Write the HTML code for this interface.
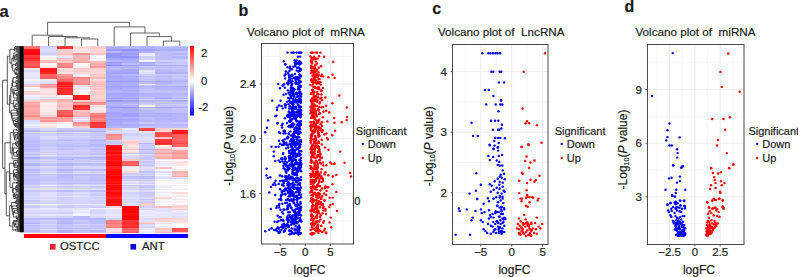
<!DOCTYPE html>
<html><head><meta charset="utf-8"><style>
html,body{margin:0;padding:0;background:#fff;width:798px;height:277px;overflow:hidden}
svg{display:block}
text{font-family:"Liberation Sans",sans-serif;fill:#1a1a1a;stroke:#1a1a1a;stroke-width:0.18px}
</style></head><body>
<svg width="798" height="277" viewBox="0 0 798 277">
<rect width="798" height="277" fill="#fff"/>
<g shape-rendering="crispEdges"><rect x="24.0" y="46.0" width="16.45" height="1.1" fill="#ff7979"/><rect x="24.0" y="47.0" width="16.45" height="2.0" fill="#ff6f6f"/><rect x="24.0" y="49.0" width="16.45" height="2.0" fill="#ff0c0c"/><rect x="24.0" y="51.0" width="16.45" height="1.6" fill="#ff0f0f"/><rect x="24.0" y="52.5" width="16.45" height="2.0" fill="#ff0000"/><rect x="24.0" y="54.5" width="16.45" height="1.1" fill="#ff3f3f"/><rect x="24.0" y="55.5" width="16.45" height="2.0" fill="#ff3535"/><rect x="24.0" y="57.5" width="16.45" height="1.1" fill="#ff2727"/><rect x="24.0" y="58.5" width="16.45" height="1.1" fill="#ff3232"/><rect x="24.0" y="59.5" width="16.45" height="1.1" fill="#ff3030"/><rect x="24.0" y="60.5" width="16.45" height="1.1" fill="#ff5656"/><rect x="24.0" y="61.5" width="16.45" height="1.6" fill="#ff5353"/><rect x="24.0" y="63.0" width="16.45" height="2.0" fill="#ff5858"/><rect x="24.0" y="65.0" width="16.45" height="1.1" fill="#ff5e5e"/><rect x="24.0" y="66.0" width="16.45" height="1.1" fill="#ff4949"/><rect x="24.0" y="67.0" width="16.45" height="1.1" fill="#ff4b4b"/><rect x="24.0" y="68.0" width="16.45" height="1.1" fill="#f0e8ff"/><rect x="24.0" y="69.0" width="16.45" height="1.1" fill="#f0e8ff"/><rect x="24.0" y="70.0" width="16.45" height="2.0" fill="#dbdbff"/><rect x="24.0" y="72.0" width="16.45" height="2.0" fill="#e5e5ff"/><rect x="24.0" y="74.0" width="16.45" height="2.0" fill="#eaeaff"/><rect x="24.0" y="76.0" width="16.45" height="1.1" fill="#e7e7ff"/><rect x="24.0" y="77.0" width="16.45" height="1.6" fill="#e2e2ff"/><rect x="24.0" y="78.5" width="16.45" height="2.0" fill="#f2f2ff"/><rect x="24.0" y="80.5" width="16.45" height="1.1" fill="#e5e5ff"/><rect x="24.0" y="81.5" width="16.45" height="1.6" fill="#e7e7ff"/><rect x="24.0" y="83.0" width="16.45" height="1.1" fill="#e1e1ff"/><rect x="24.0" y="84.0" width="16.45" height="1.1" fill="#d2d2ff"/><rect x="24.0" y="85.0" width="16.45" height="1.1" fill="#ffc6c6"/><rect x="24.0" y="86.0" width="16.45" height="1.1" fill="#ffbaba"/><rect x="24.0" y="87.0" width="16.45" height="1.1" fill="#f7f7ff"/><rect x="24.0" y="88.0" width="16.45" height="2.0" fill="#efefff"/><rect x="24.0" y="90.0" width="16.45" height="1.1" fill="#f9f9ff"/><rect x="24.0" y="91.0" width="16.45" height="1.6" fill="#ffcfcf"/><rect x="24.0" y="92.5" width="16.45" height="2.0" fill="#ffd5d5"/><rect x="24.0" y="94.5" width="16.45" height="2.0" fill="#f1f1ff"/><rect x="24.0" y="96.5" width="16.45" height="1.1" fill="#dfdfff"/><rect x="24.0" y="97.5" width="16.45" height="1.1" fill="#f7f7ff"/><rect x="24.0" y="98.5" width="16.45" height="1.1" fill="#dfdfff"/><rect x="24.0" y="99.5" width="16.45" height="2.0" fill="#ffd2d2"/><rect x="24.0" y="101.5" width="16.45" height="1.1" fill="#ff9e9e"/><rect x="24.0" y="102.5" width="16.45" height="1.1" fill="#ffb1b1"/><rect x="24.0" y="103.5" width="16.45" height="1.1" fill="#ffa9a9"/><rect x="24.0" y="104.5" width="16.45" height="1.1" fill="#ffa0a0"/><rect x="24.0" y="105.5" width="16.45" height="1.1" fill="#ffa1a1"/><rect x="24.0" y="106.5" width="16.45" height="1.1" fill="#ffa3a3"/><rect x="24.0" y="107.5" width="16.45" height="2.0" fill="#ffaaaa"/><rect x="24.0" y="109.5" width="16.45" height="2.0" fill="#ffa9a9"/><rect x="24.0" y="111.5" width="16.45" height="1.1" fill="#ffa1a1"/><rect x="24.0" y="112.5" width="16.45" height="1.6" fill="#ff9b9b"/><rect x="24.0" y="114.0" width="16.45" height="1.1" fill="#ffa8a8"/><rect x="24.0" y="115.0" width="16.45" height="2.0" fill="#ff8f8f"/><rect x="24.0" y="117.0" width="16.45" height="1.6" fill="#ffa8a8"/><rect x="24.0" y="118.5" width="16.45" height="1.6" fill="#ffaeae"/><rect x="24.0" y="120.0" width="16.45" height="2.0" fill="#d8d8ff"/><rect x="24.0" y="122.0" width="16.45" height="2.0" fill="#e0e0ff"/><rect x="24.0" y="124.0" width="16.45" height="1.6" fill="#eeeeff"/><rect x="24.0" y="125.5" width="16.45" height="2.0" fill="#e5e5ff"/><rect x="24.0" y="127.5" width="16.45" height="2.0" fill="#cacaff"/><rect x="24.0" y="129.5" width="16.45" height="1.6" fill="#bcbcff"/><rect x="24.0" y="131.0" width="16.45" height="1.1" fill="#b3b3ff"/><rect x="24.0" y="132.0" width="16.45" height="1.1" fill="#d7d7ff"/><rect x="24.0" y="133.0" width="16.45" height="1.1" fill="#c3c3ff"/><rect x="24.0" y="134.0" width="16.45" height="2.0" fill="#c5c5ff"/><rect x="24.0" y="136.0" width="16.45" height="1.1" fill="#c8c8ff"/><rect x="24.0" y="137.0" width="16.45" height="2.0" fill="#c7c7ff"/><rect x="24.0" y="139.0" width="16.45" height="1.1" fill="#c2c2ff"/><rect x="24.0" y="140.0" width="16.45" height="1.1" fill="#bcbcff"/><rect x="24.0" y="141.0" width="16.45" height="1.6" fill="#bcbcff"/><rect x="24.0" y="142.5" width="16.45" height="1.1" fill="#c4c4ff"/><rect x="24.0" y="143.5" width="16.45" height="1.1" fill="#b8b8ff"/><rect x="24.0" y="144.5" width="16.45" height="1.1" fill="#babaff"/><rect x="24.0" y="145.5" width="16.45" height="1.6" fill="#b8b8ff"/><rect x="24.0" y="147.0" width="16.45" height="1.6" fill="#c0c0ff"/><rect x="24.0" y="148.5" width="16.45" height="1.6" fill="#b9b9ff"/><rect x="24.0" y="150.0" width="16.45" height="1.6" fill="#c0c0ff"/><rect x="24.0" y="151.5" width="16.45" height="1.1" fill="#cfcfff"/><rect x="24.0" y="152.5" width="16.45" height="1.1" fill="#c9c9ff"/><rect x="24.0" y="153.5" width="16.45" height="1.1" fill="#c0c0ff"/><rect x="24.0" y="154.5" width="16.45" height="1.1" fill="#cdcdff"/><rect x="24.0" y="155.5" width="16.45" height="1.1" fill="#c5c5ff"/><rect x="24.0" y="156.5" width="16.45" height="2.0" fill="#aeaeff"/><rect x="24.0" y="158.5" width="16.45" height="1.6" fill="#bdbdff"/><rect x="24.0" y="160.0" width="16.45" height="1.1" fill="#cbcbff"/><rect x="24.0" y="161.0" width="16.45" height="1.1" fill="#c4c4ff"/><rect x="24.0" y="162.0" width="16.45" height="1.1" fill="#ceceff"/><rect x="24.0" y="163.0" width="16.45" height="2.0" fill="#b5b5ff"/><rect x="24.0" y="165.0" width="16.45" height="1.1" fill="#b3b3ff"/><rect x="24.0" y="166.0" width="16.45" height="1.1" fill="#ceceff"/><rect x="24.0" y="167.0" width="16.45" height="1.6" fill="#d0d0ff"/><rect x="24.0" y="168.5" width="16.45" height="2.0" fill="#babaff"/><rect x="24.0" y="170.5" width="16.45" height="2.0" fill="#c3c3ff"/><rect x="24.0" y="172.5" width="16.45" height="1.1" fill="#cfcfff"/><rect x="24.0" y="173.5" width="16.45" height="1.1" fill="#bfbfff"/><rect x="24.0" y="174.5" width="16.45" height="1.1" fill="#bfbfff"/><rect x="24.0" y="175.5" width="16.45" height="1.1" fill="#c4c4ff"/><rect x="24.0" y="176.5" width="16.45" height="2.0" fill="#c5c5ff"/><rect x="24.0" y="178.5" width="16.45" height="2.0" fill="#b9b9ff"/><rect x="24.0" y="180.5" width="16.45" height="2.0" fill="#c1c1ff"/><rect x="24.0" y="182.5" width="16.45" height="1.1" fill="#bcbcff"/><rect x="24.0" y="183.5" width="16.45" height="1.6" fill="#c4c4ff"/><rect x="24.0" y="185.0" width="16.45" height="1.1" fill="#d9d9ff"/><rect x="24.0" y="186.0" width="16.45" height="1.6" fill="#cfcfff"/><rect x="24.0" y="187.5" width="16.45" height="1.6" fill="#dfdfff"/><rect x="24.0" y="189.0" width="16.45" height="1.1" fill="#e2e2ff"/><rect x="24.0" y="190.0" width="16.45" height="2.0" fill="#c6c6ff"/><rect x="24.0" y="192.0" width="16.45" height="1.1" fill="#d3d3ff"/><rect x="24.0" y="193.0" width="16.45" height="1.1" fill="#d7d7ff"/><rect x="24.0" y="194.0" width="16.45" height="2.0" fill="#d1d1ff"/><rect x="24.0" y="196.0" width="16.45" height="1.1" fill="#dcdcff"/><rect x="24.0" y="197.0" width="16.45" height="1.6" fill="#d1d1ff"/><rect x="24.0" y="198.5" width="16.45" height="1.1" fill="#d9d9ff"/><rect x="24.0" y="199.5" width="16.45" height="1.1" fill="#cbcbff"/><rect x="24.0" y="200.5" width="16.45" height="2.0" fill="#cdcdff"/><rect x="24.0" y="202.5" width="16.45" height="1.1" fill="#cdcdff"/><rect x="24.0" y="203.5" width="16.45" height="1.6" fill="#eaeaff"/><rect x="24.0" y="205.0" width="16.45" height="1.1" fill="#d2d2ff"/><rect x="24.0" y="206.0" width="16.45" height="2.0" fill="#cacaff"/><rect x="24.0" y="208.0" width="16.45" height="1.1" fill="#e0e0ff"/><rect x="24.0" y="209.0" width="16.45" height="1.1" fill="#e6e6ff"/><rect x="24.0" y="210.0" width="16.45" height="1.6" fill="#d8d8ff"/><rect x="24.0" y="211.5" width="16.45" height="1.1" fill="#d8d8ff"/><rect x="24.0" y="212.5" width="16.45" height="1.6" fill="#d0d0ff"/><rect x="24.0" y="214.0" width="16.45" height="2.0" fill="#e3e3ff"/><rect x="24.0" y="216.0" width="16.45" height="2.0" fill="#d5d5ff"/><rect x="24.0" y="218.0" width="16.45" height="2.0" fill="#bbbbff"/><rect x="24.0" y="220.0" width="16.45" height="1.6" fill="#c6c6ff"/><rect x="24.0" y="221.5" width="16.45" height="1.1" fill="#bbbbff"/><rect x="24.0" y="222.5" width="16.45" height="1.6" fill="#b5b5ff"/><rect x="24.0" y="224.0" width="16.45" height="1.1" fill="#cacaff"/><rect x="24.0" y="225.0" width="16.45" height="1.1" fill="#bebeff"/><rect x="24.0" y="226.0" width="16.45" height="2.0" fill="#c6c6ff"/><rect x="24.0" y="228.0" width="16.45" height="1.1" fill="#c3c3ff"/><rect x="24.0" y="229.0" width="16.45" height="1.1" fill="#c8c8ff"/><rect x="24.0" y="230.0" width="16.45" height="1.6" fill="#b7b7ff"/><rect x="24.0" y="231.5" width="16.45" height="1.1" fill="#cdcdff"/><rect x="40.4" y="46.0" width="16.45" height="1.1" fill="#cdcdff"/><rect x="40.4" y="47.0" width="16.45" height="2.0" fill="#d4d4ff"/><rect x="40.4" y="49.0" width="16.45" height="2.0" fill="#dbdbff"/><rect x="40.4" y="51.0" width="16.45" height="1.6" fill="#d9d9ff"/><rect x="40.4" y="52.5" width="16.45" height="2.0" fill="#ceceff"/><rect x="40.4" y="54.5" width="16.45" height="1.1" fill="#e4e4ff"/><rect x="40.4" y="55.5" width="16.45" height="2.0" fill="#fff2f2"/><rect x="40.4" y="57.5" width="16.45" height="1.1" fill="#ffecec"/><rect x="40.4" y="58.5" width="16.45" height="1.1" fill="#fff5f5"/><rect x="40.4" y="59.5" width="16.45" height="1.1" fill="#ffb2b2"/><rect x="40.4" y="60.5" width="16.45" height="1.1" fill="#ffc0c0"/><rect x="40.4" y="61.5" width="16.45" height="1.6" fill="#ffb0b0"/><rect x="40.4" y="63.0" width="16.45" height="2.0" fill="#fff3f3"/><rect x="40.4" y="65.0" width="16.45" height="1.1" fill="#fff1f1"/><rect x="40.4" y="66.0" width="16.45" height="1.1" fill="#ffe7e7"/><rect x="40.4" y="67.0" width="16.45" height="1.1" fill="#ffe7e7"/><rect x="40.4" y="68.0" width="16.45" height="1.1" fill="#ff1515"/><rect x="40.4" y="69.0" width="16.45" height="1.1" fill="#ff1919"/><rect x="40.4" y="70.0" width="16.45" height="2.0" fill="#ff1414"/><rect x="40.4" y="72.0" width="16.45" height="2.0" fill="#ff2525"/><rect x="40.4" y="74.0" width="16.45" height="2.0" fill="#ff6666"/><rect x="40.4" y="76.0" width="16.45" height="1.1" fill="#ff6666"/><rect x="40.4" y="77.0" width="16.45" height="1.6" fill="#ff5959"/><rect x="40.4" y="78.5" width="16.45" height="2.0" fill="#ececff"/><rect x="40.4" y="80.5" width="16.45" height="1.1" fill="#dfdfff"/><rect x="40.4" y="81.5" width="16.45" height="1.6" fill="#d9d9ff"/><rect x="40.4" y="83.0" width="16.45" height="1.1" fill="#dedeff"/><rect x="40.4" y="84.0" width="16.45" height="1.1" fill="#ff9191"/><rect x="40.4" y="85.0" width="16.45" height="1.1" fill="#ffa7a7"/><rect x="40.4" y="86.0" width="16.45" height="1.1" fill="#ff9494"/><rect x="40.4" y="87.0" width="16.45" height="1.1" fill="#ffa7a7"/><rect x="40.4" y="88.0" width="16.45" height="2.0" fill="#ffdada"/><rect x="40.4" y="90.0" width="16.45" height="1.1" fill="#ffe0e0"/><rect x="40.4" y="91.0" width="16.45" height="1.6" fill="#ffe4e4"/><rect x="40.4" y="92.5" width="16.45" height="2.0" fill="#ffd9d9"/><rect x="40.4" y="94.5" width="16.45" height="2.0" fill="#ffe7e7"/><rect x="40.4" y="96.5" width="16.45" height="1.1" fill="#ddddff"/><rect x="40.4" y="97.5" width="16.45" height="1.1" fill="#ebebff"/><rect x="40.4" y="98.5" width="16.45" height="1.1" fill="#ffc3c3"/><rect x="40.4" y="99.5" width="16.45" height="2.0" fill="#ffc9c9"/><rect x="40.4" y="101.5" width="16.45" height="1.1" fill="#ffe4e4"/><rect x="40.4" y="102.5" width="16.45" height="1.1" fill="#fff1f1"/><rect x="40.4" y="103.5" width="16.45" height="1.1" fill="#ffeded"/><rect x="40.4" y="104.5" width="16.45" height="1.1" fill="#ffe7e7"/><rect x="40.4" y="105.5" width="16.45" height="1.1" fill="#ffe0e0"/><rect x="40.4" y="106.5" width="16.45" height="1.1" fill="#fff0f0"/><rect x="40.4" y="107.5" width="16.45" height="2.0" fill="#ffe9e9"/><rect x="40.4" y="109.5" width="16.45" height="2.0" fill="#ffe8e8"/><rect x="40.4" y="111.5" width="16.45" height="1.1" fill="#ffe2e2"/><rect x="40.4" y="112.5" width="16.45" height="1.6" fill="#ffe2e2"/><rect x="40.4" y="114.0" width="16.45" height="1.1" fill="#ffe8e8"/><rect x="40.4" y="115.0" width="16.45" height="2.0" fill="#ffcece"/><rect x="40.4" y="117.0" width="16.45" height="1.6" fill="#ff9999"/><rect x="40.4" y="118.5" width="16.45" height="1.6" fill="#ffaaaa"/><rect x="40.4" y="120.0" width="16.45" height="2.0" fill="#ff9292"/><rect x="40.4" y="122.0" width="16.45" height="2.0" fill="#ffdbdb"/><rect x="40.4" y="124.0" width="16.45" height="1.6" fill="#ffefef"/><rect x="40.4" y="125.5" width="16.45" height="2.0" fill="#ffe2e2"/><rect x="40.4" y="127.5" width="16.45" height="2.0" fill="#d6d6ff"/><rect x="40.4" y="129.5" width="16.45" height="1.6" fill="#d1d1ff"/><rect x="40.4" y="131.0" width="16.45" height="1.1" fill="#bebeff"/><rect x="40.4" y="132.0" width="16.45" height="1.1" fill="#e6e6ff"/><rect x="40.4" y="133.0" width="16.45" height="1.1" fill="#d1d1ff"/><rect x="40.4" y="134.0" width="16.45" height="2.0" fill="#ceceff"/><rect x="40.4" y="136.0" width="16.45" height="1.1" fill="#dbdbff"/><rect x="40.4" y="137.0" width="16.45" height="2.0" fill="#dfdfff"/><rect x="40.4" y="139.0" width="16.45" height="1.1" fill="#d2d2ff"/><rect x="40.4" y="140.0" width="16.45" height="1.1" fill="#c4c4ff"/><rect x="40.4" y="141.0" width="16.45" height="1.6" fill="#ccccff"/><rect x="40.4" y="142.5" width="16.45" height="1.1" fill="#c9c9ff"/><rect x="40.4" y="143.5" width="16.45" height="1.1" fill="#c5c5ff"/><rect x="40.4" y="144.5" width="16.45" height="1.1" fill="#bfbfff"/><rect x="40.4" y="145.5" width="16.45" height="1.6" fill="#c9c9ff"/><rect x="40.4" y="147.0" width="16.45" height="1.6" fill="#cdcdff"/><rect x="40.4" y="148.5" width="16.45" height="1.6" fill="#ceceff"/><rect x="40.4" y="150.0" width="16.45" height="1.6" fill="#d4d4ff"/><rect x="40.4" y="151.5" width="16.45" height="1.1" fill="#d1d1ff"/><rect x="40.4" y="152.5" width="16.45" height="1.1" fill="#dadaff"/><rect x="40.4" y="153.5" width="16.45" height="1.1" fill="#d2d2ff"/><rect x="40.4" y="154.5" width="16.45" height="1.1" fill="#e2e2ff"/><rect x="40.4" y="155.5" width="16.45" height="1.1" fill="#d4d4ff"/><rect x="40.4" y="156.5" width="16.45" height="2.0" fill="#c1c1ff"/><rect x="40.4" y="158.5" width="16.45" height="1.6" fill="#cdcdff"/><rect x="40.4" y="160.0" width="16.45" height="1.1" fill="#ddddff"/><rect x="40.4" y="161.0" width="16.45" height="1.1" fill="#c7c7ff"/><rect x="40.4" y="162.0" width="16.45" height="1.1" fill="#d7d7ff"/><rect x="40.4" y="163.0" width="16.45" height="2.0" fill="#c6c6ff"/><rect x="40.4" y="165.0" width="16.45" height="1.1" fill="#bbbbff"/><rect x="40.4" y="166.0" width="16.45" height="1.1" fill="#e3e3ff"/><rect x="40.4" y="167.0" width="16.45" height="1.6" fill="#d5d5ff"/><rect x="40.4" y="168.5" width="16.45" height="2.0" fill="#cacaff"/><rect x="40.4" y="170.5" width="16.45" height="2.0" fill="#d4d4ff"/><rect x="40.4" y="172.5" width="16.45" height="1.1" fill="#dfdfff"/><rect x="40.4" y="173.5" width="16.45" height="1.1" fill="#c5c5ff"/><rect x="40.4" y="174.5" width="16.45" height="1.1" fill="#cfcfff"/><rect x="40.4" y="175.5" width="16.45" height="1.1" fill="#c8c8ff"/><rect x="40.4" y="176.5" width="16.45" height="2.0" fill="#c6c6ff"/><rect x="40.4" y="178.5" width="16.45" height="2.0" fill="#c7c7ff"/><rect x="40.4" y="180.5" width="16.45" height="2.0" fill="#cfcfff"/><rect x="40.4" y="182.5" width="16.45" height="1.1" fill="#c9c9ff"/><rect x="40.4" y="183.5" width="16.45" height="1.6" fill="#d3d3ff"/><rect x="40.4" y="185.0" width="16.45" height="1.1" fill="#e9e9ff"/><rect x="40.4" y="186.0" width="16.45" height="1.6" fill="#d4d4ff"/><rect x="40.4" y="187.5" width="16.45" height="1.6" fill="#e4e4ff"/><rect x="40.4" y="189.0" width="16.45" height="1.1" fill="#e0e0ff"/><rect x="40.4" y="190.0" width="16.45" height="2.0" fill="#c9c9ff"/><rect x="40.4" y="192.0" width="16.45" height="1.1" fill="#e2e2ff"/><rect x="40.4" y="193.0" width="16.45" height="1.1" fill="#dedeff"/><rect x="40.4" y="194.0" width="16.45" height="2.0" fill="#ddddff"/><rect x="40.4" y="196.0" width="16.45" height="1.1" fill="#e6e6ff"/><rect x="40.4" y="197.0" width="16.45" height="1.6" fill="#d7d7ff"/><rect x="40.4" y="198.5" width="16.45" height="1.1" fill="#e3e3ff"/><rect x="40.4" y="199.5" width="16.45" height="1.1" fill="#d8d8ff"/><rect x="40.4" y="200.5" width="16.45" height="2.0" fill="#d7d7ff"/><rect x="40.4" y="202.5" width="16.45" height="1.1" fill="#d0d0ff"/><rect x="40.4" y="203.5" width="16.45" height="1.6" fill="#f4f4ff"/><rect x="40.4" y="205.0" width="16.45" height="1.1" fill="#dedeff"/><rect x="40.4" y="206.0" width="16.45" height="2.0" fill="#d4d4ff"/><rect x="40.4" y="208.0" width="16.45" height="1.1" fill="#ebebff"/><rect x="40.4" y="209.0" width="16.45" height="1.1" fill="#e3e3ff"/><rect x="40.4" y="210.0" width="16.45" height="1.6" fill="#ddddff"/><rect x="40.4" y="211.5" width="16.45" height="1.1" fill="#d6d6ff"/><rect x="40.4" y="212.5" width="16.45" height="1.6" fill="#d3d3ff"/><rect x="40.4" y="214.0" width="16.45" height="2.0" fill="#e5e5ff"/><rect x="40.4" y="216.0" width="16.45" height="2.0" fill="#d7d7ff"/><rect x="40.4" y="218.0" width="16.45" height="2.0" fill="#babaff"/><rect x="40.4" y="220.0" width="16.45" height="1.6" fill="#d2d2ff"/><rect x="40.4" y="221.5" width="16.45" height="1.1" fill="#c8c8ff"/><rect x="40.4" y="222.5" width="16.45" height="1.6" fill="#cbcbff"/><rect x="40.4" y="224.0" width="16.45" height="1.1" fill="#d8d8ff"/><rect x="40.4" y="225.0" width="16.45" height="1.1" fill="#cbcbff"/><rect x="40.4" y="226.0" width="16.45" height="2.0" fill="#ceceff"/><rect x="40.4" y="228.0" width="16.45" height="1.1" fill="#cbcbff"/><rect x="40.4" y="229.0" width="16.45" height="1.1" fill="#dadaff"/><rect x="40.4" y="230.0" width="16.45" height="1.6" fill="#cacaff"/><rect x="40.4" y="231.5" width="16.45" height="1.1" fill="#d1d1ff"/><rect x="56.8" y="46.0" width="16.45" height="1.1" fill="#ff3737"/><rect x="56.8" y="47.0" width="16.45" height="2.0" fill="#ff3535"/><rect x="56.8" y="49.0" width="16.45" height="2.0" fill="#ffcaca"/><rect x="56.8" y="51.0" width="16.45" height="1.6" fill="#ffcdcd"/><rect x="56.8" y="52.5" width="16.45" height="2.0" fill="#ffbebe"/><rect x="56.8" y="54.5" width="16.45" height="1.1" fill="#ffdada"/><rect x="56.8" y="55.5" width="16.45" height="2.0" fill="#e7e7ff"/><rect x="56.8" y="57.5" width="16.45" height="1.1" fill="#ffbbbb"/><rect x="56.8" y="58.5" width="16.45" height="1.1" fill="#ffc8c8"/><rect x="56.8" y="59.5" width="16.45" height="1.1" fill="#ffbcbc"/><rect x="56.8" y="60.5" width="16.45" height="1.1" fill="#ffc8c8"/><rect x="56.8" y="61.5" width="16.45" height="1.6" fill="#ffc0c0"/><rect x="56.8" y="63.0" width="16.45" height="2.0" fill="#ff8c8c"/><rect x="56.8" y="65.0" width="16.45" height="1.1" fill="#ff8c8c"/><rect x="56.8" y="66.0" width="16.45" height="1.1" fill="#ff8080"/><rect x="56.8" y="67.0" width="16.45" height="1.1" fill="#ff7b7b"/><rect x="56.8" y="68.0" width="16.45" height="1.1" fill="#ffd8d8"/><rect x="56.8" y="69.0" width="16.45" height="1.1" fill="#ffe1e1"/><rect x="56.8" y="70.0" width="16.45" height="2.0" fill="#ffd4d4"/><rect x="56.8" y="72.0" width="16.45" height="2.0" fill="#ffe5e5"/><rect x="56.8" y="74.0" width="16.45" height="2.0" fill="#ff9797"/><rect x="56.8" y="76.0" width="16.45" height="1.1" fill="#ff9090"/><rect x="56.8" y="77.0" width="16.45" height="1.6" fill="#ff8585"/><rect x="56.8" y="78.5" width="16.45" height="2.0" fill="#ff6767"/><rect x="56.8" y="80.5" width="16.45" height="1.1" fill="#ff5c5c"/><rect x="56.8" y="81.5" width="16.45" height="1.6" fill="#ff2a2a"/><rect x="56.8" y="83.0" width="16.45" height="1.1" fill="#ff1c1c"/><rect x="56.8" y="84.0" width="16.45" height="1.1" fill="#ff1a1a"/><rect x="56.8" y="85.0" width="16.45" height="1.1" fill="#ff2c2c"/><rect x="56.8" y="86.0" width="16.45" height="1.1" fill="#ff1818"/><rect x="56.8" y="87.0" width="16.45" height="1.1" fill="#ff3b3b"/><rect x="56.8" y="88.0" width="16.45" height="2.0" fill="#ff2727"/><rect x="56.8" y="90.0" width="16.45" height="1.1" fill="#ff3030"/><rect x="56.8" y="91.0" width="16.45" height="1.6" fill="#ff2f2f"/><rect x="56.8" y="92.5" width="16.45" height="2.0" fill="#ff2f2f"/><rect x="56.8" y="94.5" width="16.45" height="2.0" fill="#fffafa"/><rect x="56.8" y="96.5" width="16.45" height="1.1" fill="#ffe7e7"/><rect x="56.8" y="97.5" width="16.45" height="1.1" fill="#fff6f6"/><rect x="56.8" y="98.5" width="16.45" height="1.1" fill="#ffb5b5"/><rect x="56.8" y="99.5" width="16.45" height="2.0" fill="#ffacac"/><rect x="56.8" y="101.5" width="16.45" height="1.1" fill="#ffc0c0"/><rect x="56.8" y="102.5" width="16.45" height="1.1" fill="#ffc8c8"/><rect x="56.8" y="103.5" width="16.45" height="1.1" fill="#ffbdbd"/><rect x="56.8" y="104.5" width="16.45" height="1.1" fill="#ffbcbc"/><rect x="56.8" y="105.5" width="16.45" height="1.1" fill="#ffb7b7"/><rect x="56.8" y="106.5" width="16.45" height="1.1" fill="#ffc4c4"/><rect x="56.8" y="107.5" width="16.45" height="2.0" fill="#ffc9c9"/><rect x="56.8" y="109.5" width="16.45" height="2.0" fill="#ff6464"/><rect x="56.8" y="111.5" width="16.45" height="1.1" fill="#ff5757"/><rect x="56.8" y="112.5" width="16.45" height="1.6" fill="#ff5959"/><rect x="56.8" y="114.0" width="16.45" height="1.1" fill="#ff5d5d"/><rect x="56.8" y="115.0" width="16.45" height="2.0" fill="#ff4b4b"/><rect x="56.8" y="117.0" width="16.45" height="1.6" fill="#ff9797"/><rect x="56.8" y="118.5" width="16.45" height="1.6" fill="#ffa9a9"/><rect x="56.8" y="120.0" width="16.45" height="2.0" fill="#ff9e9e"/><rect x="56.8" y="122.0" width="16.45" height="2.0" fill="#fff2f2"/><rect x="56.8" y="124.0" width="16.45" height="1.6" fill="#ffffff"/><rect x="56.8" y="125.5" width="16.45" height="2.0" fill="#fff6f6"/><rect x="56.8" y="127.5" width="16.45" height="2.0" fill="#c9c9ff"/><rect x="56.8" y="129.5" width="16.45" height="1.6" fill="#c1c1ff"/><rect x="56.8" y="131.0" width="16.45" height="1.1" fill="#b5b5ff"/><rect x="56.8" y="132.0" width="16.45" height="1.1" fill="#dbdbff"/><rect x="56.8" y="133.0" width="16.45" height="1.1" fill="#c1c1ff"/><rect x="56.8" y="134.0" width="16.45" height="2.0" fill="#c9c9ff"/><rect x="56.8" y="136.0" width="16.45" height="1.1" fill="#d4d4ff"/><rect x="56.8" y="137.0" width="16.45" height="2.0" fill="#ceceff"/><rect x="56.8" y="139.0" width="16.45" height="1.1" fill="#c5c5ff"/><rect x="56.8" y="140.0" width="16.45" height="1.1" fill="#b7b7ff"/><rect x="56.8" y="141.0" width="16.45" height="1.6" fill="#cbcbff"/><rect x="56.8" y="142.5" width="16.45" height="1.1" fill="#c6c6ff"/><rect x="56.8" y="143.5" width="16.45" height="1.1" fill="#c0c0ff"/><rect x="56.8" y="144.5" width="16.45" height="1.1" fill="#c0c0ff"/><rect x="56.8" y="145.5" width="16.45" height="1.6" fill="#babaff"/><rect x="56.8" y="147.0" width="16.45" height="1.6" fill="#c6c6ff"/><rect x="56.8" y="148.5" width="16.45" height="1.6" fill="#bcbcff"/><rect x="56.8" y="150.0" width="16.45" height="1.6" fill="#ccccff"/><rect x="56.8" y="151.5" width="16.45" height="1.1" fill="#d1d1ff"/><rect x="56.8" y="152.5" width="16.45" height="1.1" fill="#cacaff"/><rect x="56.8" y="153.5" width="16.45" height="1.1" fill="#c6c6ff"/><rect x="56.8" y="154.5" width="16.45" height="1.1" fill="#d3d3ff"/><rect x="56.8" y="155.5" width="16.45" height="1.1" fill="#cbcbff"/><rect x="56.8" y="156.5" width="16.45" height="2.0" fill="#babaff"/><rect x="56.8" y="158.5" width="16.45" height="1.6" fill="#b0b0ff"/><rect x="56.8" y="160.0" width="16.45" height="1.1" fill="#cdcdff"/><rect x="56.8" y="161.0" width="16.45" height="1.1" fill="#c3c3ff"/><rect x="56.8" y="162.0" width="16.45" height="1.1" fill="#cacaff"/><rect x="56.8" y="163.0" width="16.45" height="2.0" fill="#b2b2ff"/><rect x="56.8" y="165.0" width="16.45" height="1.1" fill="#b8b8ff"/><rect x="56.8" y="166.0" width="16.45" height="1.1" fill="#cfcfff"/><rect x="56.8" y="167.0" width="16.45" height="1.6" fill="#cacaff"/><rect x="56.8" y="168.5" width="16.45" height="2.0" fill="#b5b5ff"/><rect x="56.8" y="170.5" width="16.45" height="2.0" fill="#c4c4ff"/><rect x="56.8" y="172.5" width="16.45" height="1.1" fill="#ceceff"/><rect x="56.8" y="173.5" width="16.45" height="1.1" fill="#bdbdff"/><rect x="56.8" y="174.5" width="16.45" height="1.1" fill="#b7b7ff"/><rect x="56.8" y="175.5" width="16.45" height="1.1" fill="#b6b6ff"/><rect x="56.8" y="176.5" width="16.45" height="2.0" fill="#bfbfff"/><rect x="56.8" y="178.5" width="16.45" height="2.0" fill="#bebeff"/><rect x="56.8" y="180.5" width="16.45" height="2.0" fill="#c9c9ff"/><rect x="56.8" y="182.5" width="16.45" height="1.1" fill="#babaff"/><rect x="56.8" y="183.5" width="16.45" height="1.6" fill="#cacaff"/><rect x="56.8" y="185.0" width="16.45" height="1.1" fill="#dbdbff"/><rect x="56.8" y="186.0" width="16.45" height="1.6" fill="#cacaff"/><rect x="56.8" y="187.5" width="16.45" height="1.6" fill="#d9d9ff"/><rect x="56.8" y="189.0" width="16.45" height="1.1" fill="#dfdfff"/><rect x="56.8" y="190.0" width="16.45" height="2.0" fill="#bbbbff"/><rect x="56.8" y="192.0" width="16.45" height="1.1" fill="#d2d2ff"/><rect x="56.8" y="193.0" width="16.45" height="1.1" fill="#d3d3ff"/><rect x="56.8" y="194.0" width="16.45" height="2.0" fill="#d1d1ff"/><rect x="56.8" y="196.0" width="16.45" height="1.1" fill="#e3e3ff"/><rect x="56.8" y="197.0" width="16.45" height="1.6" fill="#cdcdff"/><rect x="56.8" y="198.5" width="16.45" height="1.1" fill="#d3d3ff"/><rect x="56.8" y="199.5" width="16.45" height="1.1" fill="#d3d3ff"/><rect x="56.8" y="200.5" width="16.45" height="2.0" fill="#d5d5ff"/><rect x="56.8" y="202.5" width="16.45" height="1.1" fill="#d0d0ff"/><rect x="56.8" y="203.5" width="16.45" height="1.6" fill="#e8e8ff"/><rect x="56.8" y="205.0" width="16.45" height="1.1" fill="#ceceff"/><rect x="56.8" y="206.0" width="16.45" height="2.0" fill="#c9c9ff"/><rect x="56.8" y="208.0" width="16.45" height="1.1" fill="#e0e0ff"/><rect x="56.8" y="209.0" width="16.45" height="1.1" fill="#e2e2ff"/><rect x="56.8" y="210.0" width="16.45" height="1.6" fill="#ddddff"/><rect x="56.8" y="211.5" width="16.45" height="1.1" fill="#d1d1ff"/><rect x="56.8" y="212.5" width="16.45" height="1.6" fill="#d2d2ff"/><rect x="56.8" y="214.0" width="16.45" height="2.0" fill="#e7e7ff"/><rect x="56.8" y="216.0" width="16.45" height="2.0" fill="#d0d0ff"/><rect x="56.8" y="218.0" width="16.45" height="2.0" fill="#b5b5ff"/><rect x="56.8" y="220.0" width="16.45" height="1.6" fill="#bebeff"/><rect x="56.8" y="221.5" width="16.45" height="1.1" fill="#b3b3ff"/><rect x="56.8" y="222.5" width="16.45" height="1.6" fill="#b6b6ff"/><rect x="56.8" y="224.0" width="16.45" height="1.1" fill="#c5c5ff"/><rect x="56.8" y="225.0" width="16.45" height="1.1" fill="#c3c3ff"/><rect x="56.8" y="226.0" width="16.45" height="2.0" fill="#c3c3ff"/><rect x="56.8" y="228.0" width="16.45" height="1.1" fill="#babaff"/><rect x="56.8" y="229.0" width="16.45" height="1.1" fill="#c5c5ff"/><rect x="56.8" y="230.0" width="16.45" height="1.6" fill="#b1b1ff"/><rect x="56.8" y="231.5" width="16.45" height="1.1" fill="#b6b6ff"/><rect x="73.2" y="46.0" width="16.45" height="1.1" fill="#ffe2e2"/><rect x="73.2" y="47.0" width="16.45" height="2.0" fill="#ffd8d8"/><rect x="73.2" y="49.0" width="16.45" height="2.0" fill="#ffe5e5"/><rect x="73.2" y="51.0" width="16.45" height="1.6" fill="#ffe1e1"/><rect x="73.2" y="52.5" width="16.45" height="2.0" fill="#ff9696"/><rect x="73.2" y="54.5" width="16.45" height="1.1" fill="#ffb8b8"/><rect x="73.2" y="55.5" width="16.45" height="2.0" fill="#ffb8b8"/><rect x="73.2" y="57.5" width="16.45" height="1.1" fill="#ffafaf"/><rect x="73.2" y="58.5" width="16.45" height="1.1" fill="#ffb1b1"/><rect x="73.2" y="59.5" width="16.45" height="1.1" fill="#ffb5b5"/><rect x="73.2" y="60.5" width="16.45" height="1.1" fill="#ffa8a8"/><rect x="73.2" y="61.5" width="16.45" height="1.6" fill="#ffa2a2"/><rect x="73.2" y="63.0" width="16.45" height="2.0" fill="#fff7f7"/><rect x="73.2" y="65.0" width="16.45" height="1.1" fill="#fff5f5"/><rect x="73.2" y="66.0" width="16.45" height="1.1" fill="#ffeeee"/><rect x="73.2" y="67.0" width="16.45" height="1.1" fill="#ffefef"/><rect x="73.2" y="68.0" width="16.45" height="1.1" fill="#ffc5c5"/><rect x="73.2" y="69.0" width="16.45" height="1.1" fill="#ffd4d4"/><rect x="73.2" y="70.0" width="16.45" height="2.0" fill="#ffcbcb"/><rect x="73.2" y="72.0" width="16.45" height="2.0" fill="#ffd7d7"/><rect x="73.2" y="74.0" width="16.45" height="2.0" fill="#ededff"/><rect x="73.2" y="76.0" width="16.45" height="1.1" fill="#f2f2ff"/><rect x="73.2" y="77.0" width="16.45" height="1.6" fill="#ff8585"/><rect x="73.2" y="78.5" width="16.45" height="2.0" fill="#ff9494"/><rect x="73.2" y="80.5" width="16.45" height="1.1" fill="#ff9696"/><rect x="73.2" y="81.5" width="16.45" height="1.6" fill="#ff9494"/><rect x="73.2" y="83.0" width="16.45" height="1.1" fill="#ff8e8e"/><rect x="73.2" y="84.0" width="16.45" height="1.1" fill="#ff7a7a"/><rect x="73.2" y="85.0" width="16.45" height="1.1" fill="#eeeeff"/><rect x="73.2" y="86.0" width="16.45" height="1.1" fill="#d4d4ff"/><rect x="73.2" y="87.0" width="16.45" height="1.1" fill="#f4f4ff"/><rect x="73.2" y="88.0" width="16.45" height="2.0" fill="#ececff"/><rect x="73.2" y="90.0" width="16.45" height="1.1" fill="#ffffff"/><rect x="73.2" y="91.0" width="16.45" height="1.6" fill="#fff2f2"/><rect x="73.2" y="92.5" width="16.45" height="2.0" fill="#fff9f9"/><rect x="73.2" y="94.5" width="16.45" height="2.0" fill="#ff2525"/><rect x="73.2" y="96.5" width="16.45" height="1.1" fill="#ff1a1a"/><rect x="73.2" y="97.5" width="16.45" height="1.1" fill="#ff2b2b"/><rect x="73.2" y="98.5" width="16.45" height="1.1" fill="#ff1414"/><rect x="73.2" y="99.5" width="16.45" height="2.0" fill="#ffcfcf"/><rect x="73.2" y="101.5" width="16.45" height="1.1" fill="#ff8282"/><rect x="73.2" y="102.5" width="16.45" height="1.1" fill="#ff9b9b"/><rect x="73.2" y="103.5" width="16.45" height="1.1" fill="#ff9393"/><rect x="73.2" y="104.5" width="16.45" height="1.1" fill="#ff3131"/><rect x="73.2" y="105.5" width="16.45" height="1.1" fill="#ff2626"/><rect x="73.2" y="106.5" width="16.45" height="1.1" fill="#ff3434"/><rect x="73.2" y="107.5" width="16.45" height="2.0" fill="#ff3535"/><rect x="73.2" y="109.5" width="16.45" height="2.0" fill="#ffc0c0"/><rect x="73.2" y="111.5" width="16.45" height="1.1" fill="#ffb6b6"/><rect x="73.2" y="112.5" width="16.45" height="1.6" fill="#ffbbbb"/><rect x="73.2" y="114.0" width="16.45" height="1.1" fill="#ffb9b9"/><rect x="73.2" y="115.0" width="16.45" height="2.0" fill="#ffadad"/><rect x="73.2" y="117.0" width="16.45" height="1.6" fill="#e4dcff"/><rect x="73.2" y="118.5" width="16.45" height="1.6" fill="#fbf3ff"/><rect x="73.2" y="120.0" width="16.45" height="2.0" fill="#e3dbff"/><rect x="73.2" y="122.0" width="16.45" height="2.0" fill="#ff8e8e"/><rect x="73.2" y="124.0" width="16.45" height="1.6" fill="#ff9f9f"/><rect x="73.2" y="125.5" width="16.45" height="2.0" fill="#ffd2d2"/><rect x="73.2" y="127.5" width="16.45" height="2.0" fill="#d0d0ff"/><rect x="73.2" y="129.5" width="16.45" height="1.6" fill="#bcbcff"/><rect x="73.2" y="131.0" width="16.45" height="1.1" fill="#b9b9ff"/><rect x="73.2" y="132.0" width="16.45" height="1.1" fill="#e1e1ff"/><rect x="73.2" y="133.0" width="16.45" height="1.1" fill="#c8c8ff"/><rect x="73.2" y="134.0" width="16.45" height="2.0" fill="#ceceff"/><rect x="73.2" y="136.0" width="16.45" height="1.1" fill="#d6d6ff"/><rect x="73.2" y="137.0" width="16.45" height="2.0" fill="#d1d1ff"/><rect x="73.2" y="139.0" width="16.45" height="1.1" fill="#c4c4ff"/><rect x="73.2" y="140.0" width="16.45" height="1.1" fill="#c2c2ff"/><rect x="73.2" y="141.0" width="16.45" height="1.6" fill="#c9c9ff"/><rect x="73.2" y="142.5" width="16.45" height="1.1" fill="#c1c1ff"/><rect x="73.2" y="143.5" width="16.45" height="1.1" fill="#c7c7ff"/><rect x="73.2" y="144.5" width="16.45" height="1.1" fill="#bcbcff"/><rect x="73.2" y="145.5" width="16.45" height="1.6" fill="#babaff"/><rect x="73.2" y="147.0" width="16.45" height="1.6" fill="#cacaff"/><rect x="73.2" y="148.5" width="16.45" height="1.6" fill="#c9c9ff"/><rect x="73.2" y="150.0" width="16.45" height="1.6" fill="#ceceff"/><rect x="73.2" y="151.5" width="16.45" height="1.1" fill="#d0d0ff"/><rect x="73.2" y="152.5" width="16.45" height="1.1" fill="#c8c8ff"/><rect x="73.2" y="153.5" width="16.45" height="1.1" fill="#c5c5ff"/><rect x="73.2" y="154.5" width="16.45" height="1.1" fill="#d7d7ff"/><rect x="73.2" y="155.5" width="16.45" height="1.1" fill="#cfcfff"/><rect x="73.2" y="156.5" width="16.45" height="2.0" fill="#b7b7ff"/><rect x="73.2" y="158.5" width="16.45" height="1.6" fill="#cbcbff"/><rect x="73.2" y="160.0" width="16.45" height="1.1" fill="#c9c9ff"/><rect x="73.2" y="161.0" width="16.45" height="1.1" fill="#c9c9ff"/><rect x="73.2" y="162.0" width="16.45" height="1.1" fill="#d3d3ff"/><rect x="73.2" y="163.0" width="16.45" height="2.0" fill="#bbbbff"/><rect x="73.2" y="165.0" width="16.45" height="1.1" fill="#c7c7ff"/><rect x="73.2" y="166.0" width="16.45" height="1.1" fill="#dbdbff"/><rect x="73.2" y="167.0" width="16.45" height="1.6" fill="#d4d4ff"/><rect x="73.2" y="168.5" width="16.45" height="2.0" fill="#bdbdff"/><rect x="73.2" y="170.5" width="16.45" height="2.0" fill="#d6d6ff"/><rect x="73.2" y="172.5" width="16.45" height="1.1" fill="#dcdcff"/><rect x="73.2" y="173.5" width="16.45" height="1.1" fill="#c3c3ff"/><rect x="73.2" y="174.5" width="16.45" height="1.1" fill="#bcbcff"/><rect x="73.2" y="175.5" width="16.45" height="1.1" fill="#c9c9ff"/><rect x="73.2" y="176.5" width="16.45" height="2.0" fill="#cacaff"/><rect x="73.2" y="178.5" width="16.45" height="2.0" fill="#c2c2ff"/><rect x="73.2" y="180.5" width="16.45" height="2.0" fill="#c7c7ff"/><rect x="73.2" y="182.5" width="16.45" height="1.1" fill="#bcbcff"/><rect x="73.2" y="183.5" width="16.45" height="1.6" fill="#d5d5ff"/><rect x="73.2" y="185.0" width="16.45" height="1.1" fill="#e3e3ff"/><rect x="73.2" y="186.0" width="16.45" height="1.6" fill="#d1d1ff"/><rect x="73.2" y="187.5" width="16.45" height="1.6" fill="#d6d6ff"/><rect x="73.2" y="189.0" width="16.45" height="1.1" fill="#e1e1ff"/><rect x="73.2" y="190.0" width="16.45" height="2.0" fill="#c6c6ff"/><rect x="73.2" y="192.0" width="16.45" height="1.1" fill="#d9d9ff"/><rect x="73.2" y="193.0" width="16.45" height="1.1" fill="#dfdfff"/><rect x="73.2" y="194.0" width="16.45" height="2.0" fill="#d8d8ff"/><rect x="73.2" y="196.0" width="16.45" height="1.1" fill="#e3e3ff"/><rect x="73.2" y="197.0" width="16.45" height="1.6" fill="#d7d7ff"/><rect x="73.2" y="198.5" width="16.45" height="1.1" fill="#dadaff"/><rect x="73.2" y="199.5" width="16.45" height="1.1" fill="#d1d1ff"/><rect x="73.2" y="200.5" width="16.45" height="2.0" fill="#d3d3ff"/><rect x="73.2" y="202.5" width="16.45" height="1.1" fill="#d6d6ff"/><rect x="73.2" y="203.5" width="16.45" height="1.6" fill="#ebebff"/><rect x="73.2" y="205.0" width="16.45" height="1.1" fill="#cfcfff"/><rect x="73.2" y="206.0" width="16.45" height="2.0" fill="#ceceff"/><rect x="73.2" y="208.0" width="16.45" height="1.1" fill="#eaeaff"/><rect x="73.2" y="209.0" width="16.45" height="1.1" fill="#e4e4ff"/><rect x="73.2" y="210.0" width="16.45" height="1.6" fill="#ececff"/><rect x="73.2" y="211.5" width="16.45" height="1.1" fill="#e2e2ff"/><rect x="73.2" y="212.5" width="16.45" height="1.6" fill="#efefff"/><rect x="73.2" y="214.0" width="16.45" height="2.0" fill="#f5f5ff"/><rect x="73.2" y="216.0" width="16.45" height="2.0" fill="#b9b9ff"/><rect x="73.2" y="218.0" width="16.45" height="2.0" fill="#babaff"/><rect x="73.2" y="220.0" width="16.45" height="1.6" fill="#c8c8ff"/><rect x="73.2" y="221.5" width="16.45" height="1.1" fill="#c1c1ff"/><rect x="73.2" y="222.5" width="16.45" height="1.6" fill="#c0c0ff"/><rect x="73.2" y="224.0" width="16.45" height="1.1" fill="#d4d4ff"/><rect x="73.2" y="225.0" width="16.45" height="1.1" fill="#c8c8ff"/><rect x="73.2" y="226.0" width="16.45" height="2.0" fill="#cacaff"/><rect x="73.2" y="228.0" width="16.45" height="1.1" fill="#bfbfff"/><rect x="73.2" y="229.0" width="16.45" height="1.1" fill="#c8c8ff"/><rect x="73.2" y="230.0" width="16.45" height="1.6" fill="#bebeff"/><rect x="73.2" y="231.5" width="16.45" height="1.1" fill="#c3c3ff"/><rect x="89.6" y="46.0" width="16.45" height="1.1" fill="#ffd0d0"/><rect x="89.6" y="47.0" width="16.45" height="2.0" fill="#ffc9c9"/><rect x="89.6" y="49.0" width="16.45" height="2.0" fill="#ffd6d6"/><rect x="89.6" y="51.0" width="16.45" height="1.6" fill="#ffd7d7"/><rect x="89.6" y="52.5" width="16.45" height="2.0" fill="#ffc4c4"/><rect x="89.6" y="54.5" width="16.45" height="1.1" fill="#fff1f1"/><rect x="89.6" y="55.5" width="16.45" height="2.0" fill="#f8f9ff"/><rect x="89.6" y="57.5" width="16.45" height="1.1" fill="#f8eaf2"/><rect x="89.6" y="58.5" width="16.45" height="1.1" fill="#f8f5fd"/><rect x="89.6" y="59.5" width="16.45" height="1.1" fill="#f8f0f8"/><rect x="89.6" y="60.5" width="16.45" height="1.1" fill="#ffbebe"/><rect x="89.6" y="61.5" width="16.45" height="1.6" fill="#ffbaba"/><rect x="89.6" y="63.0" width="16.45" height="2.0" fill="#ffa9a9"/><rect x="89.6" y="65.0" width="16.45" height="1.1" fill="#ffb1b1"/><rect x="89.6" y="66.0" width="16.45" height="1.1" fill="#ff9898"/><rect x="89.6" y="67.0" width="16.45" height="1.1" fill="#ff9d9d"/><rect x="89.6" y="68.0" width="16.45" height="1.1" fill="#ffcdcd"/><rect x="89.6" y="69.0" width="16.45" height="1.1" fill="#ffcfcf"/><rect x="89.6" y="70.0" width="16.45" height="2.0" fill="#ffd1d1"/><rect x="89.6" y="72.0" width="16.45" height="2.0" fill="#ffd8d8"/><rect x="89.6" y="74.0" width="16.45" height="2.0" fill="#ffc6c6"/><rect x="89.6" y="76.0" width="16.45" height="1.1" fill="#ffcbcb"/><rect x="89.6" y="77.0" width="16.45" height="1.6" fill="#ffbbbb"/><rect x="89.6" y="78.5" width="16.45" height="2.0" fill="#ffd8d8"/><rect x="89.6" y="80.5" width="16.45" height="1.1" fill="#ffc3c3"/><rect x="89.6" y="81.5" width="16.45" height="1.6" fill="#ffbfbf"/><rect x="89.6" y="83.0" width="16.45" height="1.1" fill="#ffc1c1"/><rect x="89.6" y="84.0" width="16.45" height="1.1" fill="#ffb5b5"/><rect x="89.6" y="85.0" width="16.45" height="1.1" fill="#ffcaca"/><rect x="89.6" y="86.0" width="16.45" height="1.1" fill="#ffb7b7"/><rect x="89.6" y="87.0" width="16.45" height="1.1" fill="#ffd2d2"/><rect x="89.6" y="88.0" width="16.45" height="2.0" fill="#ffc5c5"/><rect x="89.6" y="90.0" width="16.45" height="1.1" fill="#ffd6d6"/><rect x="89.6" y="91.0" width="16.45" height="1.6" fill="#ffcccc"/><rect x="89.6" y="92.5" width="16.45" height="2.0" fill="#ffcccc"/><rect x="89.6" y="94.5" width="16.45" height="2.0" fill="#ffd3d3"/><rect x="89.6" y="96.5" width="16.45" height="1.1" fill="#ffcbcb"/><rect x="89.6" y="97.5" width="16.45" height="1.1" fill="#ffd7d7"/><rect x="89.6" y="98.5" width="16.45" height="1.1" fill="#ffc9c9"/><rect x="89.6" y="99.5" width="16.45" height="2.0" fill="#ffc7c7"/><rect x="89.6" y="101.5" width="16.45" height="1.1" fill="#ff8383"/><rect x="89.6" y="102.5" width="16.45" height="1.1" fill="#ff9494"/><rect x="89.6" y="103.5" width="16.45" height="1.1" fill="#ff9999"/><rect x="89.6" y="104.5" width="16.45" height="1.1" fill="#ffe3e3"/><rect x="89.6" y="105.5" width="16.45" height="1.1" fill="#ffdada"/><rect x="89.6" y="106.5" width="16.45" height="1.1" fill="#ffe1e1"/><rect x="89.6" y="107.5" width="16.45" height="2.0" fill="#ffeded"/><rect x="89.6" y="109.5" width="16.45" height="2.0" fill="#ffe3e3"/><rect x="89.6" y="111.5" width="16.45" height="1.1" fill="#ffd8d8"/><rect x="89.6" y="112.5" width="16.45" height="1.6" fill="#ff8383"/><rect x="89.6" y="114.0" width="16.45" height="1.1" fill="#ff8686"/><rect x="89.6" y="115.0" width="16.45" height="2.0" fill="#ff7575"/><rect x="89.6" y="117.0" width="16.45" height="1.6" fill="#ff7e7e"/><rect x="89.6" y="118.5" width="16.45" height="1.6" fill="#ff8f8f"/><rect x="89.6" y="120.0" width="16.45" height="2.0" fill="#ff7d7d"/><rect x="89.6" y="122.0" width="16.45" height="2.0" fill="#ff3434"/><rect x="89.6" y="124.0" width="16.45" height="1.6" fill="#ff4040"/><rect x="89.6" y="125.5" width="16.45" height="2.0" fill="#ff3939"/><rect x="89.6" y="127.5" width="16.45" height="2.0" fill="#c3c3ff"/><rect x="89.6" y="129.5" width="16.45" height="1.6" fill="#c0c0ff"/><rect x="89.6" y="131.0" width="16.45" height="1.1" fill="#aeaeff"/><rect x="89.6" y="132.0" width="16.45" height="1.1" fill="#d2d2ff"/><rect x="89.6" y="133.0" width="16.45" height="1.1" fill="#c5c5ff"/><rect x="89.6" y="134.0" width="16.45" height="2.0" fill="#c6c6ff"/><rect x="89.6" y="136.0" width="16.45" height="1.1" fill="#ccccff"/><rect x="89.6" y="137.0" width="16.45" height="2.0" fill="#c8c8ff"/><rect x="89.6" y="139.0" width="16.45" height="1.1" fill="#c3c3ff"/><rect x="89.6" y="140.0" width="16.45" height="1.1" fill="#b5b5ff"/><rect x="89.6" y="141.0" width="16.45" height="1.6" fill="#bfbfff"/><rect x="89.6" y="142.5" width="16.45" height="1.1" fill="#c0c0ff"/><rect x="89.6" y="143.5" width="16.45" height="1.1" fill="#b6b6ff"/><rect x="89.6" y="144.5" width="16.45" height="1.1" fill="#b4b4ff"/><rect x="89.6" y="145.5" width="16.45" height="1.6" fill="#b9b9ff"/><rect x="89.6" y="147.0" width="16.45" height="1.6" fill="#c8c8ff"/><rect x="89.6" y="148.5" width="16.45" height="1.6" fill="#b9b9ff"/><rect x="89.6" y="150.0" width="16.45" height="1.6" fill="#c2c2ff"/><rect x="89.6" y="151.5" width="16.45" height="1.1" fill="#d0d0ff"/><rect x="89.6" y="152.5" width="16.45" height="1.1" fill="#c0c0ff"/><rect x="89.6" y="153.5" width="16.45" height="1.1" fill="#bdbdff"/><rect x="89.6" y="154.5" width="16.45" height="1.1" fill="#d5d5ff"/><rect x="89.6" y="155.5" width="16.45" height="1.1" fill="#c8c8ff"/><rect x="89.6" y="156.5" width="16.45" height="2.0" fill="#b6b6ff"/><rect x="89.6" y="158.5" width="16.45" height="1.6" fill="#bdbdff"/><rect x="89.6" y="160.0" width="16.45" height="1.1" fill="#d3d3ff"/><rect x="89.6" y="161.0" width="16.45" height="1.1" fill="#c3c3ff"/><rect x="89.6" y="162.0" width="16.45" height="1.1" fill="#d7d7ff"/><rect x="89.6" y="163.0" width="16.45" height="2.0" fill="#bebeff"/><rect x="89.6" y="165.0" width="16.45" height="1.1" fill="#c2c2ff"/><rect x="89.6" y="166.0" width="16.45" height="1.1" fill="#d8d8ff"/><rect x="89.6" y="167.0" width="16.45" height="1.6" fill="#d8d8ff"/><rect x="89.6" y="168.5" width="16.45" height="2.0" fill="#bbbbff"/><rect x="89.6" y="170.5" width="16.45" height="2.0" fill="#d1d1ff"/><rect x="89.6" y="172.5" width="16.45" height="1.1" fill="#dadaff"/><rect x="89.6" y="173.5" width="16.45" height="1.1" fill="#c0c0ff"/><rect x="89.6" y="174.5" width="16.45" height="1.1" fill="#bcbcff"/><rect x="89.6" y="175.5" width="16.45" height="1.1" fill="#c0c0ff"/><rect x="89.6" y="176.5" width="16.45" height="2.0" fill="#c0c0ff"/><rect x="89.6" y="178.5" width="16.45" height="2.0" fill="#bbbbff"/><rect x="89.6" y="180.5" width="16.45" height="2.0" fill="#c6c6ff"/><rect x="89.6" y="182.5" width="16.45" height="1.1" fill="#bcbcff"/><rect x="89.6" y="183.5" width="16.45" height="1.6" fill="#cdcdff"/><rect x="89.6" y="185.0" width="16.45" height="1.1" fill="#e0e0ff"/><rect x="89.6" y="186.0" width="16.45" height="1.6" fill="#c7c7ff"/><rect x="89.6" y="187.5" width="16.45" height="1.6" fill="#d9d9ff"/><rect x="89.6" y="189.0" width="16.45" height="1.1" fill="#dfdfff"/><rect x="89.6" y="190.0" width="16.45" height="2.0" fill="#bdbdff"/><rect x="89.6" y="192.0" width="16.45" height="1.1" fill="#d3d3ff"/><rect x="89.6" y="193.0" width="16.45" height="1.1" fill="#d0d0ff"/><rect x="89.6" y="194.0" width="16.45" height="2.0" fill="#cacaff"/><rect x="89.6" y="196.0" width="16.45" height="1.1" fill="#dadaff"/><rect x="89.6" y="197.0" width="16.45" height="1.6" fill="#ccccff"/><rect x="89.6" y="198.5" width="16.45" height="1.1" fill="#d7d7ff"/><rect x="89.6" y="199.5" width="16.45" height="1.1" fill="#cfcfff"/><rect x="89.6" y="200.5" width="16.45" height="2.0" fill="#d1d1ff"/><rect x="89.6" y="202.5" width="16.45" height="1.1" fill="#d0d0ff"/><rect x="89.6" y="203.5" width="16.45" height="1.6" fill="#e5e5ff"/><rect x="89.6" y="205.0" width="16.45" height="1.1" fill="#d8d8ff"/><rect x="89.6" y="206.0" width="16.45" height="2.0" fill="#cbcbff"/><rect x="89.6" y="208.0" width="16.45" height="1.1" fill="#f0f0ff"/><rect x="89.6" y="209.0" width="16.45" height="1.1" fill="#dedeff"/><rect x="89.6" y="210.0" width="16.45" height="1.6" fill="#d3d3ff"/><rect x="89.6" y="211.5" width="16.45" height="1.1" fill="#d4d4ff"/><rect x="89.6" y="212.5" width="16.45" height="1.6" fill="#d4d4ff"/><rect x="89.6" y="214.0" width="16.45" height="2.0" fill="#e2e2ff"/><rect x="89.6" y="216.0" width="16.45" height="2.0" fill="#d8d8ff"/><rect x="89.6" y="218.0" width="16.45" height="2.0" fill="#b6b6ff"/><rect x="89.6" y="220.0" width="16.45" height="1.6" fill="#bebeff"/><rect x="89.6" y="221.5" width="16.45" height="1.1" fill="#bbbbff"/><rect x="89.6" y="222.5" width="16.45" height="1.6" fill="#bfbfff"/><rect x="89.6" y="224.0" width="16.45" height="1.1" fill="#cfcfff"/><rect x="89.6" y="225.0" width="16.45" height="1.1" fill="#c3c3ff"/><rect x="89.6" y="226.0" width="16.45" height="2.0" fill="#c4c4ff"/><rect x="89.6" y="228.0" width="16.45" height="1.1" fill="#c3c3ff"/><rect x="89.6" y="229.0" width="16.45" height="1.1" fill="#cdcdff"/><rect x="89.6" y="230.0" width="16.45" height="1.6" fill="#b5b5ff"/><rect x="89.6" y="231.5" width="16.45" height="1.1" fill="#c7c7ff"/><rect x="106.0" y="46.0" width="16.45" height="1.1" fill="#c2c2ff"/><rect x="106.0" y="47.0" width="16.45" height="2.0" fill="#adadff"/><rect x="106.0" y="49.0" width="16.45" height="2.0" fill="#9a9aff"/><rect x="106.0" y="51.0" width="16.45" height="1.6" fill="#b4b4ff"/><rect x="106.0" y="52.5" width="16.45" height="2.0" fill="#9595f8"/><rect x="106.0" y="54.5" width="16.45" height="1.1" fill="#9494f8"/><rect x="106.0" y="55.5" width="16.45" height="2.0" fill="#9595ff"/><rect x="106.0" y="57.5" width="16.45" height="1.1" fill="#a5a5ff"/><rect x="106.0" y="58.5" width="16.45" height="1.1" fill="#a7a7ff"/><rect x="106.0" y="59.5" width="16.45" height="1.1" fill="#b6b6ff"/><rect x="106.0" y="60.5" width="16.45" height="1.1" fill="#b5b5ff"/><rect x="106.0" y="61.5" width="16.45" height="1.6" fill="#9797ff"/><rect x="106.0" y="63.0" width="16.45" height="2.0" fill="#a6a6ff"/><rect x="106.0" y="65.0" width="16.45" height="1.1" fill="#8b8bff"/><rect x="106.0" y="66.0" width="16.45" height="1.1" fill="#b6b6ff"/><rect x="106.0" y="67.0" width="16.45" height="1.1" fill="#b5b5ff"/><rect x="106.0" y="68.0" width="16.45" height="1.1" fill="#b9b9ff"/><rect x="106.0" y="69.0" width="16.45" height="1.1" fill="#bdbdff"/><rect x="106.0" y="70.0" width="16.45" height="2.0" fill="#a9a9ff"/><rect x="106.0" y="72.0" width="16.45" height="2.0" fill="#a4a4ff"/><rect x="106.0" y="74.0" width="16.45" height="2.0" fill="#adadff"/><rect x="106.0" y="76.0" width="16.45" height="1.1" fill="#a5a5ff"/><rect x="106.0" y="77.0" width="16.45" height="1.6" fill="#a7a7ff"/><rect x="106.0" y="78.5" width="16.45" height="2.0" fill="#ababff"/><rect x="106.0" y="80.5" width="16.45" height="1.1" fill="#9191ff"/><rect x="106.0" y="81.5" width="16.45" height="1.6" fill="#b2b2ff"/><rect x="106.0" y="83.0" width="16.45" height="1.1" fill="#a6a6ff"/><rect x="106.0" y="84.0" width="16.45" height="1.1" fill="#a6a6ff"/><rect x="106.0" y="85.0" width="16.45" height="1.1" fill="#b2b2ff"/><rect x="106.0" y="86.0" width="16.45" height="1.1" fill="#9999ff"/><rect x="106.0" y="87.0" width="16.45" height="1.1" fill="#a9a9ff"/><rect x="106.0" y="88.0" width="16.45" height="2.0" fill="#a7a7ff"/><rect x="106.0" y="90.0" width="16.45" height="1.1" fill="#b1b1ff"/><rect x="106.0" y="91.0" width="16.45" height="1.6" fill="#b5b5ff"/><rect x="106.0" y="92.5" width="16.45" height="2.0" fill="#a5a5ff"/><rect x="106.0" y="94.5" width="16.45" height="2.0" fill="#ababff"/><rect x="106.0" y="96.5" width="16.45" height="1.1" fill="#b0b0ff"/><rect x="106.0" y="97.5" width="16.45" height="1.1" fill="#9999ff"/><rect x="106.0" y="98.5" width="16.45" height="1.1" fill="#b6b6ff"/><rect x="106.0" y="99.5" width="16.45" height="2.0" fill="#9797ff"/><rect x="106.0" y="101.5" width="16.45" height="1.1" fill="#b9b9ff"/><rect x="106.0" y="102.5" width="16.45" height="1.1" fill="#acacff"/><rect x="106.0" y="103.5" width="16.45" height="1.1" fill="#b4b4ff"/><rect x="106.0" y="104.5" width="16.45" height="1.1" fill="#b5b5ff"/><rect x="106.0" y="105.5" width="16.45" height="1.1" fill="#a8a8ff"/><rect x="106.0" y="106.5" width="16.45" height="1.1" fill="#9999ff"/><rect x="106.0" y="107.5" width="16.45" height="2.0" fill="#b1b1ff"/><rect x="106.0" y="109.5" width="16.45" height="2.0" fill="#afafff"/><rect x="106.0" y="111.5" width="16.45" height="1.1" fill="#a7a7ff"/><rect x="106.0" y="112.5" width="16.45" height="1.6" fill="#9d9dff"/><rect x="106.0" y="114.0" width="16.45" height="1.1" fill="#a5a5ff"/><rect x="106.0" y="115.0" width="16.45" height="2.0" fill="#a6a6ff"/><rect x="106.0" y="117.0" width="16.45" height="1.6" fill="#adadff"/><rect x="106.0" y="118.5" width="16.45" height="1.6" fill="#9f9fff"/><rect x="106.0" y="120.0" width="16.45" height="2.0" fill="#a8a8ff"/><rect x="106.0" y="122.0" width="16.45" height="2.0" fill="#a9a9ff"/><rect x="106.0" y="124.0" width="16.45" height="1.6" fill="#a9a9ff"/><rect x="106.0" y="125.5" width="16.45" height="2.0" fill="#b4b4ff"/><rect x="106.0" y="127.5" width="16.45" height="2.0" fill="#ffc0c0"/><rect x="106.0" y="129.5" width="16.45" height="1.6" fill="#d3d3ff"/><rect x="106.0" y="131.0" width="16.45" height="1.1" fill="#e2e2ff"/><rect x="106.0" y="132.0" width="16.45" height="1.1" fill="#d9d9ff"/><rect x="106.0" y="133.0" width="16.45" height="1.1" fill="#d1d1ff"/><rect x="106.0" y="134.0" width="16.45" height="2.0" fill="#ff8787"/><rect x="106.0" y="136.0" width="16.45" height="1.1" fill="#ff9797"/><rect x="106.0" y="137.0" width="16.45" height="2.0" fill="#ff9393"/><rect x="106.0" y="139.0" width="16.45" height="1.1" fill="#ff9c9c"/><rect x="106.0" y="140.0" width="16.45" height="1.1" fill="#d4d4ff"/><rect x="106.0" y="141.0" width="16.45" height="1.6" fill="#c8c8ff"/><rect x="106.0" y="142.5" width="16.45" height="1.1" fill="#c7c7ff"/><rect x="106.0" y="143.5" width="16.45" height="1.1" fill="#d2d2ff"/><rect x="106.0" y="144.5" width="16.45" height="1.1" fill="#ff1111"/><rect x="106.0" y="145.5" width="16.45" height="1.6" fill="#ff1616"/><rect x="106.0" y="147.0" width="16.45" height="1.6" fill="#ff0a0a"/><rect x="106.0" y="148.5" width="16.45" height="1.6" fill="#ff0202"/><rect x="106.0" y="150.0" width="16.45" height="1.6" fill="#ff1d1d"/><rect x="106.0" y="151.5" width="16.45" height="1.1" fill="#ff0404"/><rect x="106.0" y="152.5" width="16.45" height="1.1" fill="#ff0a0a"/><rect x="106.0" y="153.5" width="16.45" height="1.1" fill="#ff2525"/><rect x="106.0" y="154.5" width="16.45" height="1.1" fill="#ff1e1e"/><rect x="106.0" y="155.5" width="16.45" height="1.1" fill="#ff0e0e"/><rect x="106.0" y="156.5" width="16.45" height="2.0" fill="#ff0f0f"/><rect x="106.0" y="158.5" width="16.45" height="1.6" fill="#ff0e0e"/><rect x="106.0" y="160.0" width="16.45" height="1.1" fill="#ff1c1c"/><rect x="106.0" y="161.0" width="16.45" height="1.1" fill="#ff0d0d"/><rect x="106.0" y="162.0" width="16.45" height="1.1" fill="#ff0808"/><rect x="106.0" y="163.0" width="16.45" height="2.0" fill="#ff0c0c"/><rect x="106.0" y="165.0" width="16.45" height="1.1" fill="#ff0101"/><rect x="106.0" y="166.0" width="16.45" height="1.1" fill="#ff2020"/><rect x="106.0" y="167.0" width="16.45" height="1.6" fill="#ff2323"/><rect x="106.0" y="168.5" width="16.45" height="2.0" fill="#ff1515"/><rect x="106.0" y="170.5" width="16.45" height="2.0" fill="#ff0202"/><rect x="106.0" y="172.5" width="16.45" height="1.1" fill="#ff0e0e"/><rect x="106.0" y="173.5" width="16.45" height="1.1" fill="#ff0202"/><rect x="106.0" y="174.5" width="16.45" height="1.1" fill="#ff1616"/><rect x="106.0" y="175.5" width="16.45" height="1.1" fill="#ff0000"/><rect x="106.0" y="176.5" width="16.45" height="2.0" fill="#ff0000"/><rect x="106.0" y="178.5" width="16.45" height="2.0" fill="#ff0a0a"/><rect x="106.0" y="180.5" width="16.45" height="2.0" fill="#ff1515"/><rect x="106.0" y="182.5" width="16.45" height="1.1" fill="#ff0d0d"/><rect x="106.0" y="183.5" width="16.45" height="1.6" fill="#ff2828"/><rect x="106.0" y="185.0" width="16.45" height="1.1" fill="#ff0404"/><rect x="106.0" y="186.0" width="16.45" height="1.6" fill="#ff0c0c"/><rect x="106.0" y="187.5" width="16.45" height="1.6" fill="#ff0909"/><rect x="106.0" y="189.0" width="16.45" height="1.1" fill="#ff0606"/><rect x="106.0" y="190.0" width="16.45" height="2.0" fill="#ff1d1d"/><rect x="106.0" y="192.0" width="16.45" height="1.1" fill="#ff0707"/><rect x="106.0" y="193.0" width="16.45" height="1.1" fill="#ff0909"/><rect x="106.0" y="194.0" width="16.45" height="2.0" fill="#ff0f0f"/><rect x="106.0" y="196.0" width="16.45" height="1.1" fill="#ff1212"/><rect x="106.0" y="197.0" width="16.45" height="1.6" fill="#ff2020"/><rect x="106.0" y="198.5" width="16.45" height="1.1" fill="#ff1212"/><rect x="106.0" y="199.5" width="16.45" height="1.1" fill="#ff1111"/><rect x="106.0" y="200.5" width="16.45" height="2.0" fill="#ff0909"/><rect x="106.0" y="202.5" width="16.45" height="1.1" fill="#ff1f1f"/><rect x="106.0" y="203.5" width="16.45" height="1.6" fill="#ff1313"/><rect x="106.0" y="205.0" width="16.45" height="1.1" fill="#ff1010"/><rect x="106.0" y="206.0" width="16.45" height="2.0" fill="#f8d9e1"/><rect x="106.0" y="208.0" width="16.45" height="1.1" fill="#f8f2fa"/><rect x="106.0" y="209.0" width="16.45" height="1.1" fill="#f8e2ea"/><rect x="106.0" y="210.0" width="16.45" height="1.6" fill="#e1e1ff"/><rect x="106.0" y="211.5" width="16.45" height="1.1" fill="#e2e2ff"/><rect x="106.0" y="212.5" width="16.45" height="1.6" fill="#dfdfff"/><rect x="106.0" y="214.0" width="16.45" height="2.0" fill="#e8e8ff"/><rect x="106.0" y="216.0" width="16.45" height="2.0" fill="#e0e0ff"/><rect x="106.0" y="218.0" width="16.45" height="2.0" fill="#d3d3ff"/><rect x="106.0" y="220.0" width="16.45" height="1.6" fill="#ff7e7e"/><rect x="106.0" y="221.5" width="16.45" height="1.1" fill="#ff8686"/><rect x="106.0" y="222.5" width="16.45" height="1.6" fill="#ff7272"/><rect x="106.0" y="224.0" width="16.45" height="1.1" fill="#ff8686"/><rect x="106.0" y="225.0" width="16.45" height="1.1" fill="#ff8c8c"/><rect x="106.0" y="226.0" width="16.45" height="2.0" fill="#ff8282"/><rect x="106.0" y="228.0" width="16.45" height="1.1" fill="#ffd8d8"/><rect x="106.0" y="229.0" width="16.45" height="1.1" fill="#ffe0e0"/><rect x="106.0" y="230.0" width="16.45" height="1.6" fill="#ffe2e2"/><rect x="106.0" y="231.5" width="16.45" height="1.1" fill="#ffcfcf"/><rect x="122.4" y="46.0" width="16.45" height="1.1" fill="#bcbcff"/><rect x="122.4" y="47.0" width="16.45" height="2.0" fill="#b7b7ff"/><rect x="122.4" y="49.0" width="16.45" height="2.0" fill="#9090ff"/><rect x="122.4" y="51.0" width="16.45" height="1.6" fill="#a6a6ff"/><rect x="122.4" y="52.5" width="16.45" height="2.0" fill="#9d9dff"/><rect x="122.4" y="54.5" width="16.45" height="1.1" fill="#a7a7ff"/><rect x="122.4" y="55.5" width="16.45" height="2.0" fill="#9191ff"/><rect x="122.4" y="57.5" width="16.45" height="1.1" fill="#9f9fff"/><rect x="122.4" y="58.5" width="16.45" height="1.1" fill="#aaaaff"/><rect x="122.4" y="59.5" width="16.45" height="1.1" fill="#acacff"/><rect x="122.4" y="60.5" width="16.45" height="1.1" fill="#afafff"/><rect x="122.4" y="61.5" width="16.45" height="1.6" fill="#adadff"/><rect x="122.4" y="63.0" width="16.45" height="2.0" fill="#bbbbff"/><rect x="122.4" y="65.0" width="16.45" height="1.1" fill="#a3a3ff"/><rect x="122.4" y="66.0" width="16.45" height="1.1" fill="#b2b2ff"/><rect x="122.4" y="67.0" width="16.45" height="1.1" fill="#afafff"/><rect x="122.4" y="68.0" width="16.45" height="1.1" fill="#bfbfff"/><rect x="122.4" y="69.0" width="16.45" height="1.1" fill="#a8a8ff"/><rect x="122.4" y="70.0" width="16.45" height="2.0" fill="#a9a9ff"/><rect x="122.4" y="72.0" width="16.45" height="2.0" fill="#a0a0ff"/><rect x="122.4" y="74.0" width="16.45" height="2.0" fill="#b7b7ff"/><rect x="122.4" y="76.0" width="16.45" height="1.1" fill="#acacff"/><rect x="122.4" y="77.0" width="16.45" height="1.6" fill="#adadff"/><rect x="122.4" y="78.5" width="16.45" height="2.0" fill="#a9a9ff"/><rect x="122.4" y="80.5" width="16.45" height="1.1" fill="#9898ff"/><rect x="122.4" y="81.5" width="16.45" height="1.6" fill="#b0b0ff"/><rect x="122.4" y="83.0" width="16.45" height="1.1" fill="#aaaaff"/><rect x="122.4" y="84.0" width="16.45" height="1.1" fill="#adadff"/><rect x="122.4" y="85.0" width="16.45" height="1.1" fill="#b3b3ff"/><rect x="122.4" y="86.0" width="16.45" height="1.1" fill="#9b9bff"/><rect x="122.4" y="87.0" width="16.45" height="1.1" fill="#adadff"/><rect x="122.4" y="88.0" width="16.45" height="2.0" fill="#aeaeff"/><rect x="122.4" y="90.0" width="16.45" height="1.1" fill="#a8a8ff"/><rect x="122.4" y="91.0" width="16.45" height="1.6" fill="#b1b1ff"/><rect x="122.4" y="92.5" width="16.45" height="2.0" fill="#a6a6ff"/><rect x="122.4" y="94.5" width="16.45" height="2.0" fill="#a7a7ff"/><rect x="122.4" y="96.5" width="16.45" height="1.1" fill="#b1b1ff"/><rect x="122.4" y="97.5" width="16.45" height="1.1" fill="#a0a0ff"/><rect x="122.4" y="98.5" width="16.45" height="1.1" fill="#b7b7ff"/><rect x="122.4" y="99.5" width="16.45" height="2.0" fill="#9f9fff"/><rect x="122.4" y="101.5" width="16.45" height="1.1" fill="#b2b2ff"/><rect x="122.4" y="102.5" width="16.45" height="1.1" fill="#b0b0ff"/><rect x="122.4" y="103.5" width="16.45" height="1.1" fill="#c4c4ff"/><rect x="122.4" y="104.5" width="16.45" height="1.1" fill="#b0b0ff"/><rect x="122.4" y="105.5" width="16.45" height="1.1" fill="#b3b3ff"/><rect x="122.4" y="106.5" width="16.45" height="1.1" fill="#9595ff"/><rect x="122.4" y="107.5" width="16.45" height="2.0" fill="#acacff"/><rect x="122.4" y="109.5" width="16.45" height="2.0" fill="#aeaeff"/><rect x="122.4" y="111.5" width="16.45" height="1.1" fill="#b0b0ff"/><rect x="122.4" y="112.5" width="16.45" height="1.6" fill="#9c9cff"/><rect x="122.4" y="114.0" width="16.45" height="1.1" fill="#9e9eff"/><rect x="122.4" y="115.0" width="16.45" height="2.0" fill="#a2a2ff"/><rect x="122.4" y="117.0" width="16.45" height="1.6" fill="#b1b1ff"/><rect x="122.4" y="118.5" width="16.45" height="1.6" fill="#a2a2ff"/><rect x="122.4" y="120.0" width="16.45" height="2.0" fill="#ababff"/><rect x="122.4" y="122.0" width="16.45" height="2.0" fill="#b4b4ff"/><rect x="122.4" y="124.0" width="16.45" height="1.6" fill="#acacff"/><rect x="122.4" y="125.5" width="16.45" height="2.0" fill="#b2b2ff"/><rect x="122.4" y="127.5" width="16.45" height="2.0" fill="#e9e9ff"/><rect x="122.4" y="129.5" width="16.45" height="1.6" fill="#dedeff"/><rect x="122.4" y="131.0" width="16.45" height="1.1" fill="#ddddff"/><rect x="122.4" y="132.0" width="16.45" height="1.1" fill="#e1e1ff"/><rect x="122.4" y="133.0" width="16.45" height="1.1" fill="#ceceff"/><rect x="122.4" y="134.0" width="16.45" height="2.0" fill="#d0d0ff"/><rect x="122.4" y="136.0" width="16.45" height="1.1" fill="#d7d7ff"/><rect x="122.4" y="137.0" width="16.45" height="2.0" fill="#dbdbff"/><rect x="122.4" y="139.0" width="16.45" height="1.1" fill="#dbdbff"/><rect x="122.4" y="140.0" width="16.45" height="1.1" fill="#ffd8d8"/><rect x="122.4" y="141.0" width="16.45" height="1.6" fill="#ffcccc"/><rect x="122.4" y="142.5" width="16.45" height="1.1" fill="#ffd0d0"/><rect x="122.4" y="143.5" width="16.45" height="1.1" fill="#ffd7d7"/><rect x="122.4" y="144.5" width="16.45" height="1.1" fill="#ffe1e1"/><rect x="122.4" y="145.5" width="16.45" height="1.6" fill="#ffe4e4"/><rect x="122.4" y="147.0" width="16.45" height="1.6" fill="#ffdada"/><rect x="122.4" y="148.5" width="16.45" height="1.6" fill="#ffc6c6"/><rect x="122.4" y="150.0" width="16.45" height="1.6" fill="#ffe3e3"/><rect x="122.4" y="151.5" width="16.45" height="1.1" fill="#ffd5d5"/><rect x="122.4" y="152.5" width="16.45" height="1.1" fill="#c9c9ff"/><rect x="122.4" y="153.5" width="16.45" height="1.1" fill="#e9e9ff"/><rect x="122.4" y="154.5" width="16.45" height="1.1" fill="#e3e3ff"/><rect x="122.4" y="155.5" width="16.45" height="1.1" fill="#d5d5ff"/><rect x="122.4" y="156.5" width="16.45" height="2.0" fill="#d9d9ff"/><rect x="122.4" y="158.5" width="16.45" height="1.6" fill="#ffc1c1"/><rect x="122.4" y="160.0" width="16.45" height="1.1" fill="#ffc9c9"/><rect x="122.4" y="161.0" width="16.45" height="1.1" fill="#ff6060"/><rect x="122.4" y="162.0" width="16.45" height="1.1" fill="#ff6060"/><rect x="122.4" y="163.0" width="16.45" height="2.0" fill="#ff6161"/><rect x="122.4" y="165.0" width="16.45" height="1.1" fill="#ff5555"/><rect x="122.4" y="166.0" width="16.45" height="1.1" fill="#e1e1ff"/><rect x="122.4" y="167.0" width="16.45" height="1.6" fill="#ebebff"/><rect x="122.4" y="168.5" width="16.45" height="2.0" fill="#ffecec"/><rect x="122.4" y="170.5" width="16.45" height="2.0" fill="#ffdbdb"/><rect x="122.4" y="172.5" width="16.45" height="1.1" fill="#cfcfff"/><rect x="122.4" y="173.5" width="16.45" height="1.1" fill="#cdcdff"/><rect x="122.4" y="174.5" width="16.45" height="1.1" fill="#d6d6ff"/><rect x="122.4" y="175.5" width="16.45" height="1.1" fill="#bbbbff"/><rect x="122.4" y="176.5" width="16.45" height="2.0" fill="#c2c2ff"/><rect x="122.4" y="178.5" width="16.45" height="2.0" fill="#ceceff"/><rect x="122.4" y="180.5" width="16.45" height="2.0" fill="#e2e2ff"/><rect x="122.4" y="182.5" width="16.45" height="1.1" fill="#d6d6ff"/><rect x="122.4" y="183.5" width="16.45" height="1.6" fill="#ececff"/><rect x="122.4" y="185.0" width="16.45" height="1.1" fill="#c7c7ff"/><rect x="122.4" y="186.0" width="16.45" height="1.6" fill="#d7d7ff"/><rect x="122.4" y="187.5" width="16.45" height="1.6" fill="#d2d2ff"/><rect x="122.4" y="189.0" width="16.45" height="1.1" fill="#d5d5ff"/><rect x="122.4" y="190.0" width="16.45" height="2.0" fill="#e5e5ff"/><rect x="122.4" y="192.0" width="16.45" height="1.1" fill="#cfcfff"/><rect x="122.4" y="193.0" width="16.45" height="1.1" fill="#d1d1ff"/><rect x="122.4" y="194.0" width="16.45" height="2.0" fill="#d9d9ff"/><rect x="122.4" y="196.0" width="16.45" height="1.1" fill="#d5d5ff"/><rect x="122.4" y="197.0" width="16.45" height="1.6" fill="#dfdfff"/><rect x="122.4" y="198.5" width="16.45" height="1.1" fill="#d4d4ff"/><rect x="122.4" y="199.5" width="16.45" height="1.1" fill="#ddddff"/><rect x="122.4" y="200.5" width="16.45" height="2.0" fill="#d5d5ff"/><rect x="122.4" y="202.5" width="16.45" height="1.1" fill="#e6e6ff"/><rect x="122.4" y="203.5" width="16.45" height="1.6" fill="#d8d8ff"/><rect x="122.4" y="205.0" width="16.45" height="1.1" fill="#dbdbff"/><rect x="122.4" y="206.0" width="16.45" height="2.0" fill="#ff0000"/><rect x="122.4" y="208.0" width="16.45" height="1.1" fill="#ff0505"/><rect x="122.4" y="209.0" width="16.45" height="1.1" fill="#ff0000"/><rect x="122.4" y="210.0" width="16.45" height="1.6" fill="#ff0505"/><rect x="122.4" y="211.5" width="16.45" height="1.1" fill="#ff0303"/><rect x="122.4" y="212.5" width="16.45" height="1.6" fill="#ff0c0c"/><rect x="122.4" y="214.0" width="16.45" height="2.0" fill="#ff0909"/><rect x="122.4" y="216.0" width="16.45" height="2.0" fill="#ff0000"/><rect x="122.4" y="218.0" width="16.45" height="2.0" fill="#ff0000"/><rect x="122.4" y="220.0" width="16.45" height="1.6" fill="#ff3333"/><rect x="122.4" y="221.5" width="16.45" height="1.1" fill="#ff3030"/><rect x="122.4" y="222.5" width="16.45" height="1.6" fill="#ff2929"/><rect x="122.4" y="224.0" width="16.45" height="1.1" fill="#ff3232"/><rect x="122.4" y="225.0" width="16.45" height="1.1" fill="#ff3939"/><rect x="122.4" y="226.0" width="16.45" height="2.0" fill="#ff3030"/><rect x="122.4" y="228.0" width="16.45" height="1.1" fill="#ff6060"/><rect x="122.4" y="229.0" width="16.45" height="1.1" fill="#ff6363"/><rect x="122.4" y="230.0" width="16.45" height="1.6" fill="#ff6a6a"/><rect x="122.4" y="231.5" width="16.45" height="1.1" fill="#ff5f5f"/><rect x="138.8" y="46.0" width="16.45" height="1.1" fill="#babaff"/><rect x="138.8" y="47.0" width="16.45" height="2.0" fill="#aeaeff"/><rect x="138.8" y="49.0" width="16.45" height="2.0" fill="#a4a4ff"/><rect x="138.8" y="51.0" width="16.45" height="1.6" fill="#b1b1ff"/><rect x="138.8" y="52.5" width="16.45" height="2.0" fill="#efe7ff"/><rect x="138.8" y="54.5" width="16.45" height="1.1" fill="#f1e9ff"/><rect x="138.8" y="55.5" width="16.45" height="2.0" fill="#cdcdff"/><rect x="138.8" y="57.5" width="16.45" height="1.1" fill="#d4d4ff"/><rect x="138.8" y="58.5" width="16.45" height="1.1" fill="#d4d4ff"/><rect x="138.8" y="59.5" width="16.45" height="1.1" fill="#f5f5ff"/><rect x="138.8" y="60.5" width="16.45" height="1.1" fill="#f1f1ff"/><rect x="138.8" y="61.5" width="16.45" height="1.6" fill="#a9a9ff"/><rect x="138.8" y="63.0" width="16.45" height="2.0" fill="#b1b1ff"/><rect x="138.8" y="65.0" width="16.45" height="1.1" fill="#a1a1ff"/><rect x="138.8" y="66.0" width="16.45" height="1.1" fill="#c8c8ff"/><rect x="138.8" y="67.0" width="16.45" height="1.1" fill="#bfbfff"/><rect x="138.8" y="68.0" width="16.45" height="1.1" fill="#c1c1ff"/><rect x="138.8" y="69.0" width="16.45" height="1.1" fill="#c0c0ff"/><rect x="138.8" y="70.0" width="16.45" height="2.0" fill="#e6e6ff"/><rect x="138.8" y="72.0" width="16.45" height="2.0" fill="#e0e0ff"/><rect x="138.8" y="74.0" width="16.45" height="2.0" fill="#ccccff"/><rect x="138.8" y="76.0" width="16.45" height="1.1" fill="#bcbcff"/><rect x="138.8" y="77.0" width="16.45" height="1.6" fill="#c7c7ff"/><rect x="138.8" y="78.5" width="16.45" height="2.0" fill="#c3c3ff"/><rect x="138.8" y="80.5" width="16.45" height="1.1" fill="#aaaaff"/><rect x="138.8" y="81.5" width="16.45" height="1.6" fill="#c1c1ff"/><rect x="138.8" y="83.0" width="16.45" height="1.1" fill="#b9b9ff"/><rect x="138.8" y="84.0" width="16.45" height="1.1" fill="#f4e5f1"/><rect x="138.8" y="85.0" width="16.45" height="1.1" fill="#c4c4ff"/><rect x="138.8" y="86.0" width="16.45" height="1.1" fill="#afafff"/><rect x="138.8" y="87.0" width="16.45" height="1.1" fill="#babaff"/><rect x="138.8" y="88.0" width="16.45" height="2.0" fill="#bdbdff"/><rect x="138.8" y="90.0" width="16.45" height="1.1" fill="#bcbcff"/><rect x="138.8" y="91.0" width="16.45" height="1.6" fill="#c4c4ff"/><rect x="138.8" y="92.5" width="16.45" height="2.0" fill="#b3b3ff"/><rect x="138.8" y="94.5" width="16.45" height="2.0" fill="#b6b6ff"/><rect x="138.8" y="96.5" width="16.45" height="1.1" fill="#c3c3ff"/><rect x="138.8" y="97.5" width="16.45" height="1.1" fill="#b5b5ff"/><rect x="138.8" y="98.5" width="16.45" height="1.1" fill="#d4d4ff"/><rect x="138.8" y="99.5" width="16.45" height="2.0" fill="#b4b4ff"/><rect x="138.8" y="101.5" width="16.45" height="1.1" fill="#c6c6ff"/><rect x="138.8" y="102.5" width="16.45" height="1.1" fill="#c6c6ff"/><rect x="138.8" y="103.5" width="16.45" height="1.1" fill="#c9c9ff"/><rect x="138.8" y="104.5" width="16.45" height="1.1" fill="#fff7f7"/><rect x="138.8" y="105.5" width="16.45" height="1.1" fill="#fff1f1"/><rect x="138.8" y="106.5" width="16.45" height="1.1" fill="#b5b5ff"/><rect x="138.8" y="107.5" width="16.45" height="2.0" fill="#c4c4ff"/><rect x="138.8" y="109.5" width="16.45" height="2.0" fill="#b7b7ff"/><rect x="138.8" y="111.5" width="16.45" height="1.1" fill="#b9b9ff"/><rect x="138.8" y="112.5" width="16.45" height="1.6" fill="#acacff"/><rect x="138.8" y="114.0" width="16.45" height="1.1" fill="#b9b9ff"/><rect x="138.8" y="115.0" width="16.45" height="2.0" fill="#b1b1ff"/><rect x="138.8" y="117.0" width="16.45" height="1.6" fill="#bcbcff"/><rect x="138.8" y="118.5" width="16.45" height="1.6" fill="#b9b9ff"/><rect x="138.8" y="120.0" width="16.45" height="2.0" fill="#b7b7ff"/><rect x="138.8" y="122.0" width="16.45" height="2.0" fill="#cacaff"/><rect x="138.8" y="124.0" width="16.45" height="1.6" fill="#b1b1ff"/><rect x="138.8" y="125.5" width="16.45" height="2.0" fill="#c5c5ff"/><rect x="138.8" y="127.5" width="16.45" height="2.0" fill="#ff4848"/><rect x="138.8" y="129.5" width="16.45" height="1.6" fill="#ff3a3a"/><rect x="138.8" y="131.0" width="16.45" height="1.1" fill="#e3e3ff"/><rect x="138.8" y="132.0" width="16.45" height="1.1" fill="#e0e0ff"/><rect x="138.8" y="133.0" width="16.45" height="1.1" fill="#d9d9ff"/><rect x="138.8" y="134.0" width="16.45" height="2.0" fill="#d5d5ff"/><rect x="138.8" y="136.0" width="16.45" height="1.1" fill="#d9d9ff"/><rect x="138.8" y="137.0" width="16.45" height="2.0" fill="#dedeff"/><rect x="138.8" y="139.0" width="16.45" height="1.1" fill="#e3e3ff"/><rect x="138.8" y="140.0" width="16.45" height="1.1" fill="#d8d8ff"/><rect x="138.8" y="141.0" width="16.45" height="1.6" fill="#dadaff"/><rect x="138.8" y="142.5" width="16.45" height="1.1" fill="#b8b8ff"/><rect x="138.8" y="143.5" width="16.45" height="1.1" fill="#cbcbff"/><rect x="138.8" y="144.5" width="16.45" height="1.1" fill="#c9c9ff"/><rect x="138.8" y="145.5" width="16.45" height="1.6" fill="#d1d1ff"/><rect x="138.8" y="147.0" width="16.45" height="1.6" fill="#c8c8ff"/><rect x="138.8" y="148.5" width="16.45" height="1.6" fill="#b6b6ff"/><rect x="138.8" y="150.0" width="16.45" height="1.6" fill="#c9c9ff"/><rect x="138.8" y="151.5" width="16.45" height="1.1" fill="#c8c8ff"/><rect x="138.8" y="152.5" width="16.45" height="1.1" fill="#bdbdff"/><rect x="138.8" y="153.5" width="16.45" height="1.1" fill="#d7d7ff"/><rect x="138.8" y="154.5" width="16.45" height="1.1" fill="#cfcfff"/><rect x="138.8" y="155.5" width="16.45" height="1.1" fill="#cbcbff"/><rect x="138.8" y="156.5" width="16.45" height="2.0" fill="#c9c9ff"/><rect x="138.8" y="158.5" width="16.45" height="1.6" fill="#c6c6ff"/><rect x="138.8" y="160.0" width="16.45" height="1.1" fill="#d8d8ff"/><rect x="138.8" y="161.0" width="16.45" height="1.1" fill="#c6c6ff"/><rect x="138.8" y="162.0" width="16.45" height="1.1" fill="#c7c7ff"/><rect x="138.8" y="163.0" width="16.45" height="2.0" fill="#cfcfff"/><rect x="138.8" y="165.0" width="16.45" height="1.1" fill="#c2c2ff"/><rect x="138.8" y="166.0" width="16.45" height="1.1" fill="#d2d2ff"/><rect x="138.8" y="167.0" width="16.45" height="1.6" fill="#e1e1ff"/><rect x="138.8" y="168.5" width="16.45" height="2.0" fill="#d7d7ff"/><rect x="138.8" y="170.5" width="16.45" height="2.0" fill="#c1c1ff"/><rect x="138.8" y="172.5" width="16.45" height="1.1" fill="#d3d3ff"/><rect x="138.8" y="173.5" width="16.45" height="1.1" fill="#c4c4ff"/><rect x="138.8" y="174.5" width="16.45" height="1.1" fill="#d5d5ff"/><rect x="138.8" y="175.5" width="16.45" height="1.1" fill="#babaff"/><rect x="138.8" y="176.5" width="16.45" height="2.0" fill="#bcbcff"/><rect x="138.8" y="178.5" width="16.45" height="2.0" fill="#cdcdff"/><rect x="138.8" y="180.5" width="16.45" height="2.0" fill="#d9d9ff"/><rect x="138.8" y="182.5" width="16.45" height="1.1" fill="#cdcdff"/><rect x="138.8" y="183.5" width="16.45" height="1.6" fill="#e4e4ff"/><rect x="138.8" y="185.0" width="16.45" height="1.1" fill="#c9c9ff"/><rect x="138.8" y="186.0" width="16.45" height="1.6" fill="#c4c4ff"/><rect x="138.8" y="187.5" width="16.45" height="1.6" fill="#d2d2ff"/><rect x="138.8" y="189.0" width="16.45" height="1.1" fill="#cbcbff"/><rect x="138.8" y="190.0" width="16.45" height="2.0" fill="#dbdbff"/><rect x="138.8" y="192.0" width="16.45" height="1.1" fill="#c3c3ff"/><rect x="138.8" y="193.0" width="16.45" height="1.1" fill="#cdcdff"/><rect x="138.8" y="194.0" width="16.45" height="2.0" fill="#cbcbff"/><rect x="138.8" y="196.0" width="16.45" height="1.1" fill="#ceceff"/><rect x="138.8" y="197.0" width="16.45" height="1.6" fill="#d7d7ff"/><rect x="138.8" y="198.5" width="16.45" height="1.1" fill="#c3c3ff"/><rect x="138.8" y="199.5" width="16.45" height="1.1" fill="#d5d5ff"/><rect x="138.8" y="200.5" width="16.45" height="2.0" fill="#cdcdff"/><rect x="138.8" y="202.5" width="16.45" height="1.1" fill="#ffcccc"/><rect x="138.8" y="203.5" width="16.45" height="1.6" fill="#ffcdcd"/><rect x="138.8" y="205.0" width="16.45" height="1.1" fill="#ffcccc"/><rect x="138.8" y="206.0" width="16.45" height="2.0" fill="#d2d2ff"/><rect x="138.8" y="208.0" width="16.45" height="1.1" fill="#e2e2ff"/><rect x="138.8" y="209.0" width="16.45" height="1.1" fill="#d5d5ff"/><rect x="138.8" y="210.0" width="16.45" height="1.6" fill="#e7e7ff"/><rect x="138.8" y="211.5" width="16.45" height="1.1" fill="#e5e5ff"/><rect x="138.8" y="212.5" width="16.45" height="1.6" fill="#e3e3ff"/><rect x="138.8" y="214.0" width="16.45" height="2.0" fill="#eaeaff"/><rect x="138.8" y="216.0" width="16.45" height="2.0" fill="#e5e5ff"/><rect x="138.8" y="218.0" width="16.45" height="2.0" fill="#d9d9ff"/><rect x="138.8" y="220.0" width="16.45" height="1.6" fill="#e3e3ff"/><rect x="138.8" y="221.5" width="16.45" height="1.1" fill="#ffd1d1"/><rect x="138.8" y="222.5" width="16.45" height="1.6" fill="#ffbebe"/><rect x="138.8" y="224.0" width="16.45" height="1.1" fill="#d7d7ff"/><rect x="138.8" y="225.0" width="16.45" height="1.1" fill="#dedeff"/><rect x="138.8" y="226.0" width="16.45" height="2.0" fill="#d6d6ff"/><rect x="138.8" y="228.0" width="16.45" height="1.1" fill="#eaeaff"/><rect x="138.8" y="229.0" width="16.45" height="1.1" fill="#e7e7ff"/><rect x="138.8" y="230.0" width="16.45" height="1.6" fill="#f4f4ff"/><rect x="138.8" y="231.5" width="16.45" height="1.1" fill="#e8e8ff"/><rect x="155.2" y="46.0" width="16.45" height="1.1" fill="#c9c9ff"/><rect x="155.2" y="47.0" width="16.45" height="2.0" fill="#b4b4ff"/><rect x="155.2" y="49.0" width="16.45" height="2.0" fill="#adadff"/><rect x="155.2" y="51.0" width="16.45" height="1.6" fill="#bdbdff"/><rect x="155.2" y="52.5" width="16.45" height="2.0" fill="#bbbbff"/><rect x="155.2" y="54.5" width="16.45" height="1.1" fill="#bfbfff"/><rect x="155.2" y="55.5" width="16.45" height="2.0" fill="#bdbdff"/><rect x="155.2" y="57.5" width="16.45" height="1.1" fill="#bebeff"/><rect x="155.2" y="58.5" width="16.45" height="1.1" fill="#bfbfff"/><rect x="155.2" y="59.5" width="16.45" height="1.1" fill="#d2d2ff"/><rect x="155.2" y="60.5" width="16.45" height="1.1" fill="#cbcbff"/><rect x="155.2" y="61.5" width="16.45" height="1.6" fill="#b9b9ff"/><rect x="155.2" y="63.0" width="16.45" height="2.0" fill="#c5c5ff"/><rect x="155.2" y="65.0" width="16.45" height="1.1" fill="#b0b0ff"/><rect x="155.2" y="66.0" width="16.45" height="1.1" fill="#bcbcff"/><rect x="155.2" y="67.0" width="16.45" height="1.1" fill="#bbbbff"/><rect x="155.2" y="68.0" width="16.45" height="1.1" fill="#c1c1ff"/><rect x="155.2" y="69.0" width="16.45" height="1.1" fill="#bcbcff"/><rect x="155.2" y="70.0" width="16.45" height="2.0" fill="#b8b8ff"/><rect x="155.2" y="72.0" width="16.45" height="2.0" fill="#afafff"/><rect x="155.2" y="74.0" width="16.45" height="2.0" fill="#c6c6ff"/><rect x="155.2" y="76.0" width="16.45" height="1.1" fill="#b7b7ff"/><rect x="155.2" y="77.0" width="16.45" height="1.6" fill="#bfbfff"/><rect x="155.2" y="78.5" width="16.45" height="2.0" fill="#bbbbff"/><rect x="155.2" y="80.5" width="16.45" height="1.1" fill="#a1a1ff"/><rect x="155.2" y="81.5" width="16.45" height="1.6" fill="#b5b5ff"/><rect x="155.2" y="83.0" width="16.45" height="1.1" fill="#b2b2ff"/><rect x="155.2" y="84.0" width="16.45" height="1.1" fill="#b9b9ff"/><rect x="155.2" y="85.0" width="16.45" height="1.1" fill="#c7c7ff"/><rect x="155.2" y="86.0" width="16.45" height="1.1" fill="#a7a7ff"/><rect x="155.2" y="87.0" width="16.45" height="1.1" fill="#b6b6ff"/><rect x="155.2" y="88.0" width="16.45" height="2.0" fill="#b5b5ff"/><rect x="155.2" y="90.0" width="16.45" height="1.1" fill="#c0c0ff"/><rect x="155.2" y="91.0" width="16.45" height="1.6" fill="#c3c3ff"/><rect x="155.2" y="92.5" width="16.45" height="2.0" fill="#b3b3ff"/><rect x="155.2" y="94.5" width="16.45" height="2.0" fill="#b7b7ff"/><rect x="155.2" y="96.5" width="16.45" height="1.1" fill="#b5b5ff"/><rect x="155.2" y="97.5" width="16.45" height="1.1" fill="#a4a4ff"/><rect x="155.2" y="98.5" width="16.45" height="1.1" fill="#c8c8ff"/><rect x="155.2" y="99.5" width="16.45" height="2.0" fill="#b7b7ff"/><rect x="155.2" y="101.5" width="16.45" height="1.1" fill="#cdcdff"/><rect x="155.2" y="102.5" width="16.45" height="1.1" fill="#b7b7ff"/><rect x="155.2" y="103.5" width="16.45" height="1.1" fill="#cbcbff"/><rect x="155.2" y="104.5" width="16.45" height="1.1" fill="#c2c2ff"/><rect x="155.2" y="105.5" width="16.45" height="1.1" fill="#c2c2ff"/><rect x="155.2" y="106.5" width="16.45" height="1.1" fill="#a6a6ff"/><rect x="155.2" y="107.5" width="16.45" height="2.0" fill="#babaff"/><rect x="155.2" y="109.5" width="16.45" height="2.0" fill="#bdbdff"/><rect x="155.2" y="111.5" width="16.45" height="1.1" fill="#bcbcff"/><rect x="155.2" y="112.5" width="16.45" height="1.6" fill="#ababff"/><rect x="155.2" y="114.0" width="16.45" height="1.1" fill="#b2b2ff"/><rect x="155.2" y="115.0" width="16.45" height="2.0" fill="#b2b2ff"/><rect x="155.2" y="117.0" width="16.45" height="1.6" fill="#b7b7ff"/><rect x="155.2" y="118.5" width="16.45" height="1.6" fill="#aeaeff"/><rect x="155.2" y="120.0" width="16.45" height="2.0" fill="#b8b8ff"/><rect x="155.2" y="122.0" width="16.45" height="2.0" fill="#bebeff"/><rect x="155.2" y="124.0" width="16.45" height="1.6" fill="#babaff"/><rect x="155.2" y="125.5" width="16.45" height="2.0" fill="#c0c0ff"/><rect x="155.2" y="127.5" width="16.45" height="2.0" fill="#ffcfcf"/><rect x="155.2" y="129.5" width="16.45" height="1.6" fill="#ffd2d2"/><rect x="155.2" y="131.0" width="16.45" height="1.1" fill="#ffd9d9"/><rect x="155.2" y="132.0" width="16.45" height="1.1" fill="#ff5353"/><rect x="155.2" y="133.0" width="16.45" height="1.1" fill="#ff5151"/><rect x="155.2" y="134.0" width="16.45" height="2.0" fill="#ff4949"/><rect x="155.2" y="136.0" width="16.45" height="1.1" fill="#ff4848"/><rect x="155.2" y="137.0" width="16.45" height="2.0" fill="#ffc2c2"/><rect x="155.2" y="139.0" width="16.45" height="1.1" fill="#ff3d3d"/><rect x="155.2" y="140.0" width="16.45" height="1.1" fill="#ff3333"/><rect x="155.2" y="141.0" width="16.45" height="1.6" fill="#ff3131"/><rect x="155.2" y="142.5" width="16.45" height="1.1" fill="#ff2525"/><rect x="155.2" y="143.5" width="16.45" height="1.1" fill="#ff3434"/><rect x="155.2" y="144.5" width="16.45" height="1.1" fill="#fffafa"/><rect x="155.2" y="145.5" width="16.45" height="1.6" fill="#fff7f7"/><rect x="155.2" y="147.0" width="16.45" height="1.6" fill="#ffdede"/><rect x="155.2" y="148.5" width="16.45" height="1.6" fill="#ffa6a6"/><rect x="155.2" y="150.0" width="16.45" height="1.6" fill="#ffbbbb"/><rect x="155.2" y="151.5" width="16.45" height="1.1" fill="#ffb0b0"/><rect x="155.2" y="152.5" width="16.45" height="1.1" fill="#ffa1a1"/><rect x="155.2" y="153.5" width="16.45" height="1.1" fill="#ffc2c2"/><rect x="155.2" y="154.5" width="16.45" height="1.1" fill="#ffbdbd"/><rect x="155.2" y="155.5" width="16.45" height="1.1" fill="#ffb2b2"/><rect x="155.2" y="156.5" width="16.45" height="2.0" fill="#ffaeae"/><rect x="155.2" y="158.5" width="16.45" height="1.6" fill="#f0e8ff"/><rect x="155.2" y="160.0" width="16.45" height="1.1" fill="#fffaff"/><rect x="155.2" y="161.0" width="16.45" height="1.1" fill="#eee6ff"/><rect x="155.2" y="162.0" width="16.45" height="1.1" fill="#f8f0ff"/><rect x="155.2" y="163.0" width="16.45" height="2.0" fill="#efe7ff"/><rect x="155.2" y="165.0" width="16.45" height="1.1" fill="#f6eeff"/><rect x="155.2" y="166.0" width="16.45" height="1.1" fill="#fef6ff"/><rect x="155.2" y="167.0" width="16.45" height="1.6" fill="#ffc2c2"/><rect x="155.2" y="168.5" width="16.45" height="2.0" fill="#ffffff"/><rect x="155.2" y="170.5" width="16.45" height="2.0" fill="#ddddff"/><rect x="155.2" y="172.5" width="16.45" height="1.1" fill="#f8f8ff"/><rect x="155.2" y="173.5" width="16.45" height="1.1" fill="#efefff"/><rect x="155.2" y="174.5" width="16.45" height="1.1" fill="#f9f9ff"/><rect x="155.2" y="175.5" width="16.45" height="1.1" fill="#e5e5ff"/><rect x="155.2" y="176.5" width="16.45" height="2.0" fill="#dedeff"/><rect x="155.2" y="178.5" width="16.45" height="2.0" fill="#f2f2ff"/><rect x="155.2" y="180.5" width="16.45" height="2.0" fill="#ffffff"/><rect x="155.2" y="182.5" width="16.45" height="1.1" fill="#fafaff"/><rect x="155.2" y="183.5" width="16.45" height="1.6" fill="#ffffff"/><rect x="155.2" y="185.0" width="16.45" height="1.1" fill="#f2f2ff"/><rect x="155.2" y="186.0" width="16.45" height="1.6" fill="#ececff"/><rect x="155.2" y="187.5" width="16.45" height="1.6" fill="#f8f8ff"/><rect x="155.2" y="189.0" width="16.45" height="1.1" fill="#ececff"/><rect x="155.2" y="190.0" width="16.45" height="2.0" fill="#fafaff"/><rect x="155.2" y="192.0" width="16.45" height="1.1" fill="#eeeeff"/><rect x="155.2" y="193.0" width="16.45" height="1.1" fill="#f3f3ff"/><rect x="155.2" y="194.0" width="16.45" height="2.0" fill="#f4f4ff"/><rect x="155.2" y="196.0" width="16.45" height="1.1" fill="#f2f2ff"/><rect x="155.2" y="197.0" width="16.45" height="1.6" fill="#ffd5d5"/><rect x="155.2" y="198.5" width="16.45" height="1.1" fill="#f5f1ff"/><rect x="155.2" y="199.5" width="16.45" height="1.1" fill="#ffffff"/><rect x="155.2" y="200.5" width="16.45" height="2.0" fill="#f8f4ff"/><rect x="155.2" y="202.5" width="16.45" height="1.1" fill="#ffffff"/><rect x="155.2" y="203.5" width="16.45" height="1.6" fill="#faf6ff"/><rect x="155.2" y="205.0" width="16.45" height="1.1" fill="#fcf8ff"/><rect x="155.2" y="206.0" width="16.45" height="2.0" fill="#ffbebe"/><rect x="155.2" y="208.0" width="16.45" height="1.1" fill="#e0e0ff"/><rect x="155.2" y="209.0" width="16.45" height="1.1" fill="#dfdfff"/><rect x="155.2" y="210.0" width="16.45" height="1.6" fill="#e1e1ff"/><rect x="155.2" y="211.5" width="16.45" height="1.1" fill="#eaeaff"/><rect x="155.2" y="212.5" width="16.45" height="1.6" fill="#e7e7ff"/><rect x="155.2" y="214.0" width="16.45" height="2.0" fill="#e6e6ff"/><rect x="155.2" y="216.0" width="16.45" height="2.0" fill="#e6e6ff"/><rect x="155.2" y="218.0" width="16.45" height="2.0" fill="#ffcaca"/><rect x="155.2" y="220.0" width="16.45" height="1.6" fill="#ffd4d4"/><rect x="155.2" y="221.5" width="16.45" height="1.1" fill="#f5f1ff"/><rect x="155.2" y="222.5" width="16.45" height="1.6" fill="#e7e3ff"/><rect x="155.2" y="224.0" width="16.45" height="1.1" fill="#f8f4ff"/><rect x="155.2" y="225.0" width="16.45" height="1.1" fill="#fffcff"/><rect x="155.2" y="226.0" width="16.45" height="2.0" fill="#f0ecff"/><rect x="155.2" y="228.0" width="16.45" height="1.1" fill="#ffc5c5"/><rect x="155.2" y="229.0" width="16.45" height="1.1" fill="#ffc1c1"/><rect x="155.2" y="230.0" width="16.45" height="1.6" fill="#ffcfcf"/><rect x="155.2" y="231.5" width="16.45" height="1.1" fill="#ffc0c0"/><rect x="171.6" y="46.0" width="16.45" height="1.1" fill="#bdbdff"/><rect x="171.6" y="47.0" width="16.45" height="2.0" fill="#b4b4ff"/><rect x="171.6" y="49.0" width="16.45" height="2.0" fill="#adadff"/><rect x="171.6" y="51.0" width="16.45" height="1.6" fill="#c0c0ff"/><rect x="171.6" y="52.5" width="16.45" height="2.0" fill="#b6b6ff"/><rect x="171.6" y="54.5" width="16.45" height="1.1" fill="#c3c3ff"/><rect x="171.6" y="55.5" width="16.45" height="2.0" fill="#b5b5ff"/><rect x="171.6" y="57.5" width="16.45" height="1.1" fill="#bbbbff"/><rect x="171.6" y="58.5" width="16.45" height="1.1" fill="#c8c8ff"/><rect x="171.6" y="59.5" width="16.45" height="1.1" fill="#cdcdff"/><rect x="171.6" y="60.5" width="16.45" height="1.1" fill="#ceceff"/><rect x="171.6" y="61.5" width="16.45" height="1.6" fill="#c7c7ff"/><rect x="171.6" y="63.0" width="16.45" height="2.0" fill="#c8c8ff"/><rect x="171.6" y="65.0" width="16.45" height="1.1" fill="#b4b4ff"/><rect x="171.6" y="66.0" width="16.45" height="1.1" fill="#bfbfff"/><rect x="171.6" y="67.0" width="16.45" height="1.1" fill="#bfbfff"/><rect x="171.6" y="68.0" width="16.45" height="1.1" fill="#c6c6ff"/><rect x="171.6" y="69.0" width="16.45" height="1.1" fill="#bebeff"/><rect x="171.6" y="70.0" width="16.45" height="2.0" fill="#bebeff"/><rect x="171.6" y="72.0" width="16.45" height="2.0" fill="#b1b1ff"/><rect x="171.6" y="74.0" width="16.45" height="2.0" fill="#c9c9ff"/><rect x="171.6" y="76.0" width="16.45" height="1.1" fill="#c2c2ff"/><rect x="171.6" y="77.0" width="16.45" height="1.6" fill="#c6c6ff"/><rect x="171.6" y="78.5" width="16.45" height="2.0" fill="#bcbcff"/><rect x="171.6" y="80.5" width="16.45" height="1.1" fill="#aeaeff"/><rect x="171.6" y="81.5" width="16.45" height="1.6" fill="#c0c0ff"/><rect x="171.6" y="83.0" width="16.45" height="1.1" fill="#bfbfff"/><rect x="171.6" y="84.0" width="16.45" height="1.1" fill="#c0c0ff"/><rect x="171.6" y="85.0" width="16.45" height="1.1" fill="#c5c5ff"/><rect x="171.6" y="86.0" width="16.45" height="1.1" fill="#a4a4ff"/><rect x="171.6" y="87.0" width="16.45" height="1.1" fill="#babaff"/><rect x="171.6" y="88.0" width="16.45" height="2.0" fill="#b2b2ff"/><rect x="171.6" y="90.0" width="16.45" height="1.1" fill="#c1c1ff"/><rect x="171.6" y="91.0" width="16.45" height="1.6" fill="#c0c0ff"/><rect x="171.6" y="92.5" width="16.45" height="2.0" fill="#b8b8ff"/><rect x="171.6" y="94.5" width="16.45" height="2.0" fill="#bbbbff"/><rect x="171.6" y="96.5" width="16.45" height="1.1" fill="#cacaff"/><rect x="171.6" y="97.5" width="16.45" height="1.1" fill="#aeaeff"/><rect x="171.6" y="98.5" width="16.45" height="1.1" fill="#d0d0ff"/><rect x="171.6" y="99.5" width="16.45" height="2.0" fill="#ababff"/><rect x="171.6" y="101.5" width="16.45" height="1.1" fill="#c9c9ff"/><rect x="171.6" y="102.5" width="16.45" height="1.1" fill="#b9b9ff"/><rect x="171.6" y="103.5" width="16.45" height="1.1" fill="#ccccff"/><rect x="171.6" y="104.5" width="16.45" height="1.1" fill="#c5c5ff"/><rect x="171.6" y="105.5" width="16.45" height="1.1" fill="#bebeff"/><rect x="171.6" y="106.5" width="16.45" height="1.1" fill="#b0b0ff"/><rect x="171.6" y="107.5" width="16.45" height="2.0" fill="#c1c1ff"/><rect x="171.6" y="109.5" width="16.45" height="2.0" fill="#c0c0ff"/><rect x="171.6" y="111.5" width="16.45" height="1.1" fill="#bfbfff"/><rect x="171.6" y="112.5" width="16.45" height="1.6" fill="#b0b0ff"/><rect x="171.6" y="114.0" width="16.45" height="1.1" fill="#b5b5ff"/><rect x="171.6" y="115.0" width="16.45" height="2.0" fill="#b7b7ff"/><rect x="171.6" y="117.0" width="16.45" height="1.6" fill="#b7b7ff"/><rect x="171.6" y="118.5" width="16.45" height="1.6" fill="#b6b6ff"/><rect x="171.6" y="120.0" width="16.45" height="2.0" fill="#b5b5ff"/><rect x="171.6" y="122.0" width="16.45" height="2.0" fill="#c6c6ff"/><rect x="171.6" y="124.0" width="16.45" height="1.6" fill="#b7b7ff"/><rect x="171.6" y="125.5" width="16.45" height="2.0" fill="#c1c1ff"/><rect x="171.6" y="127.5" width="16.45" height="2.0" fill="#ffd4d4"/><rect x="171.6" y="129.5" width="16.45" height="1.6" fill="#ff0909"/><rect x="171.6" y="131.0" width="16.45" height="1.1" fill="#ff1c1c"/><rect x="171.6" y="132.0" width="16.45" height="1.1" fill="#ff1515"/><rect x="171.6" y="133.0" width="16.45" height="1.1" fill="#ff0d0d"/><rect x="171.6" y="134.0" width="16.45" height="2.0" fill="#ff5e5e"/><rect x="171.6" y="136.0" width="16.45" height="1.1" fill="#ff5c5c"/><rect x="171.6" y="137.0" width="16.45" height="2.0" fill="#ff6060"/><rect x="171.6" y="139.0" width="16.45" height="1.1" fill="#ff6a6a"/><rect x="171.6" y="140.0" width="16.45" height="1.1" fill="#ff6565"/><rect x="171.6" y="141.0" width="16.45" height="1.6" fill="#ff5a5a"/><rect x="171.6" y="142.5" width="16.45" height="1.1" fill="#ff4747"/><rect x="171.6" y="143.5" width="16.45" height="1.1" fill="#ff6262"/><rect x="171.6" y="144.5" width="16.45" height="1.1" fill="#ff6161"/><rect x="171.6" y="145.5" width="16.45" height="1.6" fill="#ff6868"/><rect x="171.6" y="147.0" width="16.45" height="1.6" fill="#ffe5e5"/><rect x="171.6" y="148.5" width="16.45" height="1.6" fill="#ffdfdf"/><rect x="171.6" y="150.0" width="16.45" height="1.6" fill="#ffa6a6"/><rect x="171.6" y="151.5" width="16.45" height="1.1" fill="#ffa1a1"/><rect x="171.6" y="152.5" width="16.45" height="1.1" fill="#ff9292"/><rect x="171.6" y="153.5" width="16.45" height="1.1" fill="#ffaeae"/><rect x="171.6" y="154.5" width="16.45" height="1.1" fill="#ffa6a6"/><rect x="171.6" y="155.5" width="16.45" height="1.1" fill="#ffa3a3"/><rect x="171.6" y="156.5" width="16.45" height="2.0" fill="#ff9e9e"/><rect x="171.6" y="158.5" width="16.45" height="1.6" fill="#ffe3e3"/><rect x="171.6" y="160.0" width="16.45" height="1.1" fill="#fff6f6"/><rect x="171.6" y="161.0" width="16.45" height="1.1" fill="#ffe6e6"/><rect x="171.6" y="162.0" width="16.45" height="1.1" fill="#ffe0e0"/><rect x="171.6" y="163.0" width="16.45" height="2.0" fill="#ffe3e3"/><rect x="171.6" y="165.0" width="16.45" height="1.1" fill="#ffe4e4"/><rect x="171.6" y="166.0" width="16.45" height="1.1" fill="#fffbfb"/><rect x="171.6" y="167.0" width="16.45" height="1.6" fill="#fff7f7"/><rect x="171.6" y="168.5" width="16.45" height="2.0" fill="#ffeded"/><rect x="171.6" y="170.5" width="16.45" height="2.0" fill="#ffb2b2"/><rect x="171.6" y="172.5" width="16.45" height="1.1" fill="#ffbcbc"/><rect x="171.6" y="173.5" width="16.45" height="1.1" fill="#ffbcbc"/><rect x="171.6" y="174.5" width="16.45" height="1.1" fill="#ffc0c0"/><rect x="171.6" y="175.5" width="16.45" height="1.1" fill="#ffacac"/><rect x="171.6" y="176.5" width="16.45" height="2.0" fill="#ddddff"/><rect x="171.6" y="178.5" width="16.45" height="2.0" fill="#f5f5ff"/><rect x="171.6" y="180.5" width="16.45" height="2.0" fill="#f5f5ff"/><rect x="171.6" y="182.5" width="16.45" height="1.1" fill="#f2f2ff"/><rect x="171.6" y="183.5" width="16.45" height="1.6" fill="#ffffff"/><rect x="171.6" y="185.0" width="16.45" height="1.1" fill="#f3f3ff"/><rect x="171.6" y="186.0" width="16.45" height="1.6" fill="#fefeff"/><rect x="171.6" y="187.5" width="16.45" height="1.6" fill="#f9f9ff"/><rect x="171.6" y="189.0" width="16.45" height="1.1" fill="#f0f0ff"/><rect x="171.6" y="190.0" width="16.45" height="2.0" fill="#fffdfd"/><rect x="171.6" y="192.0" width="16.45" height="1.1" fill="#ffdcdc"/><rect x="171.6" y="193.0" width="16.45" height="1.1" fill="#ffdede"/><rect x="171.6" y="194.0" width="16.45" height="2.0" fill="#ffeded"/><rect x="171.6" y="196.0" width="16.45" height="1.1" fill="#ffe2e2"/><rect x="171.6" y="197.0" width="16.45" height="1.6" fill="#ffffff"/><rect x="171.6" y="198.5" width="16.45" height="1.1" fill="#ffe9e9"/><rect x="171.6" y="199.5" width="16.45" height="1.1" fill="#fff6f6"/><rect x="171.6" y="200.5" width="16.45" height="2.0" fill="#fff3f3"/><rect x="171.6" y="202.5" width="16.45" height="1.1" fill="#fffcfc"/><rect x="171.6" y="203.5" width="16.45" height="1.6" fill="#fff1f1"/><rect x="171.6" y="205.0" width="16.45" height="1.1" fill="#ffd6d6"/><rect x="171.6" y="206.0" width="16.45" height="2.0" fill="#ffcece"/><rect x="171.6" y="208.0" width="16.45" height="1.1" fill="#ffdcdc"/><rect x="171.6" y="209.0" width="16.45" height="1.1" fill="#ffcfcf"/><rect x="171.6" y="210.0" width="16.45" height="1.6" fill="#eaeaff"/><rect x="171.6" y="211.5" width="16.45" height="1.1" fill="#e6e6ff"/><rect x="171.6" y="212.5" width="16.45" height="1.6" fill="#e1e1ff"/><rect x="171.6" y="214.0" width="16.45" height="2.0" fill="#e7e7ff"/><rect x="171.6" y="216.0" width="16.45" height="2.0" fill="#ddddff"/><rect x="171.6" y="218.0" width="16.45" height="2.0" fill="#ffd6d6"/><rect x="171.6" y="220.0" width="16.45" height="1.6" fill="#ffdada"/><rect x="171.6" y="221.5" width="16.45" height="1.1" fill="#ffdede"/><rect x="171.6" y="222.5" width="16.45" height="1.6" fill="#fff2f2"/><rect x="171.6" y="224.0" width="16.45" height="1.1" fill="#fffbfb"/><rect x="171.6" y="225.0" width="16.45" height="1.1" fill="#ffffff"/><rect x="171.6" y="226.0" width="16.45" height="2.0" fill="#fffefe"/><rect x="171.6" y="228.0" width="16.45" height="1.1" fill="#ff5151"/><rect x="171.6" y="229.0" width="16.45" height="1.1" fill="#ff5757"/><rect x="171.6" y="230.0" width="16.45" height="1.6" fill="#ff5959"/><rect x="171.6" y="231.5" width="16.45" height="1.1" fill="#ffc7c7"/></g>
<path d="M81.4 46.0L81.4 39.0M81.4 39.0L97.8 39.0M97.8 39.0L97.8 46.0M65.0 46.0L65.0 37.8M65.0 37.8L89.6 37.8M89.6 37.8L89.6 39.0M48.6 46.0L48.6 36.5M48.6 36.5L77.3 36.5M77.3 36.5L77.3 37.8M32.2 46.0L32.2 35.2M32.2 35.2L62.9 35.2M62.9 35.2L62.9 36.5M163.4 46.0L163.4 41.1M163.4 41.1L179.8 41.1M179.8 41.1L179.8 46.0M147.0 46.0L147.0 36.6M147.0 36.6L171.6 36.6M171.6 36.6L171.6 41.1M130.6 46.0L130.6 33.0M130.6 33.0L159.3 33.0M159.3 33.0L159.3 36.6M114.2 46.0L114.2 26.9M114.2 26.9L144.9 26.9M144.9 26.9L144.9 33.0M47.6 35.2L47.6 22.3M47.6 22.3L129.6 22.3M129.6 22.3L129.6 26.9" stroke="#555" stroke-width="0.9" fill="none"/>
<path d="M23.6 47.5L16.5 47.5M23.6 48.5L16.5 48.5M16.5 47.5L16.5 48.5M16.5 48.0L15.9 48.0M23.6 49.5L15.9 49.5M15.9 48.0L15.9 49.5M23.6 46.5L15.2 46.5M15.9 48.8L15.2 48.8M15.2 46.5L15.2 48.8M23.6 50.5L16.6 50.5M23.6 51.5L16.6 51.5M16.6 50.5L16.6 51.5M15.2 47.6L14.5 47.6M16.6 51.0L14.5 51.0M14.5 47.6L14.5 51.0M23.6 52.5L17.9 52.5M23.6 53.5L17.9 53.5M17.9 52.5L17.9 53.5M23.6 55.5L16.5 55.5M23.6 56.5L16.5 56.5M16.5 55.5L16.5 56.5M23.6 54.5L15.9 54.5M16.5 56.0L15.9 56.0M15.9 54.5L15.9 56.0M23.6 57.5L16.7 57.5M23.6 58.5L16.7 58.5M16.7 57.5L16.7 58.5M15.9 55.2L15.0 55.2M16.7 58.0L15.0 58.0M15.0 55.2L15.0 58.0M15.0 56.6L14.4 56.6M23.6 59.5L14.4 59.5M14.4 56.6L14.4 59.5M17.9 53.0L13.8 53.0M14.4 58.1L13.8 58.1M13.8 53.0L13.8 58.1M23.6 60.5L17.8 60.5M23.6 61.5L17.8 61.5M17.8 60.5L17.8 61.5M13.8 55.5L13.2 55.5M17.8 61.0L13.2 61.0M13.2 55.5L13.2 61.0M23.6 63.5L16.9 63.5M23.6 64.5L16.9 64.5M16.9 63.5L16.9 64.5M23.6 62.5L16.3 62.5M16.9 64.0L16.3 64.0M16.3 62.5L16.3 64.0M23.6 65.5L17.2 65.5M23.6 66.5L17.2 66.5M17.2 65.5L17.2 66.5M16.3 63.2L15.7 63.2M17.2 66.0L15.7 66.0M15.7 63.2L15.7 66.0M23.6 68.5L17.0 68.5M23.6 69.5L17.0 69.5M17.0 68.5L17.0 69.5M17.0 69.0L16.4 69.0M23.6 70.5L16.4 70.5M16.4 69.0L16.4 70.5M23.6 67.5L15.8 67.5M16.4 69.8L15.8 69.8M15.8 67.5L15.8 69.8M23.6 71.5L18.7 71.5M23.6 72.5L18.7 72.5M18.7 71.5L18.7 72.5M18.7 72.0L16.0 72.0M23.6 73.5L16.0 73.5M16.0 72.0L16.0 73.5M16.0 72.8L15.4 72.8M23.6 74.5L15.4 74.5M15.4 72.8L15.4 74.5M15.8 68.6L14.8 68.6M15.4 73.6L14.8 73.6M14.8 68.6L14.8 73.6M15.7 64.6L12.7 64.6M14.8 71.1L12.7 71.1M12.7 64.6L12.7 71.1M13.2 58.3L11.8 58.3M12.7 67.9L11.8 67.9M11.8 58.3L11.8 67.9M14.5 49.3L9.9 49.3M11.8 63.1L9.9 63.1M9.9 49.3L9.9 63.1M23.6 75.5L17.5 75.5M23.6 76.5L17.5 76.5M17.5 75.5L17.5 76.5M17.5 76.0L16.9 76.0M23.6 77.5L16.9 77.5M16.9 76.0L16.9 77.5M16.9 76.8L16.3 76.8M23.6 78.5L16.3 78.5M16.3 76.8L16.3 78.5M23.6 79.5L18.1 79.5M23.6 80.5L18.1 80.5M18.1 79.5L18.1 80.5M18.1 80.0L17.2 80.0M23.6 81.5L17.2 81.5M17.2 80.0L17.2 81.5M23.6 82.5L17.1 82.5M23.6 83.5L17.1 83.5M17.1 82.5L17.1 83.5M17.1 83.0L16.5 83.0M23.6 84.5L16.5 84.5M16.5 83.0L16.5 84.5M17.2 80.8L15.9 80.8M16.5 83.8L15.9 83.8M15.9 80.8L15.9 83.8M16.3 77.6L13.1 77.6M15.9 82.2L13.1 82.2M13.1 77.6L13.1 82.2M23.6 86.5L16.7 86.5M23.6 87.5L16.7 87.5M16.7 86.5L16.7 87.5M23.6 85.5L15.8 85.5M16.7 87.0L15.8 87.0M15.8 85.5L15.8 87.0M13.1 79.9L12.5 79.9M15.8 86.2L12.5 86.2M12.5 79.9L12.5 86.2M23.6 88.5L17.3 88.5M23.6 89.5L17.3 89.5M17.3 88.5L17.3 89.5M23.6 91.5L18.4 91.5M23.6 92.5L18.4 92.5M18.4 91.5L18.4 92.5M18.4 92.0L17.8 92.0M23.6 93.5L17.8 93.5M17.8 92.0L17.8 93.5M23.6 95.5L17.3 95.5M23.6 96.5L17.3 96.5M17.3 95.5L17.3 96.5M23.6 94.5L16.7 94.5M17.3 96.0L16.7 96.0M16.7 94.5L16.7 96.0M17.8 92.8L16.1 92.8M16.7 95.2L16.1 95.2M16.1 92.8L16.1 95.2M23.6 90.5L14.3 90.5M16.1 94.0L14.3 94.0M14.3 90.5L14.3 94.0M23.6 97.5L17.0 97.5M23.6 98.5L17.0 98.5M17.0 97.5L17.0 98.5M14.3 92.2L13.7 92.2M17.0 98.0L13.7 98.0M13.7 92.2L13.7 98.0M17.3 89.0L13.1 89.0M13.7 95.1L13.1 95.1M13.1 89.0L13.1 95.1M12.5 83.1L11.9 83.1M13.1 92.1L11.9 92.1M11.9 83.1L11.9 92.1M23.6 100.5L17.3 100.5M23.6 101.5L17.3 101.5M17.3 100.5L17.3 101.5M23.6 99.5L16.7 99.5M17.3 101.0L16.7 101.0M16.7 99.5L16.7 101.0M23.6 102.5L18.0 102.5M23.6 103.5L18.0 103.5M18.0 102.5L18.0 103.5M23.6 104.5L18.6 104.5M23.6 105.5L18.6 105.5M18.6 104.5L18.6 105.5M18.0 103.0L17.0 103.0M18.6 105.0L17.0 105.0M17.0 103.0L17.0 105.0M23.6 106.5L18.3 106.5M23.6 107.5L18.3 107.5M18.3 106.5L18.3 107.5M17.0 104.0L15.2 104.0M18.3 107.0L15.2 107.0M15.2 104.0L15.2 107.0M15.2 105.5L14.6 105.5M23.6 108.5L14.6 108.5M14.6 105.5L14.6 108.5M16.7 100.2L13.3 100.2M14.6 107.0L13.3 107.0M13.3 100.2L13.3 107.0M11.9 87.6L10.8 87.6M13.3 103.6L10.8 103.6M10.8 87.6L10.8 103.6M23.6 110.5L16.8 110.5M23.6 111.5L16.8 111.5M16.8 110.5L16.8 111.5M23.6 109.5L16.2 109.5M16.8 111.0L16.2 111.0M16.2 109.5L16.2 111.0M23.6 112.5L16.8 112.5M23.6 113.5L16.8 113.5M16.8 112.5L16.8 113.5M23.6 115.5L18.5 115.5M23.6 116.5L18.5 116.5M18.5 115.5L18.5 116.5M23.6 114.5L17.2 114.5M18.5 116.0L17.2 116.0M17.2 114.5L17.2 116.0M23.6 117.5L17.2 117.5M23.6 118.5L17.2 118.5M17.2 117.5L17.2 118.5M23.6 120.5L17.5 120.5M23.6 121.5L17.5 121.5M17.5 120.5L17.5 121.5M17.5 121.0L16.8 121.0M23.6 122.5L16.8 122.5M16.8 121.0L16.8 122.5M23.6 119.5L15.3 119.5M16.8 121.8L15.3 121.8M15.3 119.5L15.3 121.8M23.6 126.5L16.8 126.5M23.6 127.5L16.8 127.5M16.8 126.5L16.8 127.5M23.6 125.5L15.7 125.5M16.8 127.0L15.7 127.0M15.7 125.5L15.7 127.0M23.6 124.5L15.1 124.5M15.7 126.2L15.1 126.2M15.1 124.5L15.1 126.2M23.6 123.5L14.5 123.5M15.1 125.4L14.5 125.4M14.5 123.5L14.5 125.4M15.3 120.6L13.7 120.6M14.5 124.4L13.7 124.4M13.7 120.6L13.7 124.4M17.2 118.0L13.1 118.0M13.7 122.5L13.1 122.5M13.1 118.0L13.1 122.5M17.2 115.2L12.2 115.2M13.1 120.3L12.2 120.3M12.2 115.2L12.2 120.3M16.8 113.0L11.6 113.0M12.2 117.8L11.6 117.8M11.6 113.0L11.6 117.8M16.2 110.2L11.0 110.2M11.6 115.4L11.0 115.4M11.0 110.2L11.0 115.4M10.8 95.6L9.6 95.6M11.0 112.8L9.6 112.8M9.6 95.6L9.6 112.8M9.9 56.2L7.3 56.2M9.6 104.2L7.3 104.2M7.3 56.2L7.3 104.2M23.6 128.5L18.3 128.5M23.6 129.5L18.3 129.5M18.3 128.5L18.3 129.5M18.3 129.0L16.5 129.0M23.6 130.5L16.5 130.5M16.5 129.0L16.5 130.5M23.6 131.5L18.4 131.5M23.6 132.5L18.4 132.5M18.4 131.5L18.4 132.5M18.4 132.0L17.6 132.0M23.6 133.5L17.6 133.5M17.6 132.0L17.6 133.5M23.6 135.5L17.3 135.5M23.6 136.5L17.3 136.5M17.3 135.5L17.3 136.5M23.6 134.5L15.8 134.5M17.3 136.0L15.8 136.0M15.8 134.5L15.8 136.0M23.6 137.5L17.1 137.5M23.6 138.5L17.1 138.5M17.1 137.5L17.1 138.5M15.8 135.2L15.2 135.2M17.1 138.0L15.2 138.0M15.2 135.2L15.2 138.0M23.6 139.5L18.7 139.5M23.6 140.5L18.7 140.5M18.7 139.5L18.7 140.5M15.2 136.6L14.6 136.6M18.7 140.0L14.6 140.0M14.6 136.6L14.6 140.0M17.6 132.8L14.0 132.8M14.6 138.3L14.0 138.3M14.0 132.8L14.0 138.3M16.5 129.8L13.4 129.8M14.0 135.5L13.4 135.5M13.4 129.8L13.4 135.5M23.6 141.5L16.9 141.5M23.6 142.5L16.9 142.5M16.9 141.5L16.9 142.5M23.6 144.5L18.4 144.5M23.6 145.5L18.4 145.5M18.4 144.5L18.4 145.5M18.4 145.0L16.8 145.0M23.6 146.5L16.8 146.5M16.8 145.0L16.8 146.5M23.6 143.5L16.2 143.5M16.8 145.8L16.2 145.8M16.2 143.5L16.2 145.8M16.9 142.0L15.6 142.0M16.2 144.6L15.6 144.6M15.6 142.0L15.6 144.6M23.6 147.5L18.6 147.5M23.6 148.5L18.6 148.5M18.6 147.5L18.6 148.5M23.6 149.5L18.3 149.5M23.6 150.5L18.3 150.5M18.3 149.5L18.3 150.5M23.6 151.5L18.3 151.5M23.6 152.5L18.3 152.5M18.3 151.5L18.3 152.5M18.3 150.0L17.5 150.0M18.3 152.0L17.5 152.0M17.5 150.0L17.5 152.0M23.6 153.5L17.4 153.5M23.6 154.5L17.4 154.5M17.4 153.5L17.4 154.5M17.5 151.0L16.5 151.0M17.4 154.0L16.5 154.0M16.5 151.0L16.5 154.0M23.6 155.5L16.8 155.5M23.6 156.5L16.8 156.5M16.8 155.5L16.8 156.5M16.5 152.5L13.9 152.5M16.8 156.0L13.9 156.0M13.9 152.5L13.9 156.0M18.6 148.0L13.3 148.0M13.9 154.2L13.3 154.2M13.3 148.0L13.3 154.2M15.6 143.3L12.7 143.3M13.3 151.1L12.7 151.1M12.7 143.3L12.7 151.1M23.6 157.5L18.4 157.5M23.6 158.5L18.4 158.5M18.4 157.5L18.4 158.5M18.4 158.0L17.8 158.0M23.6 159.5L17.8 159.5M17.8 158.0L17.8 159.5M12.7 147.2L12.1 147.2M17.8 158.8L12.1 158.8M12.1 147.2L12.1 158.8M13.4 132.6L10.3 132.6M12.1 153.0L10.3 153.0M10.3 132.6L10.3 153.0M23.6 161.5L17.4 161.5M23.6 162.5L17.4 162.5M17.4 161.5L17.4 162.5M23.6 163.5L18.4 163.5M23.6 164.5L18.4 164.5M18.4 163.5L18.4 164.5M17.4 162.0L15.6 162.0M18.4 164.0L15.6 164.0M15.6 162.0L15.6 164.0M23.6 165.5L17.1 165.5M23.6 166.5L17.1 166.5M17.1 165.5L17.1 166.5M15.6 163.0L14.8 163.0M17.1 166.0L14.8 166.0M14.8 163.0L14.8 166.0M14.8 164.5L14.2 164.5M23.6 167.5L14.2 167.5M14.2 164.5L14.2 167.5M23.6 160.5L13.6 160.5M14.2 166.0L13.6 166.0M13.6 160.5L13.6 166.0M23.6 168.5L17.5 168.5M23.6 169.5L17.5 169.5M17.5 168.5L17.5 169.5M17.5 169.0L16.9 169.0M23.6 170.5L16.9 170.5M16.9 169.0L16.9 170.5M23.6 171.5L17.7 171.5M23.6 172.5L17.7 172.5M17.7 171.5L17.7 172.5M17.7 172.0L16.9 172.0M23.6 173.5L16.9 173.5M16.9 172.0L16.9 173.5M23.6 175.5L16.4 175.5M23.6 176.5L16.4 176.5M16.4 175.5L16.4 176.5M23.6 177.5L16.8 177.5M23.6 178.5L16.8 178.5M16.8 177.5L16.8 178.5M16.4 176.0L15.8 176.0M16.8 178.0L15.8 178.0M15.8 176.0L15.8 178.0M23.6 174.5L15.2 174.5M15.8 177.0L15.2 177.0M15.2 174.5L15.2 177.0M16.9 172.8L14.6 172.8M15.2 175.8L14.6 175.8M14.6 172.8L14.6 175.8M23.6 179.5L17.6 179.5M23.6 180.5L17.6 180.5M17.6 179.5L17.6 180.5M14.6 174.2L14.0 174.2M17.6 180.0L14.0 180.0M14.0 174.2L14.0 180.0M16.9 169.8L13.4 169.8M14.0 177.1L13.4 177.1M13.4 169.8L13.4 177.1M23.6 181.5L17.1 181.5M23.6 182.5L17.1 182.5M17.1 181.5L17.1 182.5M17.1 182.0L16.5 182.0M23.6 183.5L16.5 183.5M16.5 182.0L16.5 183.5M23.6 184.5L17.9 184.5M23.6 185.5L17.9 185.5M17.9 184.5L17.9 185.5M17.9 185.0L16.9 185.0M23.6 186.5L16.9 186.5M16.9 185.0L16.9 186.5M16.9 185.8L16.3 185.8M23.6 187.5L16.3 187.5M16.3 185.8L16.3 187.5M23.6 189.5L17.5 189.5M23.6 190.5L17.5 190.5M17.5 189.5L17.5 190.5M23.6 188.5L16.9 188.5M17.5 190.0L16.9 190.0M16.9 188.5L16.9 190.0M16.9 189.2L16.3 189.2M23.6 191.5L16.3 191.5M16.3 189.2L16.3 191.5M16.3 186.6L15.7 186.6M16.3 190.4L15.7 190.4M15.7 186.6L15.7 190.4M23.6 192.5L18.7 192.5M23.6 193.5L18.7 193.5M18.7 192.5L18.7 193.5M23.6 195.5L17.5 195.5M23.6 196.5L17.5 196.5M17.5 195.5L17.5 196.5M23.6 194.5L15.9 194.5M17.5 196.0L15.9 196.0M15.9 194.5L15.9 196.0M15.9 195.2L15.3 195.2M23.6 197.5L15.3 197.5M15.3 195.2L15.3 197.5M18.7 193.0L14.4 193.0M15.3 196.4L14.4 196.4M14.4 193.0L14.4 196.4M14.4 194.7L13.8 194.7M23.6 198.5L13.8 198.5M13.8 194.7L13.8 198.5M15.7 188.5L13.2 188.5M13.8 196.6L13.2 196.6M13.2 188.5L13.2 196.6M16.5 182.8L12.6 182.8M13.2 192.5L12.6 192.5M12.6 182.8L12.6 192.5M13.4 173.4L10.0 173.4M12.6 187.6L10.0 187.6M10.0 173.4L10.0 187.6M13.6 163.2L9.4 163.2M10.0 180.5L9.4 180.5M9.4 163.2L9.4 180.5M23.6 200.5L17.4 200.5M23.6 201.5L17.4 201.5M17.4 200.5L17.4 201.5M23.6 199.5L16.8 199.5M17.4 201.0L16.8 201.0M16.8 199.5L16.8 201.0M16.8 200.2L16.2 200.2M23.6 202.5L16.2 202.5M16.2 200.2L16.2 202.5M16.2 201.4L15.6 201.4M23.6 203.5L15.6 203.5M15.6 201.4L15.6 203.5M23.6 204.5L17.2 204.5M23.6 205.5L17.2 205.5M17.2 204.5L17.2 205.5M23.6 206.5L17.2 206.5M23.6 207.5L17.2 207.5M17.2 206.5L17.2 207.5M17.2 205.0L16.6 205.0M17.2 207.0L16.6 207.0M16.6 205.0L16.6 207.0M23.6 210.5L17.9 210.5M23.6 211.5L17.9 211.5M17.9 210.5L17.9 211.5M23.6 209.5L16.9 209.5M17.9 211.0L16.9 211.0M16.9 209.5L16.9 211.0M23.6 213.5L18.3 213.5M23.6 214.5L18.3 214.5M18.3 213.5L18.3 214.5M23.6 212.5L17.7 212.5M18.3 214.0L17.7 214.0M17.7 212.5L17.7 214.0M16.9 210.2L14.5 210.2M17.7 213.2L14.5 213.2M14.5 210.2L14.5 213.2M23.6 215.5L18.3 215.5M23.6 216.5L18.3 216.5M18.3 215.5L18.3 216.5M23.6 218.5L17.4 218.5M23.6 219.5L17.4 219.5M17.4 218.5L17.4 219.5M23.6 217.5L16.8 217.5M17.4 219.0L16.8 219.0M16.8 217.5L16.8 219.0M18.3 216.0L16.2 216.0M16.8 218.2L16.2 218.2M16.2 216.0L16.2 218.2M14.5 211.8L13.4 211.8M16.2 217.1L13.4 217.1M13.4 211.8L13.4 217.1M23.6 208.5L12.8 208.5M13.4 214.4L12.8 214.4M12.8 208.5L12.8 214.4M16.6 206.0L12.2 206.0M12.8 211.5L12.2 211.5M12.2 206.0L12.2 211.5M15.6 202.4L11.6 202.4M12.2 208.7L11.6 208.7M11.6 202.4L11.6 208.7M23.6 222.5L18.6 222.5M23.6 223.5L18.6 223.5M18.6 222.5L18.6 223.5M23.6 224.5L18.3 224.5M23.6 225.5L18.3 225.5M18.3 224.5L18.3 225.5M18.6 223.0L15.3 223.0M18.3 225.0L15.3 225.0M15.3 223.0L15.3 225.0M23.6 226.5L16.6 226.5M23.6 227.5L16.6 227.5M16.6 226.5L16.6 227.5M15.3 224.0L14.7 224.0M16.6 227.0L14.7 227.0M14.7 224.0L14.7 227.0M23.6 221.5L14.1 221.5M14.7 225.5L14.1 225.5M14.1 221.5L14.1 225.5M23.6 220.5L13.5 220.5M14.1 223.5L13.5 223.5M13.5 220.5L13.5 223.5M23.6 228.5L17.0 228.5M23.6 229.5L17.0 229.5M17.0 228.5L17.0 229.5M23.6 230.5L17.7 230.5M23.6 231.5L17.7 231.5M17.7 230.5L17.7 231.5M17.0 229.0L15.7 229.0M17.7 231.0L15.7 231.0M15.7 229.0L15.7 231.0M13.5 222.0L12.8 222.0M15.7 230.0L12.8 230.0M12.8 222.0L12.8 230.0M11.6 205.6L9.7 205.6M12.8 226.0L9.7 226.0M9.7 205.6L9.7 226.0M9.4 171.9L6.3 171.9M9.7 215.8L6.3 215.8M6.3 171.9L6.3 215.8M10.3 142.8L4.9 142.8M6.3 193.8L4.9 193.8M4.9 142.8L4.9 193.8M7.3 80.2L2.6 80.2M4.9 168.3L2.6 168.3M2.6 80.2L2.6 168.3" stroke="#111" stroke-width="0.7" fill="none"/>
<rect x="19.6" y="46.3" width="4.1" height="186" fill="#000"/>
<defs><linearGradient id="cb" x1="0" y1="0" x2="0" y2="1"><stop offset="0" stop-color="#ff0000"/><stop offset="0.5" stop-color="#ffffff"/><stop offset="1" stop-color="#0000ff"/></linearGradient></defs>
<rect x="190" y="46" width="4" height="69.5" fill="url(#cb)"/>
<rect x="24" y="234" width="82" height="4" fill="#ff0000"/>
<rect x="106" y="234" width="82" height="4" fill="#0000ff"/>
<rect x="50" y="244" width="5.6" height="5.6" fill="#e8242c"/>
<rect x="130.5" y="244" width="5.6" height="5.6" fill="#0a0ae0"/>
<line x1="267.65" y1="43.5" x2="267.65" y2="244.0" stroke="#f2f2f2" stroke-width="0.6"/><line x1="292.75" y1="43.5" x2="292.75" y2="244.0" stroke="#f2f2f2" stroke-width="0.6"/><line x1="317.85" y1="43.5" x2="317.85" y2="244.0" stroke="#f2f2f2" stroke-width="0.6"/><line x1="342.95" y1="43.5" x2="342.95" y2="244.0" stroke="#f2f2f2" stroke-width="0.6"/><line x1="261.5" y1="56.56" x2="353.5" y2="56.56" stroke="#f2f2f2" stroke-width="0.6"/><line x1="261.5" y1="111.32" x2="353.5" y2="111.32" stroke="#f2f2f2" stroke-width="0.6"/><line x1="261.5" y1="166.08" x2="353.5" y2="166.08" stroke="#f2f2f2" stroke-width="0.6"/><line x1="261.5" y1="220.84" x2="353.5" y2="220.84" stroke="#f2f2f2" stroke-width="0.6"/><line x1="280.20" y1="43.5" x2="280.20" y2="244.0" stroke="#e8e8e8" stroke-width="0.8"/><line x1="305.30" y1="43.5" x2="305.30" y2="244.0" stroke="#e8e8e8" stroke-width="0.8"/><line x1="330.40" y1="43.5" x2="330.40" y2="244.0" stroke="#e8e8e8" stroke-width="0.8"/><line x1="261.5" y1="83.94" x2="353.5" y2="83.94" stroke="#e8e8e8" stroke-width="0.8"/><line x1="261.5" y1="138.70" x2="353.5" y2="138.70" stroke="#e8e8e8" stroke-width="0.8"/><line x1="261.5" y1="193.46" x2="353.5" y2="193.46" stroke="#e8e8e8" stroke-width="0.8"/>
<circle cx="287.5" cy="52.6" r="1.22" fill="#0000ff"/><circle cx="291.5" cy="52.6" r="1.22" fill="#0000ff"/><circle cx="294.0" cy="52.6" r="1.22" fill="#0000ff"/><circle cx="296.5" cy="52.6" r="1.22" fill="#0000ff"/><circle cx="298.5" cy="52.6" r="1.22" fill="#0000ff"/><circle cx="300.5" cy="52.6" r="1.22" fill="#0000ff"/><circle cx="301.3" cy="52.6" r="1.22" fill="#0000ff"/><circle cx="293.0" cy="52.6" r="1.22" fill="#0000ff"/><circle cx="299.6" cy="52.6" r="1.22" fill="#0000ff"/><circle cx="311.0" cy="52.6" r="1.22" fill="#ff0000"/><circle cx="313.0" cy="52.6" r="1.22" fill="#ff0000"/><circle cx="315.5" cy="52.6" r="1.22" fill="#ff0000"/><circle cx="317.0" cy="52.6" r="1.22" fill="#ff0000"/><circle cx="320.5" cy="52.6" r="1.22" fill="#ff0000"/><circle cx="312.0" cy="52.6" r="1.22" fill="#ff0000"/><circle cx="290.8" cy="150.4" r="1.22" fill="#0000ff"/><circle cx="295.6" cy="159.6" r="1.22" fill="#0000ff"/><circle cx="290.7" cy="101.8" r="1.22" fill="#0000ff"/><circle cx="291.0" cy="82.5" r="1.22" fill="#0000ff"/><circle cx="300.4" cy="81.7" r="1.22" fill="#0000ff"/><circle cx="297.4" cy="231.9" r="1.22" fill="#0000ff"/><circle cx="300.1" cy="182.9" r="1.22" fill="#0000ff"/><circle cx="298.9" cy="163.0" r="1.22" fill="#0000ff"/><circle cx="291.7" cy="103.0" r="1.22" fill="#0000ff"/><circle cx="299.0" cy="148.4" r="1.22" fill="#0000ff"/><circle cx="285.1" cy="161.4" r="1.22" fill="#0000ff"/><circle cx="301.2" cy="151.2" r="1.22" fill="#0000ff"/><circle cx="289.6" cy="234.2" r="1.22" fill="#0000ff"/><circle cx="288.5" cy="126.6" r="1.22" fill="#0000ff"/><circle cx="299.5" cy="121.8" r="1.22" fill="#0000ff"/><circle cx="288.2" cy="212.2" r="1.22" fill="#0000ff"/><circle cx="291.9" cy="228.5" r="1.22" fill="#0000ff"/><circle cx="301.2" cy="221.5" r="1.22" fill="#0000ff"/><circle cx="283.9" cy="231.7" r="1.22" fill="#0000ff"/><circle cx="293.4" cy="202.0" r="1.22" fill="#0000ff"/><circle cx="288.4" cy="80.9" r="1.22" fill="#0000ff"/><circle cx="298.2" cy="87.9" r="1.22" fill="#0000ff"/><circle cx="298.3" cy="84.1" r="1.22" fill="#0000ff"/><circle cx="294.5" cy="168.0" r="1.22" fill="#0000ff"/><circle cx="292.7" cy="103.0" r="1.22" fill="#0000ff"/><circle cx="292.7" cy="87.6" r="1.22" fill="#0000ff"/><circle cx="285.5" cy="107.4" r="1.22" fill="#0000ff"/><circle cx="298.1" cy="124.6" r="1.22" fill="#0000ff"/><circle cx="293.5" cy="107.0" r="1.22" fill="#0000ff"/><circle cx="292.2" cy="83.9" r="1.22" fill="#0000ff"/><circle cx="300.1" cy="107.5" r="1.22" fill="#0000ff"/><circle cx="287.0" cy="123.1" r="1.22" fill="#0000ff"/><circle cx="300.7" cy="81.6" r="1.22" fill="#0000ff"/><circle cx="287.7" cy="136.6" r="1.22" fill="#0000ff"/><circle cx="276.9" cy="228.6" r="1.22" fill="#0000ff"/><circle cx="293.4" cy="101.5" r="1.22" fill="#0000ff"/><circle cx="301.2" cy="221.3" r="1.22" fill="#0000ff"/><circle cx="293.2" cy="196.1" r="1.22" fill="#0000ff"/><circle cx="292.5" cy="104.2" r="1.22" fill="#0000ff"/><circle cx="291.8" cy="145.2" r="1.22" fill="#0000ff"/><circle cx="300.4" cy="68.8" r="1.22" fill="#0000ff"/><circle cx="286.9" cy="115.9" r="1.22" fill="#0000ff"/><circle cx="293.0" cy="173.9" r="1.22" fill="#0000ff"/><circle cx="290.3" cy="76.5" r="1.22" fill="#0000ff"/><circle cx="294.4" cy="168.0" r="1.22" fill="#0000ff"/><circle cx="294.1" cy="222.6" r="1.22" fill="#0000ff"/><circle cx="298.9" cy="62.2" r="1.22" fill="#0000ff"/><circle cx="300.2" cy="100.1" r="1.22" fill="#0000ff"/><circle cx="285.8" cy="170.0" r="1.22" fill="#0000ff"/><circle cx="279.3" cy="231.7" r="1.22" fill="#0000ff"/><circle cx="299.2" cy="188.7" r="1.22" fill="#0000ff"/><circle cx="299.7" cy="62.7" r="1.22" fill="#0000ff"/><circle cx="284.2" cy="190.2" r="1.22" fill="#0000ff"/><circle cx="299.2" cy="155.4" r="1.22" fill="#0000ff"/><circle cx="290.5" cy="127.2" r="1.22" fill="#0000ff"/><circle cx="294.2" cy="195.7" r="1.22" fill="#0000ff"/><circle cx="293.9" cy="195.7" r="1.22" fill="#0000ff"/><circle cx="280.2" cy="133.1" r="1.22" fill="#0000ff"/><circle cx="280.9" cy="220.2" r="1.22" fill="#0000ff"/><circle cx="289.8" cy="214.7" r="1.22" fill="#0000ff"/><circle cx="287.4" cy="178.4" r="1.22" fill="#0000ff"/><circle cx="295.9" cy="79.3" r="1.22" fill="#0000ff"/><circle cx="299.3" cy="233.5" r="1.22" fill="#0000ff"/><circle cx="289.2" cy="195.4" r="1.22" fill="#0000ff"/><circle cx="286.2" cy="148.4" r="1.22" fill="#0000ff"/><circle cx="295.2" cy="66.3" r="1.22" fill="#0000ff"/><circle cx="297.2" cy="155.2" r="1.22" fill="#0000ff"/><circle cx="288.4" cy="176.7" r="1.22" fill="#0000ff"/><circle cx="276.4" cy="115.6" r="1.22" fill="#0000ff"/><circle cx="288.7" cy="186.7" r="1.22" fill="#0000ff"/><circle cx="278.7" cy="183.9" r="1.22" fill="#0000ff"/><circle cx="296.8" cy="218.8" r="1.22" fill="#0000ff"/><circle cx="295.2" cy="146.8" r="1.22" fill="#0000ff"/><circle cx="288.0" cy="222.1" r="1.22" fill="#0000ff"/><circle cx="292.8" cy="126.8" r="1.22" fill="#0000ff"/><circle cx="291.3" cy="157.7" r="1.22" fill="#0000ff"/><circle cx="283.9" cy="227.3" r="1.22" fill="#0000ff"/><circle cx="300.3" cy="98.7" r="1.22" fill="#0000ff"/><circle cx="294.2" cy="143.9" r="1.22" fill="#0000ff"/><circle cx="285.0" cy="157.3" r="1.22" fill="#0000ff"/><circle cx="290.2" cy="66.8" r="1.22" fill="#0000ff"/><circle cx="296.6" cy="169.8" r="1.22" fill="#0000ff"/><circle cx="289.6" cy="204.0" r="1.22" fill="#0000ff"/><circle cx="295.3" cy="64.8" r="1.22" fill="#0000ff"/><circle cx="289.1" cy="112.2" r="1.22" fill="#0000ff"/><circle cx="296.9" cy="149.4" r="1.22" fill="#0000ff"/><circle cx="283.9" cy="183.1" r="1.22" fill="#0000ff"/><circle cx="297.8" cy="104.8" r="1.22" fill="#0000ff"/><circle cx="272.3" cy="100.6" r="1.22" fill="#0000ff"/><circle cx="299.6" cy="192.2" r="1.22" fill="#0000ff"/><circle cx="290.2" cy="189.7" r="1.22" fill="#0000ff"/><circle cx="285.2" cy="176.7" r="1.22" fill="#0000ff"/><circle cx="283.5" cy="220.9" r="1.22" fill="#0000ff"/><circle cx="291.1" cy="224.8" r="1.22" fill="#0000ff"/><circle cx="291.9" cy="178.5" r="1.22" fill="#0000ff"/><circle cx="288.2" cy="137.5" r="1.22" fill="#0000ff"/><circle cx="284.7" cy="226.5" r="1.22" fill="#0000ff"/><circle cx="297.4" cy="182.5" r="1.22" fill="#0000ff"/><circle cx="279.9" cy="181.0" r="1.22" fill="#0000ff"/><circle cx="277.1" cy="107.5" r="1.22" fill="#0000ff"/><circle cx="297.5" cy="164.3" r="1.22" fill="#0000ff"/><circle cx="295.7" cy="127.5" r="1.22" fill="#0000ff"/><circle cx="295.6" cy="79.9" r="1.22" fill="#0000ff"/><circle cx="298.5" cy="166.5" r="1.22" fill="#0000ff"/><circle cx="300.9" cy="206.6" r="1.22" fill="#0000ff"/><circle cx="289.9" cy="205.2" r="1.22" fill="#0000ff"/><circle cx="288.7" cy="92.7" r="1.22" fill="#0000ff"/><circle cx="292.3" cy="161.0" r="1.22" fill="#0000ff"/><circle cx="283.8" cy="226.7" r="1.22" fill="#0000ff"/><circle cx="297.7" cy="227.2" r="1.22" fill="#0000ff"/><circle cx="289.9" cy="122.0" r="1.22" fill="#0000ff"/><circle cx="292.9" cy="180.6" r="1.22" fill="#0000ff"/><circle cx="291.0" cy="125.9" r="1.22" fill="#0000ff"/><circle cx="294.7" cy="212.0" r="1.22" fill="#0000ff"/><circle cx="275.6" cy="230.0" r="1.22" fill="#0000ff"/><circle cx="288.2" cy="170.1" r="1.22" fill="#0000ff"/><circle cx="296.9" cy="175.3" r="1.22" fill="#0000ff"/><circle cx="281.4" cy="230.1" r="1.22" fill="#0000ff"/><circle cx="289.4" cy="168.5" r="1.22" fill="#0000ff"/><circle cx="285.1" cy="188.7" r="1.22" fill="#0000ff"/><circle cx="297.8" cy="228.3" r="1.22" fill="#0000ff"/><circle cx="294.3" cy="118.2" r="1.22" fill="#0000ff"/><circle cx="291.5" cy="207.6" r="1.22" fill="#0000ff"/><circle cx="295.9" cy="154.4" r="1.22" fill="#0000ff"/><circle cx="283.9" cy="223.7" r="1.22" fill="#0000ff"/><circle cx="297.2" cy="202.1" r="1.22" fill="#0000ff"/><circle cx="293.1" cy="188.1" r="1.22" fill="#0000ff"/><circle cx="288.6" cy="133.7" r="1.22" fill="#0000ff"/><circle cx="293.2" cy="88.9" r="1.22" fill="#0000ff"/><circle cx="291.6" cy="114.7" r="1.22" fill="#0000ff"/><circle cx="299.2" cy="137.3" r="1.22" fill="#0000ff"/><circle cx="296.8" cy="163.1" r="1.22" fill="#0000ff"/><circle cx="285.4" cy="180.5" r="1.22" fill="#0000ff"/><circle cx="295.3" cy="212.9" r="1.22" fill="#0000ff"/><circle cx="294.2" cy="196.3" r="1.22" fill="#0000ff"/><circle cx="289.3" cy="220.4" r="1.22" fill="#0000ff"/><circle cx="282.8" cy="108.4" r="1.22" fill="#0000ff"/><circle cx="299.8" cy="218.2" r="1.22" fill="#0000ff"/><circle cx="275.4" cy="116.3" r="1.22" fill="#0000ff"/><circle cx="299.5" cy="210.0" r="1.22" fill="#0000ff"/><circle cx="296.1" cy="142.0" r="1.22" fill="#0000ff"/><circle cx="294.8" cy="62.6" r="1.22" fill="#0000ff"/><circle cx="273.9" cy="230.0" r="1.22" fill="#0000ff"/><circle cx="284.7" cy="159.2" r="1.22" fill="#0000ff"/><circle cx="300.8" cy="102.7" r="1.22" fill="#0000ff"/><circle cx="282.9" cy="85.3" r="1.22" fill="#0000ff"/><circle cx="296.9" cy="169.5" r="1.22" fill="#0000ff"/><circle cx="287.1" cy="101.8" r="1.22" fill="#0000ff"/><circle cx="288.7" cy="74.8" r="1.22" fill="#0000ff"/><circle cx="297.3" cy="128.7" r="1.22" fill="#0000ff"/><circle cx="299.8" cy="160.8" r="1.22" fill="#0000ff"/><circle cx="300.0" cy="190.2" r="1.22" fill="#0000ff"/><circle cx="300.6" cy="101.2" r="1.22" fill="#0000ff"/><circle cx="292.4" cy="103.9" r="1.22" fill="#0000ff"/><circle cx="278.6" cy="160.4" r="1.22" fill="#0000ff"/><circle cx="287.7" cy="190.8" r="1.22" fill="#0000ff"/><circle cx="290.0" cy="179.1" r="1.22" fill="#0000ff"/><circle cx="291.7" cy="232.0" r="1.22" fill="#0000ff"/><circle cx="300.6" cy="116.1" r="1.22" fill="#0000ff"/><circle cx="279.1" cy="207.4" r="1.22" fill="#0000ff"/><circle cx="293.5" cy="219.5" r="1.22" fill="#0000ff"/><circle cx="281.2" cy="200.0" r="1.22" fill="#0000ff"/><circle cx="291.4" cy="193.5" r="1.22" fill="#0000ff"/><circle cx="294.6" cy="60.2" r="1.22" fill="#0000ff"/><circle cx="298.0" cy="180.6" r="1.22" fill="#0000ff"/><circle cx="272.9" cy="184.8" r="1.22" fill="#0000ff"/><circle cx="289.7" cy="183.8" r="1.22" fill="#0000ff"/><circle cx="298.4" cy="234.5" r="1.22" fill="#0000ff"/><circle cx="298.6" cy="190.3" r="1.22" fill="#0000ff"/><circle cx="300.9" cy="176.9" r="1.22" fill="#0000ff"/><circle cx="295.5" cy="115.8" r="1.22" fill="#0000ff"/><circle cx="297.9" cy="137.3" r="1.22" fill="#0000ff"/><circle cx="290.9" cy="114.7" r="1.22" fill="#0000ff"/><circle cx="296.2" cy="229.8" r="1.22" fill="#0000ff"/><circle cx="299.2" cy="233.8" r="1.22" fill="#0000ff"/><circle cx="297.0" cy="174.1" r="1.22" fill="#0000ff"/><circle cx="296.7" cy="70.5" r="1.22" fill="#0000ff"/><circle cx="293.1" cy="98.7" r="1.22" fill="#0000ff"/><circle cx="285.4" cy="176.2" r="1.22" fill="#0000ff"/><circle cx="297.3" cy="162.7" r="1.22" fill="#0000ff"/><circle cx="294.1" cy="135.5" r="1.22" fill="#0000ff"/><circle cx="291.3" cy="120.8" r="1.22" fill="#0000ff"/><circle cx="277.7" cy="123.1" r="1.22" fill="#0000ff"/><circle cx="301.0" cy="69.9" r="1.22" fill="#0000ff"/><circle cx="288.1" cy="219.7" r="1.22" fill="#0000ff"/><circle cx="298.5" cy="71.8" r="1.22" fill="#0000ff"/><circle cx="299.4" cy="220.8" r="1.22" fill="#0000ff"/><circle cx="300.7" cy="154.6" r="1.22" fill="#0000ff"/><circle cx="284.9" cy="225.5" r="1.22" fill="#0000ff"/><circle cx="295.3" cy="153.1" r="1.22" fill="#0000ff"/><circle cx="291.2" cy="87.2" r="1.22" fill="#0000ff"/><circle cx="289.0" cy="151.0" r="1.22" fill="#0000ff"/><circle cx="298.0" cy="89.3" r="1.22" fill="#0000ff"/><circle cx="300.0" cy="185.1" r="1.22" fill="#0000ff"/><circle cx="287.7" cy="144.8" r="1.22" fill="#0000ff"/><circle cx="284.1" cy="163.3" r="1.22" fill="#0000ff"/><circle cx="296.9" cy="112.3" r="1.22" fill="#0000ff"/><circle cx="292.4" cy="219.0" r="1.22" fill="#0000ff"/><circle cx="295.0" cy="118.6" r="1.22" fill="#0000ff"/><circle cx="288.6" cy="168.9" r="1.22" fill="#0000ff"/><circle cx="290.5" cy="102.9" r="1.22" fill="#0000ff"/><circle cx="298.4" cy="231.6" r="1.22" fill="#0000ff"/><circle cx="299.7" cy="74.6" r="1.22" fill="#0000ff"/><circle cx="290.9" cy="145.8" r="1.22" fill="#0000ff"/><circle cx="289.2" cy="77.4" r="1.22" fill="#0000ff"/><circle cx="293.4" cy="186.4" r="1.22" fill="#0000ff"/><circle cx="293.6" cy="154.8" r="1.22" fill="#0000ff"/><circle cx="299.2" cy="131.7" r="1.22" fill="#0000ff"/><circle cx="298.5" cy="88.3" r="1.22" fill="#0000ff"/><circle cx="298.4" cy="178.2" r="1.22" fill="#0000ff"/><circle cx="291.8" cy="116.1" r="1.22" fill="#0000ff"/><circle cx="292.4" cy="136.1" r="1.22" fill="#0000ff"/><circle cx="300.5" cy="166.2" r="1.22" fill="#0000ff"/><circle cx="297.1" cy="223.1" r="1.22" fill="#0000ff"/><circle cx="295.9" cy="216.4" r="1.22" fill="#0000ff"/><circle cx="289.5" cy="79.9" r="1.22" fill="#0000ff"/><circle cx="299.8" cy="123.6" r="1.22" fill="#0000ff"/><circle cx="299.5" cy="78.3" r="1.22" fill="#0000ff"/><circle cx="297.9" cy="124.5" r="1.22" fill="#0000ff"/><circle cx="294.2" cy="189.1" r="1.22" fill="#0000ff"/><circle cx="292.2" cy="194.0" r="1.22" fill="#0000ff"/><circle cx="284.8" cy="87.8" r="1.22" fill="#0000ff"/><circle cx="288.5" cy="225.8" r="1.22" fill="#0000ff"/><circle cx="298.1" cy="148.0" r="1.22" fill="#0000ff"/><circle cx="292.8" cy="141.4" r="1.22" fill="#0000ff"/><circle cx="293.1" cy="219.3" r="1.22" fill="#0000ff"/><circle cx="294.0" cy="135.1" r="1.22" fill="#0000ff"/><circle cx="284.6" cy="139.4" r="1.22" fill="#0000ff"/><circle cx="293.5" cy="164.9" r="1.22" fill="#0000ff"/><circle cx="299.9" cy="168.5" r="1.22" fill="#0000ff"/><circle cx="268.1" cy="120.4" r="1.22" fill="#0000ff"/><circle cx="275.3" cy="160.9" r="1.22" fill="#0000ff"/><circle cx="288.6" cy="182.5" r="1.22" fill="#0000ff"/><circle cx="300.4" cy="75.4" r="1.22" fill="#0000ff"/><circle cx="298.0" cy="79.6" r="1.22" fill="#0000ff"/><circle cx="295.2" cy="219.9" r="1.22" fill="#0000ff"/><circle cx="296.1" cy="197.1" r="1.22" fill="#0000ff"/><circle cx="300.1" cy="113.7" r="1.22" fill="#0000ff"/><circle cx="286.2" cy="199.9" r="1.22" fill="#0000ff"/><circle cx="295.9" cy="130.6" r="1.22" fill="#0000ff"/><circle cx="289.8" cy="164.4" r="1.22" fill="#0000ff"/><circle cx="282.0" cy="191.3" r="1.22" fill="#0000ff"/><circle cx="289.4" cy="184.9" r="1.22" fill="#0000ff"/><circle cx="276.8" cy="206.1" r="1.22" fill="#0000ff"/><circle cx="282.3" cy="180.8" r="1.22" fill="#0000ff"/><circle cx="290.1" cy="191.6" r="1.22" fill="#0000ff"/><circle cx="297.1" cy="93.9" r="1.22" fill="#0000ff"/><circle cx="296.6" cy="233.2" r="1.22" fill="#0000ff"/><circle cx="295.1" cy="145.8" r="1.22" fill="#0000ff"/><circle cx="298.4" cy="230.2" r="1.22" fill="#0000ff"/><circle cx="295.8" cy="182.0" r="1.22" fill="#0000ff"/><circle cx="280.6" cy="100.8" r="1.22" fill="#0000ff"/><circle cx="295.7" cy="221.4" r="1.22" fill="#0000ff"/><circle cx="300.0" cy="85.8" r="1.22" fill="#0000ff"/><circle cx="292.5" cy="192.7" r="1.22" fill="#0000ff"/><circle cx="300.1" cy="109.6" r="1.22" fill="#0000ff"/><circle cx="293.7" cy="198.8" r="1.22" fill="#0000ff"/><circle cx="292.6" cy="166.2" r="1.22" fill="#0000ff"/><circle cx="299.9" cy="218.2" r="1.22" fill="#0000ff"/><circle cx="290.4" cy="131.4" r="1.22" fill="#0000ff"/><circle cx="296.3" cy="109.0" r="1.22" fill="#0000ff"/><circle cx="288.8" cy="226.9" r="1.22" fill="#0000ff"/><circle cx="292.4" cy="160.9" r="1.22" fill="#0000ff"/><circle cx="301.0" cy="233.1" r="1.22" fill="#0000ff"/><circle cx="299.6" cy="153.8" r="1.22" fill="#0000ff"/><circle cx="295.4" cy="204.8" r="1.22" fill="#0000ff"/><circle cx="298.2" cy="96.2" r="1.22" fill="#0000ff"/><circle cx="288.2" cy="116.3" r="1.22" fill="#0000ff"/><circle cx="299.2" cy="233.5" r="1.22" fill="#0000ff"/><circle cx="301.1" cy="164.0" r="1.22" fill="#0000ff"/><circle cx="300.5" cy="208.4" r="1.22" fill="#0000ff"/><circle cx="298.0" cy="208.5" r="1.22" fill="#0000ff"/><circle cx="288.8" cy="83.2" r="1.22" fill="#0000ff"/><circle cx="283.3" cy="153.1" r="1.22" fill="#0000ff"/><circle cx="291.5" cy="124.5" r="1.22" fill="#0000ff"/><circle cx="285.0" cy="144.4" r="1.22" fill="#0000ff"/><circle cx="292.3" cy="106.5" r="1.22" fill="#0000ff"/><circle cx="296.5" cy="162.5" r="1.22" fill="#0000ff"/><circle cx="289.1" cy="125.8" r="1.22" fill="#0000ff"/><circle cx="299.3" cy="124.9" r="1.22" fill="#0000ff"/><circle cx="290.2" cy="188.1" r="1.22" fill="#0000ff"/><circle cx="282.6" cy="140.5" r="1.22" fill="#0000ff"/><circle cx="274.5" cy="182.9" r="1.22" fill="#0000ff"/><circle cx="296.5" cy="191.6" r="1.22" fill="#0000ff"/><circle cx="266.6" cy="168.7" r="1.22" fill="#0000ff"/><circle cx="298.6" cy="205.2" r="1.22" fill="#0000ff"/><circle cx="291.0" cy="177.0" r="1.22" fill="#0000ff"/><circle cx="292.9" cy="123.5" r="1.22" fill="#0000ff"/><circle cx="300.9" cy="140.2" r="1.22" fill="#0000ff"/><circle cx="293.0" cy="194.9" r="1.22" fill="#0000ff"/><circle cx="299.2" cy="226.6" r="1.22" fill="#0000ff"/><circle cx="287.0" cy="209.2" r="1.22" fill="#0000ff"/><circle cx="290.1" cy="92.8" r="1.22" fill="#0000ff"/><circle cx="289.1" cy="100.9" r="1.22" fill="#0000ff"/><circle cx="293.4" cy="210.7" r="1.22" fill="#0000ff"/><circle cx="298.0" cy="96.2" r="1.22" fill="#0000ff"/><circle cx="286.3" cy="142.7" r="1.22" fill="#0000ff"/><circle cx="295.7" cy="160.2" r="1.22" fill="#0000ff"/><circle cx="292.8" cy="200.3" r="1.22" fill="#0000ff"/><circle cx="291.7" cy="143.6" r="1.22" fill="#0000ff"/><circle cx="283.4" cy="141.6" r="1.22" fill="#0000ff"/><circle cx="298.8" cy="183.9" r="1.22" fill="#0000ff"/><circle cx="295.6" cy="62.9" r="1.22" fill="#0000ff"/><circle cx="291.5" cy="85.3" r="1.22" fill="#0000ff"/><circle cx="294.4" cy="159.8" r="1.22" fill="#0000ff"/><circle cx="290.9" cy="96.5" r="1.22" fill="#0000ff"/><circle cx="291.8" cy="220.5" r="1.22" fill="#0000ff"/><circle cx="293.4" cy="93.0" r="1.22" fill="#0000ff"/><circle cx="295.6" cy="232.6" r="1.22" fill="#0000ff"/><circle cx="285.1" cy="104.3" r="1.22" fill="#0000ff"/><circle cx="293.7" cy="178.7" r="1.22" fill="#0000ff"/><circle cx="297.0" cy="170.7" r="1.22" fill="#0000ff"/><circle cx="294.3" cy="129.1" r="1.22" fill="#0000ff"/><circle cx="294.3" cy="89.2" r="1.22" fill="#0000ff"/><circle cx="291.1" cy="91.7" r="1.22" fill="#0000ff"/><circle cx="297.3" cy="168.1" r="1.22" fill="#0000ff"/><circle cx="293.8" cy="221.4" r="1.22" fill="#0000ff"/><circle cx="291.2" cy="88.9" r="1.22" fill="#0000ff"/><circle cx="300.5" cy="121.7" r="1.22" fill="#0000ff"/><circle cx="284.5" cy="209.8" r="1.22" fill="#0000ff"/><circle cx="291.3" cy="166.1" r="1.22" fill="#0000ff"/><circle cx="299.5" cy="232.6" r="1.22" fill="#0000ff"/><circle cx="292.0" cy="183.6" r="1.22" fill="#0000ff"/><circle cx="286.8" cy="138.3" r="1.22" fill="#0000ff"/><circle cx="295.6" cy="205.8" r="1.22" fill="#0000ff"/><circle cx="292.4" cy="93.3" r="1.22" fill="#0000ff"/><circle cx="292.5" cy="169.6" r="1.22" fill="#0000ff"/><circle cx="300.1" cy="169.4" r="1.22" fill="#0000ff"/><circle cx="296.9" cy="181.0" r="1.22" fill="#0000ff"/><circle cx="294.5" cy="228.7" r="1.22" fill="#0000ff"/><circle cx="289.6" cy="153.3" r="1.22" fill="#0000ff"/><circle cx="287.9" cy="198.9" r="1.22" fill="#0000ff"/><circle cx="290.1" cy="156.0" r="1.22" fill="#0000ff"/><circle cx="284.1" cy="143.0" r="1.22" fill="#0000ff"/><circle cx="287.7" cy="169.0" r="1.22" fill="#0000ff"/><circle cx="299.1" cy="147.0" r="1.22" fill="#0000ff"/><circle cx="295.9" cy="127.6" r="1.22" fill="#0000ff"/><circle cx="275.2" cy="195.0" r="1.22" fill="#0000ff"/><circle cx="297.3" cy="198.0" r="1.22" fill="#0000ff"/><circle cx="299.5" cy="89.3" r="1.22" fill="#0000ff"/><circle cx="285.4" cy="158.7" r="1.22" fill="#0000ff"/><circle cx="295.8" cy="162.6" r="1.22" fill="#0000ff"/><circle cx="300.9" cy="125.0" r="1.22" fill="#0000ff"/><circle cx="296.2" cy="221.7" r="1.22" fill="#0000ff"/><circle cx="282.3" cy="184.8" r="1.22" fill="#0000ff"/><circle cx="293.6" cy="109.2" r="1.22" fill="#0000ff"/><circle cx="285.0" cy="169.2" r="1.22" fill="#0000ff"/><circle cx="292.9" cy="89.2" r="1.22" fill="#0000ff"/><circle cx="277.8" cy="227.4" r="1.22" fill="#0000ff"/><circle cx="282.6" cy="123.7" r="1.22" fill="#0000ff"/><circle cx="290.8" cy="207.5" r="1.22" fill="#0000ff"/><circle cx="298.8" cy="133.9" r="1.22" fill="#0000ff"/><circle cx="300.3" cy="219.8" r="1.22" fill="#0000ff"/><circle cx="289.1" cy="158.0" r="1.22" fill="#0000ff"/><circle cx="299.8" cy="106.2" r="1.22" fill="#0000ff"/><circle cx="292.6" cy="223.3" r="1.22" fill="#0000ff"/><circle cx="283.5" cy="133.5" r="1.22" fill="#0000ff"/><circle cx="295.5" cy="99.3" r="1.22" fill="#0000ff"/><circle cx="301.0" cy="179.6" r="1.22" fill="#0000ff"/><circle cx="280.9" cy="217.1" r="1.22" fill="#0000ff"/><circle cx="291.7" cy="126.2" r="1.22" fill="#0000ff"/><circle cx="287.9" cy="215.6" r="1.22" fill="#0000ff"/><circle cx="285.7" cy="225.5" r="1.22" fill="#0000ff"/><circle cx="296.9" cy="79.0" r="1.22" fill="#0000ff"/><circle cx="288.4" cy="104.2" r="1.22" fill="#0000ff"/><circle cx="299.0" cy="111.8" r="1.22" fill="#0000ff"/><circle cx="290.2" cy="184.2" r="1.22" fill="#0000ff"/><circle cx="293.0" cy="172.8" r="1.22" fill="#0000ff"/><circle cx="275.5" cy="185.0" r="1.22" fill="#0000ff"/><circle cx="284.0" cy="180.7" r="1.22" fill="#0000ff"/><circle cx="299.9" cy="162.9" r="1.22" fill="#0000ff"/><circle cx="300.0" cy="70.6" r="1.22" fill="#0000ff"/><circle cx="289.3" cy="205.7" r="1.22" fill="#0000ff"/><circle cx="301.0" cy="121.1" r="1.22" fill="#0000ff"/><circle cx="292.2" cy="166.1" r="1.22" fill="#0000ff"/><circle cx="286.8" cy="219.6" r="1.22" fill="#0000ff"/><circle cx="298.3" cy="197.8" r="1.22" fill="#0000ff"/><circle cx="293.9" cy="224.3" r="1.22" fill="#0000ff"/><circle cx="287.7" cy="181.5" r="1.22" fill="#0000ff"/><circle cx="287.3" cy="183.6" r="1.22" fill="#0000ff"/><circle cx="299.6" cy="212.0" r="1.22" fill="#0000ff"/><circle cx="292.4" cy="161.7" r="1.22" fill="#0000ff"/><circle cx="288.1" cy="97.9" r="1.22" fill="#0000ff"/><circle cx="298.9" cy="111.8" r="1.22" fill="#0000ff"/><circle cx="279.3" cy="203.9" r="1.22" fill="#0000ff"/><circle cx="290.1" cy="156.5" r="1.22" fill="#0000ff"/><circle cx="297.1" cy="67.8" r="1.22" fill="#0000ff"/><circle cx="295.9" cy="192.3" r="1.22" fill="#0000ff"/><circle cx="293.9" cy="95.1" r="1.22" fill="#0000ff"/><circle cx="293.3" cy="157.7" r="1.22" fill="#0000ff"/><circle cx="296.7" cy="205.0" r="1.22" fill="#0000ff"/><circle cx="278.6" cy="221.1" r="1.22" fill="#0000ff"/><circle cx="296.9" cy="112.3" r="1.22" fill="#0000ff"/><circle cx="292.4" cy="125.8" r="1.22" fill="#0000ff"/><circle cx="287.1" cy="162.5" r="1.22" fill="#0000ff"/><circle cx="297.0" cy="172.7" r="1.22" fill="#0000ff"/><circle cx="296.1" cy="115.5" r="1.22" fill="#0000ff"/><circle cx="300.2" cy="188.6" r="1.22" fill="#0000ff"/><circle cx="297.7" cy="143.3" r="1.22" fill="#0000ff"/><circle cx="291.3" cy="108.1" r="1.22" fill="#0000ff"/><circle cx="297.4" cy="199.4" r="1.22" fill="#0000ff"/><circle cx="301.1" cy="93.6" r="1.22" fill="#0000ff"/><circle cx="298.6" cy="112.8" r="1.22" fill="#0000ff"/><circle cx="298.6" cy="93.0" r="1.22" fill="#0000ff"/><circle cx="285.1" cy="78.4" r="1.22" fill="#0000ff"/><circle cx="300.2" cy="233.9" r="1.22" fill="#0000ff"/><circle cx="294.6" cy="115.2" r="1.22" fill="#0000ff"/><circle cx="293.4" cy="113.0" r="1.22" fill="#0000ff"/><circle cx="297.4" cy="130.5" r="1.22" fill="#0000ff"/><circle cx="282.1" cy="176.2" r="1.22" fill="#0000ff"/><circle cx="295.0" cy="74.0" r="1.22" fill="#0000ff"/><circle cx="280.1" cy="189.2" r="1.22" fill="#0000ff"/><circle cx="289.3" cy="152.1" r="1.22" fill="#0000ff"/><circle cx="299.4" cy="211.6" r="1.22" fill="#0000ff"/><circle cx="294.5" cy="132.3" r="1.22" fill="#0000ff"/><circle cx="299.0" cy="166.4" r="1.22" fill="#0000ff"/><circle cx="294.1" cy="153.0" r="1.22" fill="#0000ff"/><circle cx="292.2" cy="149.5" r="1.22" fill="#0000ff"/><circle cx="285.4" cy="105.8" r="1.22" fill="#0000ff"/><circle cx="297.2" cy="77.5" r="1.22" fill="#0000ff"/><circle cx="296.9" cy="62.9" r="1.22" fill="#0000ff"/><circle cx="288.3" cy="116.9" r="1.22" fill="#0000ff"/><circle cx="294.4" cy="118.0" r="1.22" fill="#0000ff"/><circle cx="292.1" cy="95.5" r="1.22" fill="#0000ff"/><circle cx="285.2" cy="193.7" r="1.22" fill="#0000ff"/><circle cx="299.0" cy="63.5" r="1.22" fill="#0000ff"/><circle cx="297.6" cy="217.4" r="1.22" fill="#0000ff"/><circle cx="289.5" cy="200.8" r="1.22" fill="#0000ff"/><circle cx="295.8" cy="112.3" r="1.22" fill="#0000ff"/><circle cx="294.1" cy="94.9" r="1.22" fill="#0000ff"/><circle cx="299.4" cy="145.6" r="1.22" fill="#0000ff"/><circle cx="300.3" cy="91.8" r="1.22" fill="#0000ff"/><circle cx="282.2" cy="184.8" r="1.22" fill="#0000ff"/><circle cx="299.1" cy="105.8" r="1.22" fill="#0000ff"/><circle cx="291.2" cy="139.2" r="1.22" fill="#0000ff"/><circle cx="297.7" cy="110.0" r="1.22" fill="#0000ff"/><circle cx="291.9" cy="69.3" r="1.22" fill="#0000ff"/><circle cx="289.8" cy="179.2" r="1.22" fill="#0000ff"/><circle cx="277.2" cy="123.5" r="1.22" fill="#0000ff"/><circle cx="293.8" cy="222.8" r="1.22" fill="#0000ff"/><circle cx="282.6" cy="228.0" r="1.22" fill="#0000ff"/><circle cx="293.2" cy="111.6" r="1.22" fill="#0000ff"/><circle cx="292.1" cy="140.2" r="1.22" fill="#0000ff"/><circle cx="293.1" cy="138.6" r="1.22" fill="#0000ff"/><circle cx="301.1" cy="96.5" r="1.22" fill="#0000ff"/><circle cx="297.2" cy="154.2" r="1.22" fill="#0000ff"/><circle cx="296.2" cy="82.3" r="1.22" fill="#0000ff"/><circle cx="287.3" cy="145.3" r="1.22" fill="#0000ff"/><circle cx="292.6" cy="167.0" r="1.22" fill="#0000ff"/><circle cx="299.5" cy="64.3" r="1.22" fill="#0000ff"/><circle cx="296.8" cy="142.2" r="1.22" fill="#0000ff"/><circle cx="291.8" cy="157.6" r="1.22" fill="#0000ff"/><circle cx="298.4" cy="115.2" r="1.22" fill="#0000ff"/><circle cx="294.2" cy="132.3" r="1.22" fill="#0000ff"/><circle cx="297.5" cy="185.1" r="1.22" fill="#0000ff"/><circle cx="291.5" cy="153.2" r="1.22" fill="#0000ff"/><circle cx="298.2" cy="170.7" r="1.22" fill="#0000ff"/><circle cx="291.9" cy="200.9" r="1.22" fill="#0000ff"/><circle cx="293.9" cy="144.2" r="1.22" fill="#0000ff"/><circle cx="280.5" cy="209.7" r="1.22" fill="#0000ff"/><circle cx="290.4" cy="68.6" r="1.22" fill="#0000ff"/><circle cx="282.1" cy="159.5" r="1.22" fill="#0000ff"/><circle cx="283.6" cy="94.7" r="1.22" fill="#0000ff"/><circle cx="301.2" cy="110.4" r="1.22" fill="#0000ff"/><circle cx="300.7" cy="165.5" r="1.22" fill="#0000ff"/><circle cx="294.5" cy="112.5" r="1.22" fill="#0000ff"/><circle cx="289.4" cy="178.3" r="1.22" fill="#0000ff"/><circle cx="295.3" cy="209.9" r="1.22" fill="#0000ff"/><circle cx="290.7" cy="218.0" r="1.22" fill="#0000ff"/><circle cx="289.0" cy="192.5" r="1.22" fill="#0000ff"/><circle cx="270.8" cy="208.9" r="1.22" fill="#0000ff"/><circle cx="291.0" cy="177.9" r="1.22" fill="#0000ff"/><circle cx="297.7" cy="121.2" r="1.22" fill="#0000ff"/><circle cx="301.2" cy="163.9" r="1.22" fill="#0000ff"/><circle cx="293.6" cy="100.5" r="1.22" fill="#0000ff"/><circle cx="294.4" cy="89.6" r="1.22" fill="#0000ff"/><circle cx="298.9" cy="190.8" r="1.22" fill="#0000ff"/><circle cx="295.0" cy="150.3" r="1.22" fill="#0000ff"/><circle cx="300.3" cy="215.1" r="1.22" fill="#0000ff"/><circle cx="287.9" cy="72.7" r="1.22" fill="#0000ff"/><circle cx="300.4" cy="140.2" r="1.22" fill="#0000ff"/><circle cx="297.4" cy="114.9" r="1.22" fill="#0000ff"/><circle cx="291.3" cy="199.1" r="1.22" fill="#0000ff"/><circle cx="283.6" cy="209.5" r="1.22" fill="#0000ff"/><circle cx="292.5" cy="178.1" r="1.22" fill="#0000ff"/><circle cx="287.7" cy="205.4" r="1.22" fill="#0000ff"/><circle cx="291.9" cy="110.9" r="1.22" fill="#0000ff"/><circle cx="283.8" cy="61.3" r="1.22" fill="#0000ff"/><circle cx="293.3" cy="91.3" r="1.22" fill="#0000ff"/><circle cx="282.1" cy="144.8" r="1.22" fill="#0000ff"/><circle cx="278.6" cy="232.9" r="1.22" fill="#0000ff"/><circle cx="291.6" cy="192.1" r="1.22" fill="#0000ff"/><circle cx="298.6" cy="194.8" r="1.22" fill="#0000ff"/><circle cx="291.2" cy="88.4" r="1.22" fill="#0000ff"/><circle cx="299.0" cy="155.5" r="1.22" fill="#0000ff"/><circle cx="297.1" cy="125.5" r="1.22" fill="#0000ff"/><circle cx="294.2" cy="140.1" r="1.22" fill="#0000ff"/><circle cx="286.5" cy="200.0" r="1.22" fill="#0000ff"/><circle cx="290.3" cy="165.8" r="1.22" fill="#0000ff"/><circle cx="286.1" cy="94.1" r="1.22" fill="#0000ff"/><circle cx="288.0" cy="114.8" r="1.22" fill="#0000ff"/><circle cx="290.8" cy="88.4" r="1.22" fill="#0000ff"/><circle cx="299.9" cy="93.4" r="1.22" fill="#0000ff"/><circle cx="292.4" cy="119.0" r="1.22" fill="#0000ff"/><circle cx="299.5" cy="116.4" r="1.22" fill="#0000ff"/><circle cx="300.1" cy="75.4" r="1.22" fill="#0000ff"/><circle cx="298.0" cy="101.4" r="1.22" fill="#0000ff"/><circle cx="290.6" cy="234.1" r="1.22" fill="#0000ff"/><circle cx="292.5" cy="144.0" r="1.22" fill="#0000ff"/><circle cx="278.9" cy="140.8" r="1.22" fill="#0000ff"/><circle cx="295.9" cy="178.1" r="1.22" fill="#0000ff"/><circle cx="286.7" cy="225.7" r="1.22" fill="#0000ff"/><circle cx="300.7" cy="210.3" r="1.22" fill="#0000ff"/><circle cx="297.3" cy="100.1" r="1.22" fill="#0000ff"/><circle cx="297.8" cy="78.0" r="1.22" fill="#0000ff"/><circle cx="299.4" cy="198.2" r="1.22" fill="#0000ff"/><circle cx="301.1" cy="106.9" r="1.22" fill="#0000ff"/><circle cx="296.6" cy="60.4" r="1.22" fill="#0000ff"/><circle cx="281.0" cy="195.5" r="1.22" fill="#0000ff"/><circle cx="297.1" cy="205.7" r="1.22" fill="#0000ff"/><circle cx="278.2" cy="84.1" r="1.22" fill="#0000ff"/><circle cx="301.1" cy="141.9" r="1.22" fill="#0000ff"/><circle cx="285.5" cy="64.4" r="1.22" fill="#0000ff"/><circle cx="292.3" cy="110.2" r="1.22" fill="#0000ff"/><circle cx="287.6" cy="206.8" r="1.22" fill="#0000ff"/><circle cx="296.6" cy="180.4" r="1.22" fill="#0000ff"/><circle cx="266.9" cy="127.7" r="1.22" fill="#0000ff"/><circle cx="297.3" cy="130.1" r="1.22" fill="#0000ff"/><circle cx="283.4" cy="165.8" r="1.22" fill="#0000ff"/><circle cx="296.3" cy="100.4" r="1.22" fill="#0000ff"/><circle cx="271.5" cy="146.8" r="1.22" fill="#0000ff"/><circle cx="293.8" cy="142.1" r="1.22" fill="#0000ff"/><circle cx="294.8" cy="164.4" r="1.22" fill="#0000ff"/><circle cx="282.2" cy="127.6" r="1.22" fill="#0000ff"/><circle cx="282.7" cy="85.8" r="1.22" fill="#0000ff"/><circle cx="291.5" cy="108.7" r="1.22" fill="#0000ff"/><circle cx="298.5" cy="191.0" r="1.22" fill="#0000ff"/><circle cx="281.1" cy="227.0" r="1.22" fill="#0000ff"/><circle cx="296.3" cy="101.6" r="1.22" fill="#0000ff"/><circle cx="300.8" cy="179.9" r="1.22" fill="#0000ff"/><circle cx="283.0" cy="181.4" r="1.22" fill="#0000ff"/><circle cx="283.1" cy="213.6" r="1.22" fill="#0000ff"/><circle cx="285.6" cy="159.1" r="1.22" fill="#0000ff"/><circle cx="286.2" cy="188.5" r="1.22" fill="#0000ff"/><circle cx="294.8" cy="184.7" r="1.22" fill="#0000ff"/><circle cx="295.7" cy="174.6" r="1.22" fill="#0000ff"/><circle cx="289.0" cy="160.8" r="1.22" fill="#0000ff"/><circle cx="292.3" cy="173.4" r="1.22" fill="#0000ff"/><circle cx="293.7" cy="195.9" r="1.22" fill="#0000ff"/><circle cx="281.1" cy="195.7" r="1.22" fill="#0000ff"/><circle cx="291.8" cy="89.8" r="1.22" fill="#0000ff"/><circle cx="292.8" cy="156.8" r="1.22" fill="#0000ff"/><circle cx="284.8" cy="225.5" r="1.22" fill="#0000ff"/><circle cx="296.6" cy="204.9" r="1.22" fill="#0000ff"/><circle cx="301.0" cy="215.6" r="1.22" fill="#0000ff"/><circle cx="290.4" cy="114.7" r="1.22" fill="#0000ff"/><circle cx="296.6" cy="215.0" r="1.22" fill="#0000ff"/><circle cx="290.6" cy="120.1" r="1.22" fill="#0000ff"/><circle cx="294.1" cy="203.3" r="1.22" fill="#0000ff"/><circle cx="291.7" cy="113.0" r="1.22" fill="#0000ff"/><circle cx="286.1" cy="166.3" r="1.22" fill="#0000ff"/><circle cx="297.3" cy="204.8" r="1.22" fill="#0000ff"/><circle cx="298.7" cy="68.3" r="1.22" fill="#0000ff"/><circle cx="295.1" cy="214.9" r="1.22" fill="#0000ff"/><circle cx="296.9" cy="139.5" r="1.22" fill="#0000ff"/><circle cx="270.3" cy="177.2" r="1.22" fill="#0000ff"/><circle cx="289.8" cy="106.2" r="1.22" fill="#0000ff"/><circle cx="294.9" cy="216.6" r="1.22" fill="#0000ff"/><circle cx="278.6" cy="146.8" r="1.22" fill="#0000ff"/><circle cx="295.8" cy="130.9" r="1.22" fill="#0000ff"/><circle cx="294.5" cy="174.9" r="1.22" fill="#0000ff"/><circle cx="297.9" cy="101.0" r="1.22" fill="#0000ff"/><circle cx="292.6" cy="90.3" r="1.22" fill="#0000ff"/><circle cx="295.6" cy="226.0" r="1.22" fill="#0000ff"/><circle cx="294.1" cy="233.8" r="1.22" fill="#0000ff"/><circle cx="296.6" cy="195.6" r="1.22" fill="#0000ff"/><circle cx="293.3" cy="94.0" r="1.22" fill="#0000ff"/><circle cx="291.6" cy="145.7" r="1.22" fill="#0000ff"/><circle cx="294.7" cy="159.4" r="1.22" fill="#0000ff"/><circle cx="300.0" cy="132.1" r="1.22" fill="#0000ff"/><circle cx="288.9" cy="121.1" r="1.22" fill="#0000ff"/><circle cx="296.6" cy="121.3" r="1.22" fill="#0000ff"/><circle cx="288.0" cy="224.9" r="1.22" fill="#0000ff"/><circle cx="296.9" cy="196.7" r="1.22" fill="#0000ff"/><circle cx="300.0" cy="144.8" r="1.22" fill="#0000ff"/><circle cx="296.9" cy="148.5" r="1.22" fill="#0000ff"/><circle cx="283.6" cy="185.8" r="1.22" fill="#0000ff"/><circle cx="295.0" cy="143.5" r="1.22" fill="#0000ff"/><circle cx="296.4" cy="145.0" r="1.22" fill="#0000ff"/><circle cx="287.7" cy="208.3" r="1.22" fill="#0000ff"/><circle cx="295.8" cy="83.7" r="1.22" fill="#0000ff"/><circle cx="292.4" cy="81.2" r="1.22" fill="#0000ff"/><circle cx="287.7" cy="185.3" r="1.22" fill="#0000ff"/><circle cx="282.7" cy="219.7" r="1.22" fill="#0000ff"/><circle cx="299.0" cy="153.2" r="1.22" fill="#0000ff"/><circle cx="294.3" cy="152.5" r="1.22" fill="#0000ff"/><circle cx="284.9" cy="230.2" r="1.22" fill="#0000ff"/><circle cx="291.8" cy="233.4" r="1.22" fill="#0000ff"/><circle cx="285.8" cy="190.2" r="1.22" fill="#0000ff"/><circle cx="292.2" cy="76.0" r="1.22" fill="#0000ff"/><circle cx="293.7" cy="108.4" r="1.22" fill="#0000ff"/><circle cx="295.7" cy="106.7" r="1.22" fill="#0000ff"/><circle cx="288.6" cy="196.5" r="1.22" fill="#0000ff"/><circle cx="291.2" cy="98.2" r="1.22" fill="#0000ff"/><circle cx="290.7" cy="115.2" r="1.22" fill="#0000ff"/><circle cx="291.2" cy="194.8" r="1.22" fill="#0000ff"/><circle cx="295.8" cy="62.0" r="1.22" fill="#0000ff"/><circle cx="288.8" cy="226.5" r="1.22" fill="#0000ff"/><circle cx="299.6" cy="164.2" r="1.22" fill="#0000ff"/><circle cx="298.2" cy="86.4" r="1.22" fill="#0000ff"/><circle cx="292.0" cy="89.3" r="1.22" fill="#0000ff"/><circle cx="287.8" cy="90.4" r="1.22" fill="#0000ff"/><circle cx="300.4" cy="201.9" r="1.22" fill="#0000ff"/><circle cx="297.6" cy="143.9" r="1.22" fill="#0000ff"/><circle cx="289.2" cy="167.8" r="1.22" fill="#0000ff"/><circle cx="296.8" cy="212.8" r="1.22" fill="#0000ff"/><circle cx="294.8" cy="230.2" r="1.22" fill="#0000ff"/><circle cx="284.0" cy="142.6" r="1.22" fill="#0000ff"/><circle cx="279.9" cy="143.8" r="1.22" fill="#0000ff"/><circle cx="276.4" cy="208.0" r="1.22" fill="#0000ff"/><circle cx="298.3" cy="192.0" r="1.22" fill="#0000ff"/><circle cx="300.8" cy="86.2" r="1.22" fill="#0000ff"/><circle cx="298.8" cy="229.6" r="1.22" fill="#0000ff"/><circle cx="297.2" cy="144.3" r="1.22" fill="#0000ff"/><circle cx="294.0" cy="116.6" r="1.22" fill="#0000ff"/><circle cx="296.5" cy="156.5" r="1.22" fill="#0000ff"/><circle cx="287.1" cy="218.1" r="1.22" fill="#0000ff"/><circle cx="294.7" cy="220.6" r="1.22" fill="#0000ff"/><circle cx="300.7" cy="123.7" r="1.22" fill="#0000ff"/><circle cx="291.3" cy="146.5" r="1.22" fill="#0000ff"/><circle cx="298.2" cy="134.3" r="1.22" fill="#0000ff"/><circle cx="299.6" cy="210.6" r="1.22" fill="#0000ff"/><circle cx="294.9" cy="162.9" r="1.22" fill="#0000ff"/><circle cx="297.9" cy="83.7" r="1.22" fill="#0000ff"/><circle cx="299.2" cy="126.4" r="1.22" fill="#0000ff"/><circle cx="273.8" cy="156.2" r="1.22" fill="#0000ff"/><circle cx="269.3" cy="229.7" r="1.22" fill="#0000ff"/><circle cx="278.8" cy="228.9" r="1.22" fill="#0000ff"/><circle cx="296.2" cy="174.1" r="1.22" fill="#0000ff"/><circle cx="286.4" cy="172.8" r="1.22" fill="#0000ff"/><circle cx="301.1" cy="157.9" r="1.22" fill="#0000ff"/><circle cx="298.6" cy="82.2" r="1.22" fill="#0000ff"/><circle cx="284.8" cy="118.3" r="1.22" fill="#0000ff"/><circle cx="292.1" cy="141.9" r="1.22" fill="#0000ff"/><circle cx="271.0" cy="187.0" r="1.22" fill="#0000ff"/><circle cx="299.4" cy="128.9" r="1.22" fill="#0000ff"/><circle cx="298.5" cy="208.1" r="1.22" fill="#0000ff"/><circle cx="296.9" cy="199.8" r="1.22" fill="#0000ff"/><circle cx="286.4" cy="178.4" r="1.22" fill="#0000ff"/><circle cx="296.7" cy="64.1" r="1.22" fill="#0000ff"/><circle cx="281.0" cy="198.1" r="1.22" fill="#0000ff"/><circle cx="300.6" cy="144.6" r="1.22" fill="#0000ff"/><circle cx="279.9" cy="232.2" r="1.22" fill="#0000ff"/><circle cx="293.0" cy="148.4" r="1.22" fill="#0000ff"/><circle cx="296.6" cy="137.7" r="1.22" fill="#0000ff"/><circle cx="299.3" cy="127.4" r="1.22" fill="#0000ff"/><circle cx="295.5" cy="77.2" r="1.22" fill="#0000ff"/><circle cx="287.0" cy="166.2" r="1.22" fill="#0000ff"/><circle cx="291.3" cy="88.0" r="1.22" fill="#0000ff"/><circle cx="296.3" cy="223.3" r="1.22" fill="#0000ff"/><circle cx="298.4" cy="144.0" r="1.22" fill="#0000ff"/><circle cx="295.5" cy="216.2" r="1.22" fill="#0000ff"/><circle cx="293.4" cy="66.7" r="1.22" fill="#0000ff"/><circle cx="287.3" cy="224.1" r="1.22" fill="#0000ff"/><circle cx="300.2" cy="188.5" r="1.22" fill="#0000ff"/><circle cx="295.5" cy="196.5" r="1.22" fill="#0000ff"/><circle cx="297.3" cy="172.2" r="1.22" fill="#0000ff"/><circle cx="296.4" cy="132.7" r="1.22" fill="#0000ff"/><circle cx="282.4" cy="161.6" r="1.22" fill="#0000ff"/><circle cx="292.7" cy="134.2" r="1.22" fill="#0000ff"/><circle cx="293.4" cy="155.1" r="1.22" fill="#0000ff"/><circle cx="288.9" cy="111.4" r="1.22" fill="#0000ff"/><circle cx="301.0" cy="194.7" r="1.22" fill="#0000ff"/><circle cx="296.5" cy="208.9" r="1.22" fill="#0000ff"/><circle cx="289.7" cy="192.6" r="1.22" fill="#0000ff"/><circle cx="289.4" cy="231.0" r="1.22" fill="#0000ff"/><circle cx="299.1" cy="151.0" r="1.22" fill="#0000ff"/><circle cx="288.0" cy="84.4" r="1.22" fill="#0000ff"/><circle cx="294.6" cy="212.3" r="1.22" fill="#0000ff"/><circle cx="287.5" cy="166.7" r="1.22" fill="#0000ff"/><circle cx="299.8" cy="95.1" r="1.22" fill="#0000ff"/><circle cx="287.0" cy="83.3" r="1.22" fill="#0000ff"/><circle cx="289.3" cy="108.5" r="1.22" fill="#0000ff"/><circle cx="298.8" cy="88.5" r="1.22" fill="#0000ff"/><circle cx="285.8" cy="171.7" r="1.22" fill="#0000ff"/><circle cx="294.2" cy="135.3" r="1.22" fill="#0000ff"/><circle cx="288.9" cy="192.9" r="1.22" fill="#0000ff"/><circle cx="289.6" cy="117.3" r="1.22" fill="#0000ff"/><circle cx="301.1" cy="63.4" r="1.22" fill="#0000ff"/><circle cx="293.6" cy="115.1" r="1.22" fill="#0000ff"/><circle cx="299.3" cy="155.8" r="1.22" fill="#0000ff"/><circle cx="292.6" cy="159.8" r="1.22" fill="#0000ff"/><circle cx="294.1" cy="96.8" r="1.22" fill="#0000ff"/><circle cx="289.2" cy="165.5" r="1.22" fill="#0000ff"/><circle cx="284.5" cy="164.0" r="1.22" fill="#0000ff"/><circle cx="287.7" cy="116.4" r="1.22" fill="#0000ff"/><circle cx="298.9" cy="225.4" r="1.22" fill="#0000ff"/><circle cx="293.7" cy="150.5" r="1.22" fill="#0000ff"/><circle cx="285.4" cy="194.5" r="1.22" fill="#0000ff"/><circle cx="300.8" cy="132.6" r="1.22" fill="#0000ff"/><circle cx="282.8" cy="227.3" r="1.22" fill="#0000ff"/><circle cx="297.1" cy="77.3" r="1.22" fill="#0000ff"/><circle cx="283.9" cy="84.3" r="1.22" fill="#0000ff"/><circle cx="281.7" cy="125.5" r="1.22" fill="#0000ff"/><circle cx="299.5" cy="74.7" r="1.22" fill="#0000ff"/><circle cx="300.1" cy="169.8" r="1.22" fill="#0000ff"/><circle cx="298.0" cy="187.8" r="1.22" fill="#0000ff"/><circle cx="292.1" cy="78.6" r="1.22" fill="#0000ff"/><circle cx="295.0" cy="101.8" r="1.22" fill="#0000ff"/><circle cx="293.1" cy="104.4" r="1.22" fill="#0000ff"/><circle cx="290.8" cy="144.5" r="1.22" fill="#0000ff"/><circle cx="295.1" cy="167.7" r="1.22" fill="#0000ff"/><circle cx="298.1" cy="168.3" r="1.22" fill="#0000ff"/><circle cx="290.8" cy="190.4" r="1.22" fill="#0000ff"/><circle cx="277.1" cy="231.1" r="1.22" fill="#0000ff"/><circle cx="286.8" cy="225.1" r="1.22" fill="#0000ff"/><circle cx="295.4" cy="156.6" r="1.22" fill="#0000ff"/><circle cx="286.6" cy="176.5" r="1.22" fill="#0000ff"/><circle cx="299.3" cy="80.7" r="1.22" fill="#0000ff"/><circle cx="300.7" cy="86.5" r="1.22" fill="#0000ff"/><circle cx="271.6" cy="228.3" r="1.22" fill="#0000ff"/><circle cx="296.7" cy="188.3" r="1.22" fill="#0000ff"/><circle cx="301.1" cy="171.3" r="1.22" fill="#0000ff"/><circle cx="300.9" cy="76.3" r="1.22" fill="#0000ff"/><circle cx="290.9" cy="231.0" r="1.22" fill="#0000ff"/><circle cx="265.1" cy="132.2" r="1.22" fill="#0000ff"/><circle cx="296.6" cy="116.9" r="1.22" fill="#0000ff"/><circle cx="295.7" cy="162.6" r="1.22" fill="#0000ff"/><circle cx="292.4" cy="111.6" r="1.22" fill="#0000ff"/><circle cx="301.0" cy="100.0" r="1.22" fill="#0000ff"/><circle cx="286.9" cy="202.8" r="1.22" fill="#0000ff"/><circle cx="300.5" cy="112.3" r="1.22" fill="#0000ff"/><circle cx="290.1" cy="115.5" r="1.22" fill="#0000ff"/><circle cx="298.8" cy="101.8" r="1.22" fill="#0000ff"/><circle cx="290.8" cy="194.1" r="1.22" fill="#0000ff"/><circle cx="282.4" cy="203.8" r="1.22" fill="#0000ff"/><circle cx="293.9" cy="113.5" r="1.22" fill="#0000ff"/><circle cx="294.6" cy="144.0" r="1.22" fill="#0000ff"/><circle cx="292.1" cy="221.6" r="1.22" fill="#0000ff"/><circle cx="296.9" cy="139.3" r="1.22" fill="#0000ff"/><circle cx="284.7" cy="130.7" r="1.22" fill="#0000ff"/><circle cx="287.5" cy="138.0" r="1.22" fill="#0000ff"/><circle cx="291.5" cy="154.3" r="1.22" fill="#0000ff"/><circle cx="299.3" cy="61.3" r="1.22" fill="#0000ff"/><circle cx="297.9" cy="222.2" r="1.22" fill="#0000ff"/><circle cx="281.5" cy="106.0" r="1.22" fill="#0000ff"/><circle cx="295.6" cy="131.4" r="1.22" fill="#0000ff"/><circle cx="296.1" cy="93.0" r="1.22" fill="#0000ff"/><circle cx="299.4" cy="91.7" r="1.22" fill="#0000ff"/><circle cx="287.5" cy="217.5" r="1.22" fill="#0000ff"/><circle cx="297.8" cy="136.7" r="1.22" fill="#0000ff"/><circle cx="295.9" cy="118.9" r="1.22" fill="#0000ff"/><circle cx="296.7" cy="132.4" r="1.22" fill="#0000ff"/><circle cx="292.9" cy="125.1" r="1.22" fill="#0000ff"/><circle cx="291.8" cy="164.9" r="1.22" fill="#0000ff"/><circle cx="296.4" cy="199.6" r="1.22" fill="#0000ff"/><circle cx="299.0" cy="109.4" r="1.22" fill="#0000ff"/><circle cx="291.2" cy="125.5" r="1.22" fill="#0000ff"/><circle cx="296.6" cy="96.9" r="1.22" fill="#0000ff"/><circle cx="293.2" cy="169.4" r="1.22" fill="#0000ff"/><circle cx="273.9" cy="151.6" r="1.22" fill="#0000ff"/><circle cx="289.9" cy="212.1" r="1.22" fill="#0000ff"/><circle cx="265.3" cy="231.3" r="1.22" fill="#0000ff"/><circle cx="294.2" cy="199.6" r="1.22" fill="#0000ff"/><circle cx="299.6" cy="99.5" r="1.22" fill="#0000ff"/><circle cx="295.8" cy="107.2" r="1.22" fill="#0000ff"/><circle cx="282.2" cy="158.2" r="1.22" fill="#0000ff"/><circle cx="292.2" cy="152.5" r="1.22" fill="#0000ff"/><circle cx="300.6" cy="69.5" r="1.22" fill="#0000ff"/><circle cx="285.3" cy="177.4" r="1.22" fill="#0000ff"/><circle cx="298.9" cy="126.9" r="1.22" fill="#0000ff"/><circle cx="287.0" cy="217.7" r="1.22" fill="#0000ff"/><circle cx="294.6" cy="151.7" r="1.22" fill="#0000ff"/><circle cx="277.2" cy="222.0" r="1.22" fill="#0000ff"/><circle cx="291.1" cy="217.4" r="1.22" fill="#0000ff"/><circle cx="299.6" cy="159.8" r="1.22" fill="#0000ff"/><circle cx="294.0" cy="193.7" r="1.22" fill="#0000ff"/><circle cx="292.4" cy="171.8" r="1.22" fill="#0000ff"/><circle cx="299.1" cy="83.2" r="1.22" fill="#0000ff"/><circle cx="279.0" cy="132.3" r="1.22" fill="#0000ff"/><circle cx="300.8" cy="160.6" r="1.22" fill="#0000ff"/><circle cx="300.1" cy="56.6" r="1.22" fill="#0000ff"/><circle cx="286.1" cy="179.5" r="1.22" fill="#0000ff"/><circle cx="290.1" cy="81.6" r="1.22" fill="#0000ff"/><circle cx="299.0" cy="230.2" r="1.22" fill="#0000ff"/><circle cx="297.6" cy="148.8" r="1.22" fill="#0000ff"/><circle cx="292.3" cy="209.6" r="1.22" fill="#0000ff"/><circle cx="291.6" cy="115.4" r="1.22" fill="#0000ff"/><circle cx="300.9" cy="167.3" r="1.22" fill="#0000ff"/><circle cx="296.0" cy="156.6" r="1.22" fill="#0000ff"/><circle cx="281.1" cy="158.8" r="1.22" fill="#0000ff"/><circle cx="293.3" cy="104.2" r="1.22" fill="#0000ff"/><circle cx="279.9" cy="231.4" r="1.22" fill="#0000ff"/><circle cx="296.0" cy="187.8" r="1.22" fill="#0000ff"/><circle cx="278.8" cy="205.4" r="1.22" fill="#0000ff"/><circle cx="300.1" cy="207.4" r="1.22" fill="#0000ff"/><circle cx="285.2" cy="64.2" r="1.22" fill="#0000ff"/><circle cx="284.7" cy="131.6" r="1.22" fill="#0000ff"/><circle cx="282.3" cy="224.8" r="1.22" fill="#0000ff"/><circle cx="284.6" cy="75.5" r="1.22" fill="#0000ff"/><circle cx="277.7" cy="215.8" r="1.22" fill="#0000ff"/><circle cx="299.9" cy="102.1" r="1.22" fill="#0000ff"/><circle cx="267.7" cy="178.1" r="1.22" fill="#0000ff"/><circle cx="282.7" cy="194.2" r="1.22" fill="#0000ff"/><circle cx="285.3" cy="203.0" r="1.22" fill="#0000ff"/><circle cx="292.8" cy="169.5" r="1.22" fill="#0000ff"/><circle cx="292.2" cy="138.8" r="1.22" fill="#0000ff"/><circle cx="299.7" cy="64.2" r="1.22" fill="#0000ff"/><circle cx="293.1" cy="182.9" r="1.22" fill="#0000ff"/><circle cx="297.3" cy="189.2" r="1.22" fill="#0000ff"/><circle cx="294.9" cy="102.4" r="1.22" fill="#0000ff"/><circle cx="287.9" cy="188.0" r="1.22" fill="#0000ff"/><circle cx="274.6" cy="221.7" r="1.22" fill="#0000ff"/><circle cx="278.5" cy="227.6" r="1.22" fill="#0000ff"/><circle cx="297.3" cy="129.8" r="1.22" fill="#0000ff"/><circle cx="279.9" cy="162.0" r="1.22" fill="#0000ff"/><circle cx="296.4" cy="164.1" r="1.22" fill="#0000ff"/><circle cx="296.1" cy="196.9" r="1.22" fill="#0000ff"/><circle cx="289.9" cy="112.9" r="1.22" fill="#0000ff"/><circle cx="289.1" cy="76.8" r="1.22" fill="#0000ff"/><circle cx="288.2" cy="227.1" r="1.22" fill="#0000ff"/><circle cx="300.1" cy="144.0" r="1.22" fill="#0000ff"/><circle cx="285.9" cy="228.6" r="1.22" fill="#0000ff"/><circle cx="300.2" cy="147.1" r="1.22" fill="#0000ff"/><circle cx="286.4" cy="180.9" r="1.22" fill="#0000ff"/><circle cx="291.5" cy="162.8" r="1.22" fill="#0000ff"/><circle cx="289.3" cy="200.1" r="1.22" fill="#0000ff"/><circle cx="291.7" cy="118.8" r="1.22" fill="#0000ff"/><circle cx="299.3" cy="194.2" r="1.22" fill="#0000ff"/><circle cx="283.8" cy="191.0" r="1.22" fill="#0000ff"/><circle cx="275.7" cy="147.0" r="1.22" fill="#0000ff"/><circle cx="294.9" cy="218.3" r="1.22" fill="#0000ff"/><circle cx="298.4" cy="77.1" r="1.22" fill="#0000ff"/><circle cx="293.0" cy="90.0" r="1.22" fill="#0000ff"/><circle cx="287.8" cy="170.2" r="1.22" fill="#0000ff"/><circle cx="291.3" cy="187.2" r="1.22" fill="#0000ff"/><circle cx="299.5" cy="70.9" r="1.22" fill="#0000ff"/><circle cx="297.3" cy="154.0" r="1.22" fill="#0000ff"/><circle cx="297.7" cy="77.5" r="1.22" fill="#0000ff"/><circle cx="299.9" cy="227.8" r="1.22" fill="#0000ff"/><circle cx="288.9" cy="156.1" r="1.22" fill="#0000ff"/><circle cx="280.0" cy="88.3" r="1.22" fill="#0000ff"/><circle cx="292.1" cy="109.0" r="1.22" fill="#0000ff"/><circle cx="300.6" cy="141.3" r="1.22" fill="#0000ff"/><circle cx="298.6" cy="115.9" r="1.22" fill="#0000ff"/><circle cx="290.7" cy="135.6" r="1.22" fill="#0000ff"/><circle cx="293.5" cy="150.5" r="1.22" fill="#0000ff"/><circle cx="294.3" cy="124.5" r="1.22" fill="#0000ff"/><circle cx="292.8" cy="150.9" r="1.22" fill="#0000ff"/><circle cx="293.6" cy="137.3" r="1.22" fill="#0000ff"/><circle cx="284.6" cy="231.1" r="1.22" fill="#0000ff"/><circle cx="290.6" cy="196.3" r="1.22" fill="#0000ff"/><circle cx="291.1" cy="193.7" r="1.22" fill="#0000ff"/><circle cx="288.4" cy="147.5" r="1.22" fill="#0000ff"/><circle cx="277.0" cy="110.0" r="1.22" fill="#0000ff"/><circle cx="294.6" cy="131.3" r="1.22" fill="#0000ff"/><circle cx="300.6" cy="62.3" r="1.22" fill="#0000ff"/><circle cx="292.3" cy="176.6" r="1.22" fill="#0000ff"/><circle cx="293.8" cy="141.2" r="1.22" fill="#0000ff"/><circle cx="285.5" cy="74.3" r="1.22" fill="#0000ff"/><circle cx="288.0" cy="208.4" r="1.22" fill="#0000ff"/><circle cx="291.0" cy="191.9" r="1.22" fill="#0000ff"/><circle cx="301.0" cy="197.2" r="1.22" fill="#0000ff"/><circle cx="283.7" cy="168.3" r="1.22" fill="#0000ff"/><circle cx="298.9" cy="232.6" r="1.22" fill="#0000ff"/><circle cx="290.6" cy="194.1" r="1.22" fill="#0000ff"/><circle cx="290.5" cy="119.1" r="1.22" fill="#0000ff"/><circle cx="299.4" cy="98.3" r="1.22" fill="#0000ff"/><circle cx="295.4" cy="219.1" r="1.22" fill="#0000ff"/><circle cx="283.1" cy="144.9" r="1.22" fill="#0000ff"/><circle cx="266.5" cy="175.4" r="1.22" fill="#0000ff"/><circle cx="294.8" cy="169.6" r="1.22" fill="#0000ff"/><circle cx="293.8" cy="133.3" r="1.22" fill="#0000ff"/><circle cx="296.6" cy="188.8" r="1.22" fill="#0000ff"/><circle cx="299.4" cy="209.5" r="1.22" fill="#0000ff"/><circle cx="286.2" cy="164.4" r="1.22" fill="#0000ff"/><circle cx="296.1" cy="137.1" r="1.22" fill="#0000ff"/><circle cx="292.1" cy="216.0" r="1.22" fill="#0000ff"/><circle cx="298.4" cy="114.5" r="1.22" fill="#0000ff"/><circle cx="297.6" cy="204.3" r="1.22" fill="#0000ff"/><circle cx="300.5" cy="117.3" r="1.22" fill="#0000ff"/><circle cx="298.3" cy="208.1" r="1.22" fill="#0000ff"/><circle cx="298.7" cy="107.1" r="1.22" fill="#0000ff"/><circle cx="289.9" cy="216.9" r="1.22" fill="#0000ff"/><circle cx="283.0" cy="154.0" r="1.22" fill="#0000ff"/><circle cx="293.8" cy="169.7" r="1.22" fill="#0000ff"/><circle cx="297.9" cy="232.6" r="1.22" fill="#0000ff"/><circle cx="289.8" cy="94.8" r="1.22" fill="#0000ff"/><circle cx="284.6" cy="131.2" r="1.22" fill="#0000ff"/><circle cx="290.7" cy="222.3" r="1.22" fill="#0000ff"/><circle cx="299.6" cy="99.2" r="1.22" fill="#0000ff"/><circle cx="292.4" cy="217.5" r="1.22" fill="#0000ff"/><circle cx="299.3" cy="110.1" r="1.22" fill="#0000ff"/><circle cx="289.5" cy="71.0" r="1.22" fill="#0000ff"/><circle cx="291.6" cy="75.0" r="1.22" fill="#0000ff"/><circle cx="295.5" cy="82.8" r="1.22" fill="#0000ff"/><circle cx="285.4" cy="133.3" r="1.22" fill="#0000ff"/><circle cx="292.3" cy="75.0" r="1.22" fill="#0000ff"/><circle cx="298.7" cy="63.6" r="1.22" fill="#0000ff"/><circle cx="292.7" cy="185.0" r="1.22" fill="#0000ff"/><circle cx="298.2" cy="127.9" r="1.22" fill="#0000ff"/><circle cx="288.9" cy="133.8" r="1.22" fill="#0000ff"/><circle cx="301.1" cy="114.3" r="1.22" fill="#0000ff"/><circle cx="299.5" cy="125.7" r="1.22" fill="#0000ff"/><circle cx="295.3" cy="118.1" r="1.22" fill="#0000ff"/><circle cx="291.1" cy="160.2" r="1.22" fill="#0000ff"/><circle cx="287.4" cy="218.1" r="1.22" fill="#0000ff"/><circle cx="288.9" cy="188.9" r="1.22" fill="#0000ff"/><circle cx="289.7" cy="143.8" r="1.22" fill="#0000ff"/><circle cx="300.9" cy="163.0" r="1.22" fill="#0000ff"/><circle cx="300.8" cy="203.5" r="1.22" fill="#0000ff"/><circle cx="297.8" cy="124.0" r="1.22" fill="#0000ff"/><circle cx="299.4" cy="204.7" r="1.22" fill="#0000ff"/><circle cx="292.9" cy="215.4" r="1.22" fill="#0000ff"/><circle cx="300.7" cy="187.5" r="1.22" fill="#0000ff"/><circle cx="290.0" cy="141.1" r="1.22" fill="#0000ff"/><circle cx="279.6" cy="217.2" r="1.22" fill="#0000ff"/><circle cx="293.9" cy="77.9" r="1.22" fill="#0000ff"/><circle cx="289.5" cy="230.3" r="1.22" fill="#0000ff"/><circle cx="300.2" cy="214.4" r="1.22" fill="#0000ff"/><circle cx="298.6" cy="233.1" r="1.22" fill="#0000ff"/><circle cx="301.1" cy="94.4" r="1.22" fill="#0000ff"/><circle cx="275.6" cy="180.7" r="1.22" fill="#0000ff"/><circle cx="291.8" cy="147.6" r="1.22" fill="#0000ff"/><circle cx="295.3" cy="173.2" r="1.22" fill="#0000ff"/><circle cx="288.1" cy="220.1" r="1.22" fill="#0000ff"/><circle cx="293.5" cy="108.2" r="1.22" fill="#0000ff"/><circle cx="298.4" cy="170.9" r="1.22" fill="#0000ff"/><circle cx="298.5" cy="62.6" r="1.22" fill="#0000ff"/><circle cx="296.8" cy="77.5" r="1.22" fill="#0000ff"/><circle cx="297.0" cy="129.9" r="1.22" fill="#0000ff"/><circle cx="299.3" cy="180.3" r="1.22" fill="#0000ff"/><circle cx="301.0" cy="207.4" r="1.22" fill="#0000ff"/><circle cx="298.7" cy="67.5" r="1.22" fill="#0000ff"/><circle cx="296.4" cy="92.7" r="1.22" fill="#0000ff"/><circle cx="300.0" cy="153.9" r="1.22" fill="#0000ff"/><circle cx="298.3" cy="127.7" r="1.22" fill="#0000ff"/><circle cx="294.6" cy="180.0" r="1.22" fill="#0000ff"/><circle cx="286.6" cy="225.2" r="1.22" fill="#0000ff"/><circle cx="296.3" cy="208.8" r="1.22" fill="#0000ff"/><circle cx="269.3" cy="192.4" r="1.22" fill="#0000ff"/><circle cx="300.5" cy="112.6" r="1.22" fill="#0000ff"/><circle cx="293.4" cy="222.6" r="1.22" fill="#0000ff"/><circle cx="298.9" cy="112.1" r="1.22" fill="#0000ff"/><circle cx="282.2" cy="211.9" r="1.22" fill="#0000ff"/><circle cx="299.0" cy="178.9" r="1.22" fill="#0000ff"/><circle cx="288.0" cy="192.7" r="1.22" fill="#0000ff"/><circle cx="297.0" cy="138.7" r="1.22" fill="#0000ff"/><circle cx="285.8" cy="71.5" r="1.22" fill="#0000ff"/><circle cx="300.2" cy="129.2" r="1.22" fill="#0000ff"/><circle cx="295.5" cy="173.3" r="1.22" fill="#0000ff"/><circle cx="289.7" cy="158.3" r="1.22" fill="#0000ff"/><circle cx="294.5" cy="168.9" r="1.22" fill="#0000ff"/><circle cx="289.7" cy="78.8" r="1.22" fill="#0000ff"/><circle cx="287.5" cy="67.3" r="1.22" fill="#0000ff"/><circle cx="296.7" cy="177.6" r="1.22" fill="#0000ff"/><circle cx="279.2" cy="199.4" r="1.22" fill="#0000ff"/><circle cx="296.3" cy="94.3" r="1.22" fill="#0000ff"/><circle cx="289.9" cy="68.5" r="1.22" fill="#0000ff"/><circle cx="290.2" cy="80.8" r="1.22" fill="#0000ff"/><circle cx="298.1" cy="212.1" r="1.22" fill="#0000ff"/><circle cx="300.1" cy="86.7" r="1.22" fill="#0000ff"/><circle cx="297.4" cy="103.1" r="1.22" fill="#0000ff"/><circle cx="289.7" cy="98.5" r="1.22" fill="#0000ff"/><circle cx="292.8" cy="164.1" r="1.22" fill="#0000ff"/><circle cx="289.8" cy="159.6" r="1.22" fill="#0000ff"/><circle cx="293.3" cy="154.1" r="1.22" fill="#0000ff"/><circle cx="296.3" cy="172.5" r="1.22" fill="#0000ff"/><circle cx="293.8" cy="165.1" r="1.22" fill="#0000ff"/><circle cx="292.4" cy="191.3" r="1.22" fill="#0000ff"/><circle cx="291.6" cy="191.1" r="1.22" fill="#0000ff"/><circle cx="299.2" cy="122.5" r="1.22" fill="#0000ff"/><circle cx="294.0" cy="202.9" r="1.22" fill="#0000ff"/><circle cx="298.2" cy="140.4" r="1.22" fill="#0000ff"/><circle cx="280.9" cy="200.1" r="1.22" fill="#0000ff"/><circle cx="298.5" cy="215.0" r="1.22" fill="#0000ff"/><circle cx="289.1" cy="175.3" r="1.22" fill="#0000ff"/><circle cx="290.9" cy="218.6" r="1.22" fill="#0000ff"/><circle cx="294.3" cy="211.1" r="1.22" fill="#0000ff"/><circle cx="299.8" cy="142.1" r="1.22" fill="#0000ff"/><circle cx="290.6" cy="90.8" r="1.22" fill="#0000ff"/><circle cx="296.2" cy="120.1" r="1.22" fill="#0000ff"/><circle cx="279.8" cy="175.5" r="1.22" fill="#0000ff"/><circle cx="292.4" cy="232.6" r="1.22" fill="#0000ff"/><circle cx="294.1" cy="135.5" r="1.22" fill="#0000ff"/><circle cx="285.4" cy="104.6" r="1.22" fill="#0000ff"/><circle cx="283.6" cy="130.9" r="1.22" fill="#0000ff"/><circle cx="297.9" cy="56.7" r="1.22" fill="#0000ff"/><circle cx="281.9" cy="192.5" r="1.22" fill="#0000ff"/><circle cx="298.8" cy="213.7" r="1.22" fill="#0000ff"/><circle cx="294.1" cy="145.1" r="1.22" fill="#0000ff"/><circle cx="294.8" cy="196.4" r="1.22" fill="#0000ff"/><circle cx="294.8" cy="187.8" r="1.22" fill="#0000ff"/><circle cx="278.9" cy="105.5" r="1.22" fill="#0000ff"/><circle cx="318.1" cy="97.2" r="1.22" fill="#ff0000"/><circle cx="312.9" cy="194.8" r="1.22" fill="#ff0000"/><circle cx="313.6" cy="186.1" r="1.22" fill="#ff0000"/><circle cx="311.3" cy="68.0" r="1.22" fill="#ff0000"/><circle cx="325.5" cy="208.9" r="1.22" fill="#ff0000"/><circle cx="318.6" cy="136.7" r="1.22" fill="#ff0000"/><circle cx="310.8" cy="181.0" r="1.22" fill="#ff0000"/><circle cx="313.8" cy="97.2" r="1.22" fill="#ff0000"/><circle cx="321.0" cy="163.5" r="1.22" fill="#ff0000"/><circle cx="317.8" cy="131.8" r="1.22" fill="#ff0000"/><circle cx="317.6" cy="185.6" r="1.22" fill="#ff0000"/><circle cx="316.6" cy="171.6" r="1.22" fill="#ff0000"/><circle cx="313.4" cy="186.5" r="1.22" fill="#ff0000"/><circle cx="322.9" cy="179.6" r="1.22" fill="#ff0000"/><circle cx="311.0" cy="60.3" r="1.22" fill="#ff0000"/><circle cx="320.0" cy="159.9" r="1.22" fill="#ff0000"/><circle cx="316.8" cy="74.0" r="1.22" fill="#ff0000"/><circle cx="318.4" cy="233.1" r="1.22" fill="#ff0000"/><circle cx="321.8" cy="122.0" r="1.22" fill="#ff0000"/><circle cx="310.8" cy="140.6" r="1.22" fill="#ff0000"/><circle cx="316.9" cy="155.7" r="1.22" fill="#ff0000"/><circle cx="312.1" cy="234.4" r="1.22" fill="#ff0000"/><circle cx="313.9" cy="141.4" r="1.22" fill="#ff0000"/><circle cx="313.4" cy="94.6" r="1.22" fill="#ff0000"/><circle cx="316.2" cy="174.8" r="1.22" fill="#ff0000"/><circle cx="312.3" cy="135.9" r="1.22" fill="#ff0000"/><circle cx="346.8" cy="107.5" r="1.22" fill="#ff0000"/><circle cx="320.0" cy="155.5" r="1.22" fill="#ff0000"/><circle cx="332.7" cy="197.6" r="1.22" fill="#ff0000"/><circle cx="320.1" cy="186.2" r="1.22" fill="#ff0000"/><circle cx="312.8" cy="72.0" r="1.22" fill="#ff0000"/><circle cx="311.0" cy="130.2" r="1.22" fill="#ff0000"/><circle cx="312.9" cy="68.4" r="1.22" fill="#ff0000"/><circle cx="311.6" cy="153.4" r="1.22" fill="#ff0000"/><circle cx="313.9" cy="70.5" r="1.22" fill="#ff0000"/><circle cx="314.5" cy="153.4" r="1.22" fill="#ff0000"/><circle cx="315.2" cy="181.3" r="1.22" fill="#ff0000"/><circle cx="315.8" cy="223.5" r="1.22" fill="#ff0000"/><circle cx="315.0" cy="193.7" r="1.22" fill="#ff0000"/><circle cx="318.1" cy="204.5" r="1.22" fill="#ff0000"/><circle cx="310.5" cy="165.9" r="1.22" fill="#ff0000"/><circle cx="317.1" cy="214.9" r="1.22" fill="#ff0000"/><circle cx="312.0" cy="98.6" r="1.22" fill="#ff0000"/><circle cx="321.0" cy="199.1" r="1.22" fill="#ff0000"/><circle cx="316.1" cy="194.3" r="1.22" fill="#ff0000"/><circle cx="323.1" cy="87.9" r="1.22" fill="#ff0000"/><circle cx="321.9" cy="157.7" r="1.22" fill="#ff0000"/><circle cx="318.4" cy="135.3" r="1.22" fill="#ff0000"/><circle cx="328.3" cy="175.3" r="1.22" fill="#ff0000"/><circle cx="320.3" cy="190.5" r="1.22" fill="#ff0000"/><circle cx="318.7" cy="175.8" r="1.22" fill="#ff0000"/><circle cx="315.3" cy="230.1" r="1.22" fill="#ff0000"/><circle cx="315.6" cy="143.3" r="1.22" fill="#ff0000"/><circle cx="319.1" cy="181.9" r="1.22" fill="#ff0000"/><circle cx="322.7" cy="205.2" r="1.22" fill="#ff0000"/><circle cx="314.2" cy="211.7" r="1.22" fill="#ff0000"/><circle cx="318.8" cy="126.6" r="1.22" fill="#ff0000"/><circle cx="312.9" cy="205.0" r="1.22" fill="#ff0000"/><circle cx="315.6" cy="87.7" r="1.22" fill="#ff0000"/><circle cx="315.3" cy="180.5" r="1.22" fill="#ff0000"/><circle cx="313.4" cy="199.1" r="1.22" fill="#ff0000"/><circle cx="315.8" cy="216.8" r="1.22" fill="#ff0000"/><circle cx="311.1" cy="122.1" r="1.22" fill="#ff0000"/><circle cx="319.2" cy="119.8" r="1.22" fill="#ff0000"/><circle cx="312.5" cy="205.6" r="1.22" fill="#ff0000"/><circle cx="332.4" cy="103.2" r="1.22" fill="#ff0000"/><circle cx="336.4" cy="174.9" r="1.22" fill="#ff0000"/><circle cx="316.5" cy="174.2" r="1.22" fill="#ff0000"/><circle cx="318.9" cy="67.7" r="1.22" fill="#ff0000"/><circle cx="324.4" cy="134.5" r="1.22" fill="#ff0000"/><circle cx="320.8" cy="215.3" r="1.22" fill="#ff0000"/><circle cx="317.6" cy="81.6" r="1.22" fill="#ff0000"/><circle cx="317.3" cy="83.2" r="1.22" fill="#ff0000"/><circle cx="313.0" cy="233.3" r="1.22" fill="#ff0000"/><circle cx="311.0" cy="219.6" r="1.22" fill="#ff0000"/><circle cx="320.4" cy="153.8" r="1.22" fill="#ff0000"/><circle cx="318.1" cy="185.3" r="1.22" fill="#ff0000"/><circle cx="311.8" cy="160.8" r="1.22" fill="#ff0000"/><circle cx="313.8" cy="188.4" r="1.22" fill="#ff0000"/><circle cx="320.5" cy="82.1" r="1.22" fill="#ff0000"/><circle cx="314.8" cy="71.1" r="1.22" fill="#ff0000"/><circle cx="311.9" cy="148.1" r="1.22" fill="#ff0000"/><circle cx="311.6" cy="168.8" r="1.22" fill="#ff0000"/><circle cx="317.5" cy="212.0" r="1.22" fill="#ff0000"/><circle cx="319.1" cy="56.3" r="1.22" fill="#ff0000"/><circle cx="316.6" cy="76.7" r="1.22" fill="#ff0000"/><circle cx="314.4" cy="200.5" r="1.22" fill="#ff0000"/><circle cx="316.8" cy="161.7" r="1.22" fill="#ff0000"/><circle cx="311.9" cy="152.1" r="1.22" fill="#ff0000"/><circle cx="312.8" cy="92.1" r="1.22" fill="#ff0000"/><circle cx="331.5" cy="163.7" r="1.22" fill="#ff0000"/><circle cx="310.8" cy="210.5" r="1.22" fill="#ff0000"/><circle cx="314.0" cy="96.6" r="1.22" fill="#ff0000"/><circle cx="311.1" cy="198.6" r="1.22" fill="#ff0000"/><circle cx="314.0" cy="225.5" r="1.22" fill="#ff0000"/><circle cx="312.9" cy="111.0" r="1.22" fill="#ff0000"/><circle cx="315.8" cy="221.5" r="1.22" fill="#ff0000"/><circle cx="314.5" cy="112.9" r="1.22" fill="#ff0000"/><circle cx="318.3" cy="193.1" r="1.22" fill="#ff0000"/><circle cx="313.4" cy="153.0" r="1.22" fill="#ff0000"/><circle cx="311.9" cy="150.9" r="1.22" fill="#ff0000"/><circle cx="316.7" cy="169.2" r="1.22" fill="#ff0000"/><circle cx="311.3" cy="70.5" r="1.22" fill="#ff0000"/><circle cx="311.5" cy="79.1" r="1.22" fill="#ff0000"/><circle cx="317.6" cy="226.2" r="1.22" fill="#ff0000"/><circle cx="311.5" cy="136.1" r="1.22" fill="#ff0000"/><circle cx="313.4" cy="92.0" r="1.22" fill="#ff0000"/><circle cx="322.1" cy="100.2" r="1.22" fill="#ff0000"/><circle cx="311.4" cy="61.8" r="1.22" fill="#ff0000"/><circle cx="332.8" cy="203.9" r="1.22" fill="#ff0000"/><circle cx="311.6" cy="102.7" r="1.22" fill="#ff0000"/><circle cx="320.7" cy="124.3" r="1.22" fill="#ff0000"/><circle cx="311.8" cy="133.7" r="1.22" fill="#ff0000"/><circle cx="316.4" cy="206.8" r="1.22" fill="#ff0000"/><circle cx="314.6" cy="174.6" r="1.22" fill="#ff0000"/><circle cx="312.4" cy="233.3" r="1.22" fill="#ff0000"/><circle cx="313.2" cy="205.9" r="1.22" fill="#ff0000"/><circle cx="318.6" cy="211.1" r="1.22" fill="#ff0000"/><circle cx="315.2" cy="105.7" r="1.22" fill="#ff0000"/><circle cx="315.2" cy="72.0" r="1.22" fill="#ff0000"/><circle cx="318.4" cy="122.4" r="1.22" fill="#ff0000"/><circle cx="317.1" cy="208.2" r="1.22" fill="#ff0000"/><circle cx="312.8" cy="113.7" r="1.22" fill="#ff0000"/><circle cx="318.9" cy="75.1" r="1.22" fill="#ff0000"/><circle cx="317.4" cy="143.6" r="1.22" fill="#ff0000"/><circle cx="341.7" cy="122.2" r="1.22" fill="#ff0000"/><circle cx="315.3" cy="130.3" r="1.22" fill="#ff0000"/><circle cx="315.7" cy="137.6" r="1.22" fill="#ff0000"/><circle cx="314.2" cy="123.5" r="1.22" fill="#ff0000"/><circle cx="321.1" cy="66.2" r="1.22" fill="#ff0000"/><circle cx="312.1" cy="134.6" r="1.22" fill="#ff0000"/><circle cx="330.2" cy="162.5" r="1.22" fill="#ff0000"/><circle cx="317.9" cy="167.5" r="1.22" fill="#ff0000"/><circle cx="322.0" cy="131.7" r="1.22" fill="#ff0000"/><circle cx="310.7" cy="210.6" r="1.22" fill="#ff0000"/><circle cx="319.7" cy="194.0" r="1.22" fill="#ff0000"/><circle cx="312.6" cy="171.1" r="1.22" fill="#ff0000"/><circle cx="323.1" cy="208.1" r="1.22" fill="#ff0000"/><circle cx="314.4" cy="177.0" r="1.22" fill="#ff0000"/><circle cx="323.9" cy="221.2" r="1.22" fill="#ff0000"/><circle cx="311.7" cy="227.1" r="1.22" fill="#ff0000"/><circle cx="310.6" cy="168.6" r="1.22" fill="#ff0000"/><circle cx="319.4" cy="195.5" r="1.22" fill="#ff0000"/><circle cx="330.9" cy="217.6" r="1.22" fill="#ff0000"/><circle cx="311.5" cy="195.2" r="1.22" fill="#ff0000"/><circle cx="314.7" cy="79.5" r="1.22" fill="#ff0000"/><circle cx="326.2" cy="194.9" r="1.22" fill="#ff0000"/><circle cx="313.0" cy="67.3" r="1.22" fill="#ff0000"/><circle cx="335.1" cy="130.7" r="1.22" fill="#ff0000"/><circle cx="319.2" cy="89.2" r="1.22" fill="#ff0000"/><circle cx="314.8" cy="118.9" r="1.22" fill="#ff0000"/><circle cx="314.3" cy="143.3" r="1.22" fill="#ff0000"/><circle cx="325.1" cy="147.5" r="1.22" fill="#ff0000"/><circle cx="317.4" cy="221.1" r="1.22" fill="#ff0000"/><circle cx="318.9" cy="110.4" r="1.22" fill="#ff0000"/><circle cx="313.0" cy="175.5" r="1.22" fill="#ff0000"/><circle cx="314.1" cy="233.3" r="1.22" fill="#ff0000"/><circle cx="310.7" cy="106.7" r="1.22" fill="#ff0000"/><circle cx="311.3" cy="211.3" r="1.22" fill="#ff0000"/><circle cx="316.3" cy="203.2" r="1.22" fill="#ff0000"/><circle cx="347.1" cy="117.1" r="1.22" fill="#ff0000"/><circle cx="314.6" cy="192.6" r="1.22" fill="#ff0000"/><circle cx="316.6" cy="197.2" r="1.22" fill="#ff0000"/><circle cx="310.7" cy="162.4" r="1.22" fill="#ff0000"/><circle cx="320.8" cy="128.2" r="1.22" fill="#ff0000"/><circle cx="323.2" cy="107.1" r="1.22" fill="#ff0000"/><circle cx="324.8" cy="228.8" r="1.22" fill="#ff0000"/><circle cx="317.4" cy="212.5" r="1.22" fill="#ff0000"/><circle cx="313.5" cy="169.1" r="1.22" fill="#ff0000"/><circle cx="336.9" cy="210.9" r="1.22" fill="#ff0000"/><circle cx="321.8" cy="74.7" r="1.22" fill="#ff0000"/><circle cx="311.8" cy="233.2" r="1.22" fill="#ff0000"/><circle cx="312.9" cy="186.3" r="1.22" fill="#ff0000"/><circle cx="323.0" cy="180.7" r="1.22" fill="#ff0000"/><circle cx="313.4" cy="220.0" r="1.22" fill="#ff0000"/><circle cx="316.7" cy="105.9" r="1.22" fill="#ff0000"/><circle cx="310.9" cy="187.1" r="1.22" fill="#ff0000"/><circle cx="310.8" cy="141.1" r="1.22" fill="#ff0000"/><circle cx="318.5" cy="110.1" r="1.22" fill="#ff0000"/><circle cx="316.8" cy="221.9" r="1.22" fill="#ff0000"/><circle cx="316.9" cy="63.5" r="1.22" fill="#ff0000"/><circle cx="318.0" cy="176.6" r="1.22" fill="#ff0000"/><circle cx="312.8" cy="130.9" r="1.22" fill="#ff0000"/><circle cx="312.6" cy="187.1" r="1.22" fill="#ff0000"/><circle cx="317.2" cy="185.1" r="1.22" fill="#ff0000"/><circle cx="329.3" cy="207.1" r="1.22" fill="#ff0000"/><circle cx="340.3" cy="151.6" r="1.22" fill="#ff0000"/><circle cx="315.8" cy="180.5" r="1.22" fill="#ff0000"/><circle cx="313.5" cy="58.0" r="1.22" fill="#ff0000"/><circle cx="322.5" cy="178.4" r="1.22" fill="#ff0000"/><circle cx="318.9" cy="201.1" r="1.22" fill="#ff0000"/><circle cx="311.2" cy="152.1" r="1.22" fill="#ff0000"/><circle cx="311.0" cy="128.5" r="1.22" fill="#ff0000"/><circle cx="312.4" cy="233.4" r="1.22" fill="#ff0000"/><circle cx="318.8" cy="83.3" r="1.22" fill="#ff0000"/><circle cx="316.1" cy="140.6" r="1.22" fill="#ff0000"/><circle cx="315.2" cy="205.5" r="1.22" fill="#ff0000"/><circle cx="316.3" cy="231.2" r="1.22" fill="#ff0000"/><circle cx="311.1" cy="61.5" r="1.22" fill="#ff0000"/><circle cx="320.4" cy="219.4" r="1.22" fill="#ff0000"/><circle cx="311.0" cy="117.6" r="1.22" fill="#ff0000"/><circle cx="312.5" cy="75.7" r="1.22" fill="#ff0000"/><circle cx="324.5" cy="200.7" r="1.22" fill="#ff0000"/><circle cx="310.5" cy="173.6" r="1.22" fill="#ff0000"/><circle cx="312.3" cy="90.6" r="1.22" fill="#ff0000"/><circle cx="311.1" cy="211.2" r="1.22" fill="#ff0000"/><circle cx="314.6" cy="169.2" r="1.22" fill="#ff0000"/><circle cx="319.0" cy="175.2" r="1.22" fill="#ff0000"/><circle cx="311.9" cy="118.1" r="1.22" fill="#ff0000"/><circle cx="315.7" cy="138.9" r="1.22" fill="#ff0000"/><circle cx="314.5" cy="108.4" r="1.22" fill="#ff0000"/><circle cx="318.6" cy="175.6" r="1.22" fill="#ff0000"/><circle cx="326.3" cy="233.2" r="1.22" fill="#ff0000"/><circle cx="312.0" cy="223.2" r="1.22" fill="#ff0000"/><circle cx="315.8" cy="171.6" r="1.22" fill="#ff0000"/><circle cx="316.6" cy="83.7" r="1.22" fill="#ff0000"/><circle cx="344.6" cy="162.7" r="1.22" fill="#ff0000"/><circle cx="316.5" cy="74.5" r="1.22" fill="#ff0000"/><circle cx="312.2" cy="208.0" r="1.22" fill="#ff0000"/><circle cx="311.5" cy="190.1" r="1.22" fill="#ff0000"/><circle cx="311.9" cy="162.6" r="1.22" fill="#ff0000"/><circle cx="313.9" cy="193.3" r="1.22" fill="#ff0000"/><circle cx="316.3" cy="129.1" r="1.22" fill="#ff0000"/><circle cx="313.9" cy="162.5" r="1.22" fill="#ff0000"/><circle cx="316.8" cy="121.5" r="1.22" fill="#ff0000"/><circle cx="319.6" cy="135.7" r="1.22" fill="#ff0000"/><circle cx="310.5" cy="56.4" r="1.22" fill="#ff0000"/><circle cx="350.2" cy="172.7" r="1.22" fill="#ff0000"/><circle cx="325.3" cy="97.5" r="1.22" fill="#ff0000"/><circle cx="318.0" cy="228.1" r="1.22" fill="#ff0000"/><circle cx="311.3" cy="111.4" r="1.22" fill="#ff0000"/><circle cx="311.7" cy="157.3" r="1.22" fill="#ff0000"/><circle cx="315.2" cy="136.0" r="1.22" fill="#ff0000"/><circle cx="334.7" cy="163.6" r="1.22" fill="#ff0000"/><circle cx="311.6" cy="66.2" r="1.22" fill="#ff0000"/><circle cx="312.1" cy="190.4" r="1.22" fill="#ff0000"/><circle cx="311.2" cy="188.1" r="1.22" fill="#ff0000"/><circle cx="314.7" cy="96.0" r="1.22" fill="#ff0000"/><circle cx="313.0" cy="222.3" r="1.22" fill="#ff0000"/><circle cx="310.9" cy="136.1" r="1.22" fill="#ff0000"/><circle cx="321.2" cy="76.1" r="1.22" fill="#ff0000"/><circle cx="318.0" cy="133.4" r="1.22" fill="#ff0000"/><circle cx="318.7" cy="133.9" r="1.22" fill="#ff0000"/><circle cx="318.3" cy="183.6" r="1.22" fill="#ff0000"/><circle cx="334.2" cy="163.9" r="1.22" fill="#ff0000"/><circle cx="314.5" cy="116.9" r="1.22" fill="#ff0000"/><circle cx="310.5" cy="113.4" r="1.22" fill="#ff0000"/><circle cx="311.0" cy="167.1" r="1.22" fill="#ff0000"/><circle cx="312.3" cy="192.3" r="1.22" fill="#ff0000"/><circle cx="314.4" cy="104.7" r="1.22" fill="#ff0000"/><circle cx="318.6" cy="120.4" r="1.22" fill="#ff0000"/><circle cx="321.9" cy="144.4" r="1.22" fill="#ff0000"/><circle cx="317.2" cy="88.5" r="1.22" fill="#ff0000"/><circle cx="321.6" cy="139.7" r="1.22" fill="#ff0000"/><circle cx="314.2" cy="98.9" r="1.22" fill="#ff0000"/><circle cx="311.6" cy="57.8" r="1.22" fill="#ff0000"/><circle cx="315.3" cy="80.1" r="1.22" fill="#ff0000"/><circle cx="314.4" cy="87.1" r="1.22" fill="#ff0000"/><circle cx="317.3" cy="92.0" r="1.22" fill="#ff0000"/><circle cx="316.8" cy="205.4" r="1.22" fill="#ff0000"/><circle cx="314.5" cy="92.0" r="1.22" fill="#ff0000"/><circle cx="315.2" cy="65.8" r="1.22" fill="#ff0000"/><circle cx="327.1" cy="187.2" r="1.22" fill="#ff0000"/><circle cx="311.7" cy="210.4" r="1.22" fill="#ff0000"/><circle cx="311.9" cy="206.1" r="1.22" fill="#ff0000"/><circle cx="312.6" cy="199.9" r="1.22" fill="#ff0000"/><circle cx="325.9" cy="232.5" r="1.22" fill="#ff0000"/><circle cx="317.5" cy="230.0" r="1.22" fill="#ff0000"/><circle cx="311.9" cy="217.5" r="1.22" fill="#ff0000"/><circle cx="317.8" cy="75.2" r="1.22" fill="#ff0000"/><circle cx="317.0" cy="227.7" r="1.22" fill="#ff0000"/><circle cx="316.0" cy="75.7" r="1.22" fill="#ff0000"/><circle cx="314.1" cy="79.3" r="1.22" fill="#ff0000"/><circle cx="322.5" cy="213.2" r="1.22" fill="#ff0000"/><circle cx="314.8" cy="148.5" r="1.22" fill="#ff0000"/><circle cx="318.9" cy="142.9" r="1.22" fill="#ff0000"/><circle cx="314.6" cy="151.4" r="1.22" fill="#ff0000"/><circle cx="312.3" cy="145.8" r="1.22" fill="#ff0000"/><circle cx="317.2" cy="209.3" r="1.22" fill="#ff0000"/><circle cx="315.9" cy="96.7" r="1.22" fill="#ff0000"/><circle cx="317.3" cy="211.1" r="1.22" fill="#ff0000"/><circle cx="316.4" cy="71.3" r="1.22" fill="#ff0000"/><circle cx="318.9" cy="146.9" r="1.22" fill="#ff0000"/><circle cx="316.9" cy="116.3" r="1.22" fill="#ff0000"/><circle cx="314.9" cy="167.9" r="1.22" fill="#ff0000"/><circle cx="326.2" cy="105.8" r="1.22" fill="#ff0000"/><circle cx="312.7" cy="206.3" r="1.22" fill="#ff0000"/><circle cx="339.3" cy="95.5" r="1.22" fill="#ff0000"/><circle cx="319.1" cy="113.9" r="1.22" fill="#ff0000"/><circle cx="315.9" cy="120.1" r="1.22" fill="#ff0000"/><circle cx="311.1" cy="121.9" r="1.22" fill="#ff0000"/><circle cx="325.7" cy="186.7" r="1.22" fill="#ff0000"/><circle cx="314.8" cy="132.0" r="1.22" fill="#ff0000"/><circle cx="313.3" cy="181.8" r="1.22" fill="#ff0000"/><circle cx="318.4" cy="86.9" r="1.22" fill="#ff0000"/><circle cx="313.1" cy="83.9" r="1.22" fill="#ff0000"/><circle cx="311.2" cy="93.1" r="1.22" fill="#ff0000"/><circle cx="318.2" cy="224.8" r="1.22" fill="#ff0000"/><circle cx="325.4" cy="210.4" r="1.22" fill="#ff0000"/><circle cx="320.9" cy="178.0" r="1.22" fill="#ff0000"/><circle cx="314.8" cy="128.1" r="1.22" fill="#ff0000"/><circle cx="312.8" cy="181.1" r="1.22" fill="#ff0000"/><circle cx="317.7" cy="193.2" r="1.22" fill="#ff0000"/><circle cx="311.5" cy="147.3" r="1.22" fill="#ff0000"/><circle cx="317.6" cy="166.0" r="1.22" fill="#ff0000"/><circle cx="316.3" cy="186.7" r="1.22" fill="#ff0000"/><circle cx="315.9" cy="166.9" r="1.22" fill="#ff0000"/><circle cx="316.6" cy="218.1" r="1.22" fill="#ff0000"/><circle cx="317.3" cy="122.6" r="1.22" fill="#ff0000"/><circle cx="311.1" cy="100.5" r="1.22" fill="#ff0000"/><circle cx="311.1" cy="80.5" r="1.22" fill="#ff0000"/><circle cx="319.7" cy="103.6" r="1.22" fill="#ff0000"/><circle cx="316.4" cy="162.2" r="1.22" fill="#ff0000"/><circle cx="318.3" cy="178.3" r="1.22" fill="#ff0000"/><circle cx="321.4" cy="176.4" r="1.22" fill="#ff0000"/><circle cx="312.5" cy="107.9" r="1.22" fill="#ff0000"/><circle cx="317.3" cy="172.1" r="1.22" fill="#ff0000"/><circle cx="317.0" cy="200.5" r="1.22" fill="#ff0000"/><circle cx="311.4" cy="136.7" r="1.22" fill="#ff0000"/><circle cx="319.8" cy="102.0" r="1.22" fill="#ff0000"/><circle cx="322.2" cy="231.9" r="1.22" fill="#ff0000"/><circle cx="311.0" cy="138.8" r="1.22" fill="#ff0000"/><circle cx="311.8" cy="62.5" r="1.22" fill="#ff0000"/><circle cx="321.1" cy="202.7" r="1.22" fill="#ff0000"/><circle cx="316.9" cy="196.5" r="1.22" fill="#ff0000"/><circle cx="317.5" cy="185.0" r="1.22" fill="#ff0000"/><circle cx="312.1" cy="81.7" r="1.22" fill="#ff0000"/><circle cx="318.9" cy="230.2" r="1.22" fill="#ff0000"/><circle cx="312.6" cy="98.1" r="1.22" fill="#ff0000"/><circle cx="314.2" cy="218.4" r="1.22" fill="#ff0000"/><circle cx="336.3" cy="191.9" r="1.22" fill="#ff0000"/><circle cx="312.4" cy="81.3" r="1.22" fill="#ff0000"/><circle cx="315.1" cy="58.5" r="1.22" fill="#ff0000"/><circle cx="314.8" cy="180.4" r="1.22" fill="#ff0000"/><circle cx="321.4" cy="97.6" r="1.22" fill="#ff0000"/><circle cx="314.5" cy="87.0" r="1.22" fill="#ff0000"/><circle cx="312.9" cy="153.6" r="1.22" fill="#ff0000"/><circle cx="318.8" cy="128.0" r="1.22" fill="#ff0000"/><circle cx="324.5" cy="174.3" r="1.22" fill="#ff0000"/><circle cx="313.5" cy="70.9" r="1.22" fill="#ff0000"/><circle cx="313.1" cy="156.3" r="1.22" fill="#ff0000"/><circle cx="314.6" cy="147.9" r="1.22" fill="#ff0000"/><circle cx="316.5" cy="174.7" r="1.22" fill="#ff0000"/><circle cx="316.6" cy="204.6" r="1.22" fill="#ff0000"/><circle cx="315.7" cy="112.1" r="1.22" fill="#ff0000"/><circle cx="312.0" cy="115.4" r="1.22" fill="#ff0000"/><circle cx="310.9" cy="147.8" r="1.22" fill="#ff0000"/><circle cx="322.8" cy="117.3" r="1.22" fill="#ff0000"/><circle cx="317.7" cy="148.1" r="1.22" fill="#ff0000"/><circle cx="314.5" cy="166.1" r="1.22" fill="#ff0000"/><circle cx="331.2" cy="227.3" r="1.22" fill="#ff0000"/><circle cx="333.3" cy="61.9" r="1.22" fill="#ff0000"/><circle cx="315.3" cy="208.0" r="1.22" fill="#ff0000"/><circle cx="311.2" cy="157.5" r="1.22" fill="#ff0000"/><circle cx="312.1" cy="63.3" r="1.22" fill="#ff0000"/><circle cx="310.6" cy="126.6" r="1.22" fill="#ff0000"/><circle cx="317.3" cy="230.0" r="1.22" fill="#ff0000"/><circle cx="319.2" cy="221.5" r="1.22" fill="#ff0000"/><circle cx="313.3" cy="112.6" r="1.22" fill="#ff0000"/><circle cx="310.9" cy="223.6" r="1.22" fill="#ff0000"/><circle cx="312.0" cy="104.9" r="1.22" fill="#ff0000"/><circle cx="321.0" cy="172.5" r="1.22" fill="#ff0000"/><circle cx="319.8" cy="112.9" r="1.22" fill="#ff0000"/><circle cx="310.7" cy="110.2" r="1.22" fill="#ff0000"/><circle cx="317.0" cy="172.2" r="1.22" fill="#ff0000"/><circle cx="310.6" cy="234.0" r="1.22" fill="#ff0000"/><circle cx="319.2" cy="159.9" r="1.22" fill="#ff0000"/><circle cx="320.7" cy="84.6" r="1.22" fill="#ff0000"/><circle cx="311.8" cy="80.2" r="1.22" fill="#ff0000"/><circle cx="316.2" cy="200.3" r="1.22" fill="#ff0000"/><circle cx="318.5" cy="94.2" r="1.22" fill="#ff0000"/><circle cx="310.7" cy="149.2" r="1.22" fill="#ff0000"/><circle cx="311.7" cy="190.5" r="1.22" fill="#ff0000"/><circle cx="320.8" cy="202.2" r="1.22" fill="#ff0000"/><circle cx="313.3" cy="90.1" r="1.22" fill="#ff0000"/><circle cx="317.8" cy="120.9" r="1.22" fill="#ff0000"/><circle cx="317.4" cy="147.2" r="1.22" fill="#ff0000"/><circle cx="313.3" cy="200.5" r="1.22" fill="#ff0000"/><circle cx="318.6" cy="141.4" r="1.22" fill="#ff0000"/><circle cx="324.8" cy="188.2" r="1.22" fill="#ff0000"/><circle cx="319.9" cy="162.4" r="1.22" fill="#ff0000"/><circle cx="315.9" cy="58.8" r="1.22" fill="#ff0000"/><circle cx="311.0" cy="160.3" r="1.22" fill="#ff0000"/><circle cx="315.5" cy="142.1" r="1.22" fill="#ff0000"/><circle cx="313.5" cy="174.0" r="1.22" fill="#ff0000"/><circle cx="318.0" cy="202.8" r="1.22" fill="#ff0000"/><circle cx="310.5" cy="85.0" r="1.22" fill="#ff0000"/><circle cx="317.4" cy="227.0" r="1.22" fill="#ff0000"/><circle cx="313.1" cy="196.0" r="1.22" fill="#ff0000"/><circle cx="312.6" cy="109.1" r="1.22" fill="#ff0000"/><circle cx="315.3" cy="64.8" r="1.22" fill="#ff0000"/><circle cx="311.5" cy="60.9" r="1.22" fill="#ff0000"/><circle cx="310.9" cy="184.3" r="1.22" fill="#ff0000"/><circle cx="312.7" cy="111.3" r="1.22" fill="#ff0000"/><circle cx="324.5" cy="200.3" r="1.22" fill="#ff0000"/><circle cx="311.1" cy="175.0" r="1.22" fill="#ff0000"/><circle cx="316.9" cy="101.9" r="1.22" fill="#ff0000"/><circle cx="318.7" cy="173.8" r="1.22" fill="#ff0000"/><circle cx="315.1" cy="180.1" r="1.22" fill="#ff0000"/><circle cx="317.0" cy="211.5" r="1.22" fill="#ff0000"/><circle cx="317.0" cy="217.2" r="1.22" fill="#ff0000"/><circle cx="322.0" cy="188.5" r="1.22" fill="#ff0000"/><circle cx="316.0" cy="114.1" r="1.22" fill="#ff0000"/><circle cx="315.1" cy="176.4" r="1.22" fill="#ff0000"/><circle cx="310.8" cy="175.6" r="1.22" fill="#ff0000"/><circle cx="316.9" cy="189.6" r="1.22" fill="#ff0000"/><circle cx="316.8" cy="127.2" r="1.22" fill="#ff0000"/><circle cx="312.9" cy="179.6" r="1.22" fill="#ff0000"/><circle cx="313.6" cy="200.4" r="1.22" fill="#ff0000"/><circle cx="328.5" cy="149.8" r="1.22" fill="#ff0000"/><circle cx="314.1" cy="182.5" r="1.22" fill="#ff0000"/><circle cx="317.0" cy="167.6" r="1.22" fill="#ff0000"/><circle cx="332.2" cy="135.3" r="1.22" fill="#ff0000"/><circle cx="320.2" cy="154.4" r="1.22" fill="#ff0000"/><circle cx="324.2" cy="230.6" r="1.22" fill="#ff0000"/><circle cx="346.7" cy="120.1" r="1.22" fill="#ff0000"/><circle cx="317.9" cy="76.4" r="1.22" fill="#ff0000"/><circle cx="314.9" cy="208.8" r="1.22" fill="#ff0000"/><circle cx="315.2" cy="100.5" r="1.22" fill="#ff0000"/><circle cx="314.2" cy="157.6" r="1.22" fill="#ff0000"/><circle cx="313.5" cy="121.9" r="1.22" fill="#ff0000"/><circle cx="313.6" cy="74.0" r="1.22" fill="#ff0000"/><circle cx="325.4" cy="172.3" r="1.22" fill="#ff0000"/><circle cx="319.2" cy="193.5" r="1.22" fill="#ff0000"/><circle cx="313.1" cy="216.1" r="1.22" fill="#ff0000"/><circle cx="319.4" cy="174.4" r="1.22" fill="#ff0000"/><circle cx="325.2" cy="186.8" r="1.22" fill="#ff0000"/><circle cx="312.7" cy="106.0" r="1.22" fill="#ff0000"/><circle cx="315.8" cy="178.9" r="1.22" fill="#ff0000"/><circle cx="312.1" cy="153.4" r="1.22" fill="#ff0000"/><circle cx="313.4" cy="133.1" r="1.22" fill="#ff0000"/><circle cx="319.1" cy="88.0" r="1.22" fill="#ff0000"/><circle cx="323.0" cy="162.4" r="1.22" fill="#ff0000"/><circle cx="319.5" cy="175.8" r="1.22" fill="#ff0000"/><circle cx="317.4" cy="121.3" r="1.22" fill="#ff0000"/><circle cx="320.1" cy="113.4" r="1.22" fill="#ff0000"/><circle cx="310.9" cy="187.4" r="1.22" fill="#ff0000"/><circle cx="314.2" cy="139.0" r="1.22" fill="#ff0000"/><circle cx="313.9" cy="130.1" r="1.22" fill="#ff0000"/><circle cx="315.2" cy="82.4" r="1.22" fill="#ff0000"/><circle cx="326.4" cy="133.5" r="1.22" fill="#ff0000"/><circle cx="320.1" cy="217.0" r="1.22" fill="#ff0000"/><circle cx="317.9" cy="211.3" r="1.22" fill="#ff0000"/><circle cx="316.6" cy="173.3" r="1.22" fill="#ff0000"/><circle cx="311.0" cy="135.3" r="1.22" fill="#ff0000"/><circle cx="311.6" cy="198.3" r="1.22" fill="#ff0000"/><circle cx="315.6" cy="145.4" r="1.22" fill="#ff0000"/><circle cx="317.3" cy="94.3" r="1.22" fill="#ff0000"/><circle cx="323.5" cy="111.7" r="1.22" fill="#ff0000"/><circle cx="319.3" cy="149.8" r="1.22" fill="#ff0000"/><circle cx="313.2" cy="125.7" r="1.22" fill="#ff0000"/><circle cx="314.7" cy="164.0" r="1.22" fill="#ff0000"/><circle cx="321.2" cy="225.9" r="1.22" fill="#ff0000"/><circle cx="320.3" cy="157.5" r="1.22" fill="#ff0000"/><circle cx="318.7" cy="186.1" r="1.22" fill="#ff0000"/><circle cx="311.6" cy="124.5" r="1.22" fill="#ff0000"/><circle cx="327.3" cy="121.4" r="1.22" fill="#ff0000"/><circle cx="312.0" cy="198.9" r="1.22" fill="#ff0000"/><circle cx="313.1" cy="82.5" r="1.22" fill="#ff0000"/><circle cx="312.2" cy="156.8" r="1.22" fill="#ff0000"/><circle cx="318.0" cy="203.0" r="1.22" fill="#ff0000"/><circle cx="311.1" cy="65.7" r="1.22" fill="#ff0000"/><circle cx="316.0" cy="139.7" r="1.22" fill="#ff0000"/><circle cx="315.1" cy="164.8" r="1.22" fill="#ff0000"/><circle cx="334.6" cy="77.9" r="1.22" fill="#ff0000"/><circle cx="323.3" cy="165.5" r="1.22" fill="#ff0000"/><circle cx="315.4" cy="174.7" r="1.22" fill="#ff0000"/><circle cx="319.1" cy="148.8" r="1.22" fill="#ff0000"/><circle cx="317.2" cy="69.7" r="1.22" fill="#ff0000"/><circle cx="318.1" cy="154.9" r="1.22" fill="#ff0000"/><circle cx="312.4" cy="202.5" r="1.22" fill="#ff0000"/><circle cx="324.0" cy="56.7" r="1.22" fill="#ff0000"/><circle cx="315.2" cy="68.2" r="1.22" fill="#ff0000"/><circle cx="317.6" cy="226.0" r="1.22" fill="#ff0000"/><circle cx="328.2" cy="187.2" r="1.22" fill="#ff0000"/><circle cx="314.0" cy="143.1" r="1.22" fill="#ff0000"/><circle cx="312.4" cy="131.6" r="1.22" fill="#ff0000"/><circle cx="318.0" cy="146.3" r="1.22" fill="#ff0000"/><circle cx="311.1" cy="73.1" r="1.22" fill="#ff0000"/><circle cx="314.5" cy="154.4" r="1.22" fill="#ff0000"/><circle cx="312.9" cy="176.0" r="1.22" fill="#ff0000"/><circle cx="327.8" cy="139.4" r="1.22" fill="#ff0000"/><circle cx="321.4" cy="198.4" r="1.22" fill="#ff0000"/><circle cx="311.5" cy="167.5" r="1.22" fill="#ff0000"/><circle cx="311.6" cy="214.3" r="1.22" fill="#ff0000"/><circle cx="313.3" cy="183.8" r="1.22" fill="#ff0000"/><circle cx="318.0" cy="176.9" r="1.22" fill="#ff0000"/><circle cx="310.8" cy="100.7" r="1.22" fill="#ff0000"/><circle cx="321.0" cy="204.4" r="1.22" fill="#ff0000"/><circle cx="313.1" cy="209.8" r="1.22" fill="#ff0000"/><circle cx="313.3" cy="101.0" r="1.22" fill="#ff0000"/><circle cx="317.9" cy="151.7" r="1.22" fill="#ff0000"/><circle cx="311.3" cy="117.7" r="1.22" fill="#ff0000"/><circle cx="312.3" cy="181.6" r="1.22" fill="#ff0000"/><circle cx="316.5" cy="114.9" r="1.22" fill="#ff0000"/><circle cx="314.7" cy="224.0" r="1.22" fill="#ff0000"/><circle cx="310.8" cy="152.6" r="1.22" fill="#ff0000"/><circle cx="315.1" cy="76.8" r="1.22" fill="#ff0000"/><circle cx="320.0" cy="197.4" r="1.22" fill="#ff0000"/><circle cx="316.9" cy="100.0" r="1.22" fill="#ff0000"/><circle cx="316.7" cy="177.9" r="1.22" fill="#ff0000"/><circle cx="316.5" cy="195.1" r="1.22" fill="#ff0000"/><circle cx="314.9" cy="68.7" r="1.22" fill="#ff0000"/><circle cx="326.2" cy="110.7" r="1.22" fill="#ff0000"/><circle cx="312.1" cy="210.7" r="1.22" fill="#ff0000"/><circle cx="329.6" cy="197.8" r="1.22" fill="#ff0000"/><circle cx="314.6" cy="127.5" r="1.22" fill="#ff0000"/><circle cx="311.3" cy="67.9" r="1.22" fill="#ff0000"/><circle cx="334.1" cy="117.9" r="1.22" fill="#ff0000"/><circle cx="319.2" cy="213.3" r="1.22" fill="#ff0000"/><circle cx="314.3" cy="80.4" r="1.22" fill="#ff0000"/><circle cx="310.9" cy="182.2" r="1.22" fill="#ff0000"/><circle cx="320.4" cy="231.1" r="1.22" fill="#ff0000"/><circle cx="312.6" cy="149.3" r="1.22" fill="#ff0000"/><circle cx="321.2" cy="226.0" r="1.22" fill="#ff0000"/><circle cx="311.5" cy="219.5" r="1.22" fill="#ff0000"/><circle cx="311.9" cy="174.7" r="1.22" fill="#ff0000"/><circle cx="312.7" cy="228.7" r="1.22" fill="#ff0000"/><circle cx="320.2" cy="98.6" r="1.22" fill="#ff0000"/><circle cx="311.4" cy="148.0" r="1.22" fill="#ff0000"/><circle cx="317.7" cy="195.4" r="1.22" fill="#ff0000"/><circle cx="315.9" cy="127.5" r="1.22" fill="#ff0000"/><circle cx="323.5" cy="210.6" r="1.22" fill="#ff0000"/><circle cx="314.8" cy="75.2" r="1.22" fill="#ff0000"/><circle cx="312.0" cy="208.8" r="1.22" fill="#ff0000"/><circle cx="311.6" cy="61.6" r="1.22" fill="#ff0000"/><circle cx="311.0" cy="175.4" r="1.22" fill="#ff0000"/><circle cx="326.3" cy="165.2" r="1.22" fill="#ff0000"/><circle cx="313.3" cy="124.6" r="1.22" fill="#ff0000"/><circle cx="315.6" cy="96.0" r="1.22" fill="#ff0000"/><circle cx="317.9" cy="186.1" r="1.22" fill="#ff0000"/><circle cx="310.5" cy="175.6" r="1.22" fill="#ff0000"/><circle cx="315.4" cy="173.6" r="1.22" fill="#ff0000"/><circle cx="330.2" cy="205.1" r="1.22" fill="#ff0000"/><circle cx="322.6" cy="204.1" r="1.22" fill="#ff0000"/><circle cx="313.1" cy="117.7" r="1.22" fill="#ff0000"/><circle cx="312.9" cy="82.6" r="1.22" fill="#ff0000"/><circle cx="313.3" cy="139.3" r="1.22" fill="#ff0000"/><circle cx="317.9" cy="131.1" r="1.22" fill="#ff0000"/><circle cx="318.6" cy="72.4" r="1.22" fill="#ff0000"/><circle cx="313.5" cy="59.4" r="1.22" fill="#ff0000"/><circle cx="327.1" cy="138.1" r="1.22" fill="#ff0000"/><circle cx="314.6" cy="79.3" r="1.22" fill="#ff0000"/><circle cx="321.5" cy="181.9" r="1.22" fill="#ff0000"/><circle cx="316.7" cy="186.7" r="1.22" fill="#ff0000"/><circle cx="318.5" cy="78.9" r="1.22" fill="#ff0000"/><circle cx="329.6" cy="222.4" r="1.22" fill="#ff0000"/><circle cx="320.1" cy="81.9" r="1.22" fill="#ff0000"/><circle cx="311.0" cy="179.8" r="1.22" fill="#ff0000"/><circle cx="315.9" cy="99.1" r="1.22" fill="#ff0000"/><circle cx="313.7" cy="121.8" r="1.22" fill="#ff0000"/><circle cx="312.2" cy="71.5" r="1.22" fill="#ff0000"/><circle cx="313.1" cy="223.4" r="1.22" fill="#ff0000"/><circle cx="315.9" cy="173.7" r="1.22" fill="#ff0000"/><circle cx="313.6" cy="92.7" r="1.22" fill="#ff0000"/><circle cx="311.5" cy="136.6" r="1.22" fill="#ff0000"/><circle cx="312.8" cy="145.5" r="1.22" fill="#ff0000"/><circle cx="313.4" cy="224.7" r="1.22" fill="#ff0000"/><circle cx="315.8" cy="61.6" r="1.22" fill="#ff0000"/><circle cx="317.2" cy="76.8" r="1.22" fill="#ff0000"/><circle cx="310.8" cy="107.4" r="1.22" fill="#ff0000"/><circle cx="322.0" cy="125.9" r="1.22" fill="#ff0000"/><circle cx="314.7" cy="149.8" r="1.22" fill="#ff0000"/><circle cx="322.0" cy="122.2" r="1.22" fill="#ff0000"/><circle cx="317.9" cy="109.0" r="1.22" fill="#ff0000"/><circle cx="313.8" cy="77.5" r="1.22" fill="#ff0000"/><circle cx="311.3" cy="100.5" r="1.22" fill="#ff0000"/><circle cx="312.4" cy="180.8" r="1.22" fill="#ff0000"/><circle cx="329.2" cy="112.5" r="1.22" fill="#ff0000"/><circle cx="315.6" cy="189.2" r="1.22" fill="#ff0000"/><circle cx="321.5" cy="107.4" r="1.22" fill="#ff0000"/><circle cx="317.0" cy="174.5" r="1.22" fill="#ff0000"/><circle cx="315.9" cy="111.5" r="1.22" fill="#ff0000"/><circle cx="315.6" cy="80.3" r="1.22" fill="#ff0000"/><circle cx="312.1" cy="216.6" r="1.22" fill="#ff0000"/><circle cx="310.8" cy="94.0" r="1.22" fill="#ff0000"/><circle cx="310.9" cy="138.6" r="1.22" fill="#ff0000"/><circle cx="310.5" cy="125.5" r="1.22" fill="#ff0000"/><circle cx="311.7" cy="149.7" r="1.22" fill="#ff0000"/><circle cx="315.8" cy="111.1" r="1.22" fill="#ff0000"/><circle cx="316.6" cy="205.5" r="1.22" fill="#ff0000"/><circle cx="318.1" cy="198.1" r="1.22" fill="#ff0000"/><circle cx="319.0" cy="133.0" r="1.22" fill="#ff0000"/><circle cx="312.5" cy="144.8" r="1.22" fill="#ff0000"/><circle cx="315.6" cy="157.9" r="1.22" fill="#ff0000"/><circle cx="312.1" cy="174.2" r="1.22" fill="#ff0000"/><circle cx="322.2" cy="196.3" r="1.22" fill="#ff0000"/><circle cx="316.0" cy="222.8" r="1.22" fill="#ff0000"/><circle cx="318.0" cy="163.9" r="1.22" fill="#ff0000"/><circle cx="315.9" cy="123.8" r="1.22" fill="#ff0000"/><circle cx="310.4" cy="192.2" r="1.22" fill="#ff0000"/><circle cx="314.1" cy="56.8" r="1.22" fill="#ff0000"/><circle cx="315.6" cy="187.0" r="1.22" fill="#ff0000"/><circle cx="312.8" cy="86.4" r="1.22" fill="#ff0000"/><circle cx="310.9" cy="177.0" r="1.22" fill="#ff0000"/><circle cx="332.7" cy="176.5" r="1.22" fill="#ff0000"/><circle cx="311.4" cy="215.9" r="1.22" fill="#ff0000"/><circle cx="320.0" cy="207.2" r="1.22" fill="#ff0000"/><circle cx="328.4" cy="77.2" r="1.22" fill="#ff0000"/><circle cx="314.3" cy="111.1" r="1.22" fill="#ff0000"/><circle cx="312.7" cy="155.9" r="1.22" fill="#ff0000"/><circle cx="324.1" cy="193.5" r="1.22" fill="#ff0000"/><circle cx="318.2" cy="81.8" r="1.22" fill="#ff0000"/><circle cx="310.5" cy="122.2" r="1.22" fill="#ff0000"/><circle cx="315.7" cy="125.0" r="1.22" fill="#ff0000"/><circle cx="319.6" cy="203.9" r="1.22" fill="#ff0000"/><circle cx="316.5" cy="196.1" r="1.22" fill="#ff0000"/><circle cx="314.2" cy="194.0" r="1.22" fill="#ff0000"/><circle cx="312.7" cy="116.2" r="1.22" fill="#ff0000"/><circle cx="318.8" cy="127.9" r="1.22" fill="#ff0000"/><circle cx="316.7" cy="207.4" r="1.22" fill="#ff0000"/><circle cx="316.0" cy="160.6" r="1.22" fill="#ff0000"/><circle cx="323.7" cy="206.8" r="1.22" fill="#ff0000"/><circle cx="311.0" cy="216.1" r="1.22" fill="#ff0000"/><circle cx="316.8" cy="156.9" r="1.22" fill="#ff0000"/><circle cx="332.5" cy="74.7" r="1.22" fill="#ff0000"/><circle cx="321.4" cy="94.5" r="1.22" fill="#ff0000"/><circle cx="319.7" cy="151.7" r="1.22" fill="#ff0000"/><circle cx="313.5" cy="72.3" r="1.22" fill="#ff0000"/><circle cx="313.1" cy="172.2" r="1.22" fill="#ff0000"/><circle cx="311.9" cy="126.4" r="1.22" fill="#ff0000"/><circle cx="318.7" cy="129.8" r="1.22" fill="#ff0000"/><circle cx="315.8" cy="227.8" r="1.22" fill="#ff0000"/><circle cx="316.3" cy="222.8" r="1.22" fill="#ff0000"/><circle cx="315.5" cy="212.2" r="1.22" fill="#ff0000"/><circle cx="314.3" cy="176.7" r="1.22" fill="#ff0000"/><circle cx="312.5" cy="147.9" r="1.22" fill="#ff0000"/><circle cx="312.6" cy="168.1" r="1.22" fill="#ff0000"/><circle cx="314.9" cy="59.2" r="1.22" fill="#ff0000"/><circle cx="312.3" cy="89.7" r="1.22" fill="#ff0000"/><circle cx="310.7" cy="201.1" r="1.22" fill="#ff0000"/><circle cx="315.2" cy="87.8" r="1.22" fill="#ff0000"/><circle cx="315.3" cy="82.4" r="1.22" fill="#ff0000"/><circle cx="319.3" cy="150.0" r="1.22" fill="#ff0000"/><circle cx="322.6" cy="130.2" r="1.22" fill="#ff0000"/><circle cx="313.2" cy="106.7" r="1.22" fill="#ff0000"/><circle cx="313.4" cy="103.4" r="1.22" fill="#ff0000"/><circle cx="313.9" cy="210.7" r="1.22" fill="#ff0000"/><circle cx="318.0" cy="171.5" r="1.22" fill="#ff0000"/><circle cx="316.8" cy="143.1" r="1.22" fill="#ff0000"/><circle cx="313.8" cy="115.1" r="1.22" fill="#ff0000"/><circle cx="312.1" cy="130.7" r="1.22" fill="#ff0000"/><circle cx="311.2" cy="112.3" r="1.22" fill="#ff0000"/><circle cx="315.2" cy="101.1" r="1.22" fill="#ff0000"/><circle cx="321.4" cy="91.1" r="1.22" fill="#ff0000"/><circle cx="316.5" cy="126.3" r="1.22" fill="#ff0000"/><circle cx="326.1" cy="214.1" r="1.22" fill="#ff0000"/><circle cx="321.0" cy="130.4" r="1.22" fill="#ff0000"/><circle cx="317.6" cy="58.6" r="1.22" fill="#ff0000"/><circle cx="319.2" cy="106.9" r="1.22" fill="#ff0000"/><circle cx="315.2" cy="99.9" r="1.22" fill="#ff0000"/><circle cx="314.6" cy="108.9" r="1.22" fill="#ff0000"/><circle cx="311.1" cy="233.7" r="1.22" fill="#ff0000"/><circle cx="318.3" cy="231.3" r="1.22" fill="#ff0000"/><circle cx="319.3" cy="180.1" r="1.22" fill="#ff0000"/><circle cx="313.0" cy="156.1" r="1.22" fill="#ff0000"/><circle cx="311.6" cy="234.3" r="1.22" fill="#ff0000"/><circle cx="351.0" cy="176.4" r="1.22" fill="#ff0000"/><circle cx="313.2" cy="106.4" r="1.22" fill="#ff0000"/><circle cx="332.5" cy="184.2" r="1.22" fill="#ff0000"/><circle cx="311.8" cy="225.4" r="1.22" fill="#ff0000"/><circle cx="319.0" cy="156.4" r="1.22" fill="#ff0000"/><circle cx="323.2" cy="222.7" r="1.22" fill="#ff0000"/><circle cx="317.5" cy="99.9" r="1.22" fill="#ff0000"/><circle cx="311.2" cy="127.6" r="1.22" fill="#ff0000"/><circle cx="310.7" cy="230.0" r="1.22" fill="#ff0000"/><circle cx="312.4" cy="154.9" r="1.22" fill="#ff0000"/><circle cx="334.5" cy="122.7" r="1.22" fill="#ff0000"/><circle cx="315.0" cy="146.1" r="1.22" fill="#ff0000"/><circle cx="315.4" cy="167.5" r="1.22" fill="#ff0000"/><circle cx="310.8" cy="142.7" r="1.22" fill="#ff0000"/><circle cx="319.5" cy="79.1" r="1.22" fill="#ff0000"/><circle cx="316.3" cy="165.6" r="1.22" fill="#ff0000"/><circle cx="321.3" cy="90.5" r="1.22" fill="#ff0000"/><circle cx="313.8" cy="228.6" r="1.22" fill="#ff0000"/><circle cx="321.6" cy="169.2" r="1.22" fill="#ff0000"/><circle cx="313.6" cy="126.2" r="1.22" fill="#ff0000"/><circle cx="323.2" cy="76.4" r="1.22" fill="#ff0000"/><circle cx="326.5" cy="190.9" r="1.22" fill="#ff0000"/><circle cx="312.6" cy="202.4" r="1.22" fill="#ff0000"/>
<rect x="261.5" y="43.5" width="92.0" height="200.5" fill="none" stroke="#4a4a4a" stroke-width="1"/>
<path d="M280.20 244.0L280.20 246.0M305.30 244.0L305.30 246.0M330.40 244.0L330.40 246.0M259.5 83.94L261.5 83.94M259.5 138.70L261.5 138.70M259.5 193.46L261.5 193.46" stroke="#444" stroke-width="0.8"/>
<circle cx="362.8" cy="144" r="1.2" fill="#0000ff"/>
<circle cx="362.8" cy="158" r="1.2" fill="#ff0000"/>
<line x1="465.20" y1="44.5" x2="465.20" y2="244.5" stroke="#f2f2f2" stroke-width="0.6"/><line x1="496.20" y1="44.5" x2="496.20" y2="244.5" stroke="#f2f2f2" stroke-width="0.6"/><line x1="527.20" y1="44.5" x2="527.20" y2="244.5" stroke="#f2f2f2" stroke-width="0.6"/><line x1="452.5" y1="101.90" x2="548.0" y2="101.90" stroke="#f2f2f2" stroke-width="0.6"/><line x1="452.5" y1="162.50" x2="548.0" y2="162.50" stroke="#f2f2f2" stroke-width="0.6"/><line x1="452.5" y1="223.10" x2="548.0" y2="223.10" stroke="#f2f2f2" stroke-width="0.6"/><line x1="480.70" y1="44.5" x2="480.70" y2="244.5" stroke="#e8e8e8" stroke-width="0.8"/><line x1="511.70" y1="44.5" x2="511.70" y2="244.5" stroke="#e8e8e8" stroke-width="0.8"/><line x1="542.70" y1="44.5" x2="542.70" y2="244.5" stroke="#e8e8e8" stroke-width="0.8"/><line x1="452.5" y1="71.60" x2="548.0" y2="71.60" stroke="#e8e8e8" stroke-width="0.8"/><line x1="452.5" y1="132.20" x2="548.0" y2="132.20" stroke="#e8e8e8" stroke-width="0.8"/><line x1="452.5" y1="192.80" x2="548.0" y2="192.80" stroke="#e8e8e8" stroke-width="0.8"/>
<circle cx="482.3" cy="53.3" r="1.22" fill="#0000ff"/><circle cx="488.4" cy="53.3" r="1.22" fill="#0000ff"/><circle cx="490.5" cy="53.3" r="1.22" fill="#0000ff"/><circle cx="493.0" cy="53.3" r="1.22" fill="#0000ff"/><circle cx="495.5" cy="53.3" r="1.22" fill="#0000ff"/><circle cx="497.5" cy="53.3" r="1.22" fill="#0000ff"/><circle cx="500.0" cy="53.3" r="1.22" fill="#0000ff"/><circle cx="491.4" cy="71.7" r="1.22" fill="#0000ff"/><circle cx="493.2" cy="71.7" r="1.22" fill="#0000ff"/><circle cx="499.7" cy="71.7" r="1.22" fill="#0000ff"/><circle cx="501.2" cy="71.7" r="1.22" fill="#0000ff"/><circle cx="498.9" cy="82.4" r="1.22" fill="#0000ff"/><circle cx="504.1" cy="82.4" r="1.22" fill="#0000ff"/><circle cx="485.0" cy="89.9" r="1.22" fill="#0000ff"/><circle cx="488.8" cy="89.9" r="1.22" fill="#0000ff"/><circle cx="493.4" cy="96.0" r="1.22" fill="#0000ff"/><circle cx="500.9" cy="100.0" r="1.22" fill="#0000ff"/><circle cx="501.1" cy="100.6" r="1.22" fill="#0000ff"/><circle cx="486.2" cy="104.5" r="1.22" fill="#0000ff"/><circle cx="495.7" cy="104.5" r="1.22" fill="#0000ff"/><circle cx="500.3" cy="104.5" r="1.22" fill="#0000ff"/><circle cx="502.3" cy="104.5" r="1.22" fill="#0000ff"/><circle cx="498.5" cy="111.3" r="1.22" fill="#0000ff"/><circle cx="471.5" cy="122.8" r="1.22" fill="#0000ff"/><circle cx="491.0" cy="120.8" r="1.22" fill="#0000ff"/><circle cx="495.0" cy="120.8" r="1.22" fill="#0000ff"/><circle cx="498.3" cy="120.8" r="1.22" fill="#0000ff"/><circle cx="501.9" cy="124.8" r="1.22" fill="#0000ff"/><circle cx="501.3" cy="128.4" r="1.22" fill="#0000ff"/><circle cx="498.1" cy="129.8" r="1.22" fill="#0000ff"/><circle cx="492.8" cy="129.8" r="1.22" fill="#0000ff"/><circle cx="499.3" cy="129.8" r="1.22" fill="#0000ff"/><circle cx="473.1" cy="135.9" r="1.22" fill="#0000ff"/><circle cx="477.8" cy="135.9" r="1.22" fill="#0000ff"/><circle cx="495.3" cy="137.9" r="1.22" fill="#0000ff"/><circle cx="498.1" cy="137.9" r="1.22" fill="#0000ff"/><circle cx="500.3" cy="137.9" r="1.22" fill="#0000ff"/><circle cx="504.9" cy="138.3" r="1.22" fill="#0000ff"/><circle cx="494.3" cy="141.1" r="1.22" fill="#0000ff"/><circle cx="498.7" cy="143.0" r="1.22" fill="#0000ff"/><circle cx="489.6" cy="144.6" r="1.22" fill="#0000ff"/><circle cx="494.5" cy="145.6" r="1.22" fill="#0000ff"/><circle cx="498.1" cy="147.2" r="1.22" fill="#0000ff"/><circle cx="493.4" cy="148.6" r="1.22" fill="#0000ff"/><circle cx="489.8" cy="145.4" r="1.22" fill="#0000ff"/><circle cx="493.7" cy="149.0" r="1.22" fill="#0000ff"/><circle cx="497.7" cy="147.4" r="1.22" fill="#0000ff"/><circle cx="498.1" cy="150.6" r="1.22" fill="#0000ff"/><circle cx="488.4" cy="155.9" r="1.22" fill="#0000ff"/><circle cx="493.2" cy="156.9" r="1.22" fill="#0000ff"/><circle cx="498.7" cy="155.9" r="1.22" fill="#0000ff"/><circle cx="502.1" cy="154.9" r="1.22" fill="#0000ff"/><circle cx="489.8" cy="159.9" r="1.22" fill="#0000ff"/><circle cx="496.7" cy="160.5" r="1.22" fill="#0000ff"/><circle cx="499.3" cy="161.9" r="1.22" fill="#0000ff"/><circle cx="497.7" cy="164.9" r="1.22" fill="#0000ff"/><circle cx="499.7" cy="165.8" r="1.22" fill="#0000ff"/><circle cx="502.3" cy="165.5" r="1.22" fill="#0000ff"/><circle cx="476.3" cy="173.2" r="1.22" fill="#0000ff"/><circle cx="502.7" cy="170.4" r="1.22" fill="#0000ff"/><circle cx="504.1" cy="173.8" r="1.22" fill="#0000ff"/><circle cx="500.7" cy="174.8" r="1.22" fill="#0000ff"/><circle cx="499.7" cy="176.8" r="1.22" fill="#0000ff"/><circle cx="501.7" cy="177.8" r="1.22" fill="#0000ff"/><circle cx="497.7" cy="178.8" r="1.22" fill="#0000ff"/><circle cx="504.7" cy="179.2" r="1.22" fill="#0000ff"/><circle cx="494.7" cy="181.3" r="1.22" fill="#0000ff"/><circle cx="499.7" cy="181.7" r="1.22" fill="#0000ff"/><circle cx="502.7" cy="182.7" r="1.22" fill="#0000ff"/><circle cx="480.8" cy="184.7" r="1.22" fill="#0000ff"/><circle cx="489.8" cy="184.3" r="1.22" fill="#0000ff"/><circle cx="491.8" cy="185.7" r="1.22" fill="#0000ff"/><circle cx="499.3" cy="184.7" r="1.22" fill="#0000ff"/><circle cx="502.7" cy="186.7" r="1.22" fill="#0000ff"/><circle cx="496.7" cy="187.7" r="1.22" fill="#0000ff"/><circle cx="499.7" cy="188.7" r="1.22" fill="#0000ff"/><circle cx="493.7" cy="189.7" r="1.22" fill="#0000ff"/><circle cx="503.7" cy="190.7" r="1.22" fill="#0000ff"/><circle cx="490.8" cy="191.7" r="1.22" fill="#0000ff"/><circle cx="497.7" cy="192.7" r="1.22" fill="#0000ff"/><circle cx="501.7" cy="193.6" r="1.22" fill="#0000ff"/><circle cx="504.7" cy="191.7" r="1.22" fill="#0000ff"/><circle cx="475.9" cy="190.7" r="1.22" fill="#0000ff"/><circle cx="469.5" cy="193.6" r="1.22" fill="#0000ff"/><circle cx="476.9" cy="199.0" r="1.22" fill="#0000ff"/><circle cx="493.7" cy="198.6" r="1.22" fill="#0000ff"/><circle cx="499.7" cy="197.6" r="1.22" fill="#0000ff"/><circle cx="502.7" cy="198.6" r="1.22" fill="#0000ff"/><circle cx="487.8" cy="198.2" r="1.22" fill="#0000ff"/><circle cx="545.0" cy="53.3" r="1.22" fill="#ff0000"/><circle cx="523.7" cy="71.7" r="1.22" fill="#ff0000"/><circle cx="522.6" cy="108.5" r="1.22" fill="#ff0000"/><circle cx="527.1" cy="121.2" r="1.22" fill="#ff0000"/><circle cx="525.6" cy="123.2" r="1.22" fill="#ff0000"/><circle cx="529.1" cy="123.2" r="1.22" fill="#ff0000"/><circle cx="536.9" cy="125.2" r="1.22" fill="#ff0000"/><circle cx="521.6" cy="146.6" r="1.22" fill="#ff0000"/><circle cx="528.3" cy="144.2" r="1.22" fill="#ff0000"/><circle cx="541.5" cy="142.7" r="1.22" fill="#ff0000"/><circle cx="521.6" cy="147.0" r="1.22" fill="#ff0000"/><circle cx="528.5" cy="145.0" r="1.22" fill="#ff0000"/><circle cx="526.6" cy="156.5" r="1.22" fill="#ff0000"/><circle cx="525.2" cy="160.9" r="1.22" fill="#ff0000"/><circle cx="530.5" cy="162.5" r="1.22" fill="#ff0000"/><circle cx="534.5" cy="160.5" r="1.22" fill="#ff0000"/><circle cx="529.1" cy="167.8" r="1.22" fill="#ff0000"/><circle cx="522.0" cy="172.8" r="1.22" fill="#ff0000"/><circle cx="522.8" cy="173.8" r="1.22" fill="#ff0000"/><circle cx="539.5" cy="175.8" r="1.22" fill="#ff0000"/><circle cx="519.2" cy="180.7" r="1.22" fill="#ff0000"/><circle cx="527.1" cy="183.1" r="1.22" fill="#ff0000"/><circle cx="530.5" cy="179.8" r="1.22" fill="#ff0000"/><circle cx="534.5" cy="181.7" r="1.22" fill="#ff0000"/><circle cx="535.9" cy="180.3" r="1.22" fill="#ff0000"/><circle cx="526.6" cy="190.3" r="1.22" fill="#ff0000"/><circle cx="519.2" cy="193.1" r="1.22" fill="#ff0000"/><circle cx="527.1" cy="195.0" r="1.22" fill="#ff0000"/><circle cx="529.5" cy="197.0" r="1.22" fill="#ff0000"/><circle cx="533.1" cy="197.6" r="1.22" fill="#ff0000"/><circle cx="522.0" cy="198.6" r="1.22" fill="#ff0000"/><circle cx="538.5" cy="198.6" r="1.22" fill="#ff0000"/><circle cx="477.3" cy="199.0" r="1.22" fill="#0000ff"/><circle cx="458.9" cy="208.5" r="1.22" fill="#0000ff"/><circle cx="459.6" cy="210.9" r="1.22" fill="#0000ff"/><circle cx="466.8" cy="209.4" r="1.22" fill="#0000ff"/><circle cx="475.5" cy="210.9" r="1.22" fill="#0000ff"/><circle cx="480.9" cy="209.4" r="1.22" fill="#0000ff"/><circle cx="483.6" cy="203.7" r="1.22" fill="#0000ff"/><circle cx="489.0" cy="201.3" r="1.22" fill="#0000ff"/><circle cx="493.5" cy="198.6" r="1.22" fill="#0000ff"/><circle cx="496.2" cy="197.2" r="1.22" fill="#0000ff"/><circle cx="499.8" cy="195.9" r="1.22" fill="#0000ff"/><circle cx="502.5" cy="196.8" r="1.22" fill="#0000ff"/><circle cx="481.8" cy="213.1" r="1.22" fill="#0000ff"/><circle cx="484.5" cy="212.1" r="1.22" fill="#0000ff"/><circle cx="489.0" cy="210.3" r="1.22" fill="#0000ff"/><circle cx="489.9" cy="214.9" r="1.22" fill="#0000ff"/><circle cx="492.6" cy="214.0" r="1.22" fill="#0000ff"/><circle cx="495.3" cy="213.1" r="1.22" fill="#0000ff"/><circle cx="498.9" cy="212.1" r="1.22" fill="#0000ff"/><circle cx="501.6" cy="211.2" r="1.22" fill="#0000ff"/><circle cx="504.3" cy="209.4" r="1.22" fill="#0000ff"/><circle cx="472.8" cy="217.6" r="1.22" fill="#0000ff"/><circle cx="471.5" cy="220.3" r="1.22" fill="#0000ff"/><circle cx="480.9" cy="220.3" r="1.22" fill="#0000ff"/><circle cx="482.7" cy="222.1" r="1.22" fill="#0000ff"/><circle cx="489.0" cy="218.5" r="1.22" fill="#0000ff"/><circle cx="490.8" cy="216.7" r="1.22" fill="#0000ff"/><circle cx="493.5" cy="217.6" r="1.22" fill="#0000ff"/><circle cx="498.9" cy="216.7" r="1.22" fill="#0000ff"/><circle cx="502.5" cy="218.5" r="1.22" fill="#0000ff"/><circle cx="504.3" cy="217.6" r="1.22" fill="#0000ff"/><circle cx="488.1" cy="223.9" r="1.22" fill="#0000ff"/><circle cx="490.8" cy="225.7" r="1.22" fill="#0000ff"/><circle cx="495.3" cy="223.9" r="1.22" fill="#0000ff"/><circle cx="498.0" cy="226.6" r="1.22" fill="#0000ff"/><circle cx="500.7" cy="223.9" r="1.22" fill="#0000ff"/><circle cx="503.4" cy="222.1" r="1.22" fill="#0000ff"/><circle cx="504.3" cy="225.7" r="1.22" fill="#0000ff"/><circle cx="485.4" cy="231.1" r="1.22" fill="#0000ff"/><circle cx="487.2" cy="232.9" r="1.22" fill="#0000ff"/><circle cx="490.8" cy="233.8" r="1.22" fill="#0000ff"/><circle cx="493.5" cy="232.0" r="1.22" fill="#0000ff"/><circle cx="496.2" cy="232.9" r="1.22" fill="#0000ff"/><circle cx="498.9" cy="231.1" r="1.22" fill="#0000ff"/><circle cx="501.6" cy="233.8" r="1.22" fill="#0000ff"/><circle cx="504.3" cy="232.0" r="1.22" fill="#0000ff"/><circle cx="483.6" cy="229.3" r="1.22" fill="#0000ff"/><circle cx="455.6" cy="234.7" r="1.22" fill="#0000ff"/><circle cx="470.1" cy="234.7" r="1.22" fill="#0000ff"/><circle cx="497.1" cy="205.8" r="1.22" fill="#0000ff"/><circle cx="499.8" cy="207.6" r="1.22" fill="#0000ff"/><circle cx="503.4" cy="203.1" r="1.22" fill="#0000ff"/><circle cx="500.7" cy="200.4" r="1.22" fill="#0000ff"/><circle cx="498.0" cy="202.2" r="1.22" fill="#0000ff"/><circle cx="502.9" cy="214.0" r="1.22" fill="#0000ff"/><circle cx="500.4" cy="220.3" r="1.22" fill="#0000ff"/><circle cx="497.1" cy="221.2" r="1.22" fill="#0000ff"/><circle cx="492.6" cy="226.6" r="1.22" fill="#0000ff"/><circle cx="499.3" cy="228.4" r="1.22" fill="#0000ff"/><circle cx="502.5" cy="228.4" r="1.22" fill="#0000ff"/><circle cx="495.3" cy="229.3" r="1.22" fill="#0000ff"/><circle cx="493.2" cy="222.1" r="1.22" fill="#0000ff"/><circle cx="520.6" cy="198.6" r="1.22" fill="#ff0000"/><circle cx="521.5" cy="201.3" r="1.22" fill="#ff0000"/><circle cx="526.0" cy="197.7" r="1.22" fill="#ff0000"/><circle cx="527.8" cy="196.8" r="1.22" fill="#ff0000"/><circle cx="532.3" cy="197.2" r="1.22" fill="#ff0000"/><circle cx="537.7" cy="200.4" r="1.22" fill="#ff0000"/><circle cx="529.6" cy="202.2" r="1.22" fill="#ff0000"/><circle cx="526.0" cy="205.8" r="1.22" fill="#ff0000"/><circle cx="527.8" cy="206.7" r="1.22" fill="#ff0000"/><circle cx="524.2" cy="214.9" r="1.22" fill="#ff0000"/><circle cx="518.8" cy="218.5" r="1.22" fill="#ff0000"/><circle cx="520.6" cy="221.2" r="1.22" fill="#ff0000"/><circle cx="525.6" cy="219.4" r="1.22" fill="#ff0000"/><circle cx="536.8" cy="217.6" r="1.22" fill="#ff0000"/><circle cx="542.3" cy="223.9" r="1.22" fill="#ff0000"/><circle cx="517.9" cy="223.9" r="1.22" fill="#ff0000"/><circle cx="519.7" cy="225.7" r="1.22" fill="#ff0000"/><circle cx="521.5" cy="227.5" r="1.22" fill="#ff0000"/><circle cx="523.3" cy="224.8" r="1.22" fill="#ff0000"/><circle cx="526.0" cy="223.0" r="1.22" fill="#ff0000"/><circle cx="527.8" cy="225.7" r="1.22" fill="#ff0000"/><circle cx="529.6" cy="228.4" r="1.22" fill="#ff0000"/><circle cx="531.4" cy="223.9" r="1.22" fill="#ff0000"/><circle cx="535.0" cy="223.0" r="1.22" fill="#ff0000"/><circle cx="535.9" cy="229.3" r="1.22" fill="#ff0000"/><circle cx="538.6" cy="226.6" r="1.22" fill="#ff0000"/><circle cx="540.4" cy="228.4" r="1.22" fill="#ff0000"/><circle cx="518.8" cy="232.9" r="1.22" fill="#ff0000"/><circle cx="520.6" cy="234.7" r="1.22" fill="#ff0000"/><circle cx="522.4" cy="231.1" r="1.22" fill="#ff0000"/><circle cx="524.2" cy="233.8" r="1.22" fill="#ff0000"/><circle cx="526.0" cy="232.0" r="1.22" fill="#ff0000"/><circle cx="528.7" cy="234.7" r="1.22" fill="#ff0000"/><circle cx="531.4" cy="231.1" r="1.22" fill="#ff0000"/><circle cx="534.1" cy="232.9" r="1.22" fill="#ff0000"/><circle cx="536.8" cy="233.8" r="1.22" fill="#ff0000"/><circle cx="519.1" cy="229.3" r="1.22" fill="#ff0000"/><circle cx="522.8" cy="229.3" r="1.22" fill="#ff0000"/><circle cx="525.1" cy="226.6" r="1.22" fill="#ff0000"/><circle cx="521.5" cy="231.1" r="1.22" fill="#ff0000"/><circle cx="517.0" cy="228.4" r="1.22" fill="#ff0000"/><circle cx="527.5" cy="230.2" r="1.22" fill="#ff0000"/><circle cx="532.9" cy="228.4" r="1.22" fill="#ff0000"/><circle cx="530.0" cy="232.9" r="1.22" fill="#ff0000"/><circle cx="496.7" cy="221.3" r="1.22" fill="#0000ff"/><circle cx="498.3" cy="223.1" r="1.22" fill="#0000ff"/><circle cx="501.2" cy="207.0" r="1.22" fill="#0000ff"/><circle cx="494.2" cy="230.1" r="1.22" fill="#0000ff"/><circle cx="497.0" cy="212.0" r="1.22" fill="#0000ff"/><circle cx="505.4" cy="219.1" r="1.22" fill="#0000ff"/><circle cx="503.6" cy="219.3" r="1.22" fill="#0000ff"/><circle cx="501.3" cy="209.5" r="1.22" fill="#0000ff"/><circle cx="501.3" cy="231.0" r="1.22" fill="#0000ff"/><circle cx="500.0" cy="227.2" r="1.22" fill="#0000ff"/><circle cx="501.7" cy="206.9" r="1.22" fill="#0000ff"/><circle cx="502.7" cy="222.7" r="1.22" fill="#0000ff"/><circle cx="497.5" cy="205.9" r="1.22" fill="#0000ff"/><circle cx="504.0" cy="219.2" r="1.22" fill="#0000ff"/><circle cx="502.3" cy="231.4" r="1.22" fill="#0000ff"/><circle cx="502.2" cy="232.6" r="1.22" fill="#0000ff"/><circle cx="498.5" cy="229.0" r="1.22" fill="#0000ff"/><circle cx="499.1" cy="233.1" r="1.22" fill="#0000ff"/><circle cx="504.1" cy="207.9" r="1.22" fill="#0000ff"/><circle cx="495.6" cy="211.5" r="1.22" fill="#0000ff"/><circle cx="505.1" cy="218.1" r="1.22" fill="#0000ff"/><circle cx="501.2" cy="214.0" r="1.22" fill="#0000ff"/><circle cx="499.8" cy="216.6" r="1.22" fill="#0000ff"/><circle cx="498.0" cy="222.6" r="1.22" fill="#0000ff"/><circle cx="500.7" cy="232.1" r="1.22" fill="#0000ff"/><circle cx="528.4" cy="235.0" r="1.22" fill="#ff0000"/><circle cx="530.9" cy="235.9" r="1.22" fill="#ff0000"/><circle cx="528.2" cy="224.3" r="1.22" fill="#ff0000"/><circle cx="531.0" cy="235.5" r="1.22" fill="#ff0000"/><circle cx="531.6" cy="230.0" r="1.22" fill="#ff0000"/><circle cx="528.9" cy="225.0" r="1.22" fill="#ff0000"/><circle cx="530.6" cy="230.0" r="1.22" fill="#ff0000"/><circle cx="522.6" cy="222.9" r="1.22" fill="#ff0000"/><circle cx="530.9" cy="235.9" r="1.22" fill="#ff0000"/><circle cx="519.8" cy="233.2" r="1.22" fill="#ff0000"/><circle cx="524.5" cy="224.1" r="1.22" fill="#ff0000"/><circle cx="522.8" cy="232.8" r="1.22" fill="#ff0000"/><circle cx="531.2" cy="222.6" r="1.22" fill="#ff0000"/><circle cx="527.4" cy="222.6" r="1.22" fill="#ff0000"/><circle cx="528.9" cy="226.6" r="1.22" fill="#ff0000"/><circle cx="531.3" cy="235.7" r="1.22" fill="#ff0000"/><circle cx="525.8" cy="236.0" r="1.22" fill="#ff0000"/><circle cx="523.0" cy="223.1" r="1.22" fill="#ff0000"/><circle cx="527.2" cy="222.4" r="1.22" fill="#ff0000"/><circle cx="521.4" cy="227.7" r="1.22" fill="#ff0000"/><circle cx="527.4" cy="224.2" r="1.22" fill="#ff0000"/><circle cx="519.1" cy="234.1" r="1.22" fill="#ff0000"/>
<rect x="452.5" y="44.5" width="95.5" height="200.0" fill="none" stroke="#4a4a4a" stroke-width="1"/>
<path d="M480.70 244.5L480.70 246.5M511.70 244.5L511.70 246.5M542.70 244.5L542.70 246.5M450.5 71.60L452.5 71.60M450.5 132.20L452.5 132.20M450.5 192.80L452.5 192.80" stroke="#444" stroke-width="0.8"/>
<circle cx="561.7" cy="144" r="1.2" fill="#0000ff"/>
<circle cx="561.7" cy="158" r="1.2" fill="#ff0000"/>
<line x1="656.91" y1="44.5" x2="656.91" y2="244.5" stroke="#f2f2f2" stroke-width="0.6"/><line x1="682.24" y1="44.5" x2="682.24" y2="244.5" stroke="#f2f2f2" stroke-width="0.6"/><line x1="707.56" y1="44.5" x2="707.56" y2="244.5" stroke="#f2f2f2" stroke-width="0.6"/><line x1="732.89" y1="44.5" x2="732.89" y2="244.5" stroke="#f2f2f2" stroke-width="0.6"/><line x1="647.5" y1="62.78" x2="744.0" y2="62.78" stroke="#f2f2f2" stroke-width="0.6"/><line x1="647.5" y1="116.39" x2="744.0" y2="116.39" stroke="#f2f2f2" stroke-width="0.6"/><line x1="647.5" y1="170.00" x2="744.0" y2="170.00" stroke="#f2f2f2" stroke-width="0.6"/><line x1="647.5" y1="223.61" x2="744.0" y2="223.61" stroke="#f2f2f2" stroke-width="0.6"/><line x1="669.57" y1="44.5" x2="669.57" y2="244.5" stroke="#e8e8e8" stroke-width="0.8"/><line x1="694.90" y1="44.5" x2="694.90" y2="244.5" stroke="#e8e8e8" stroke-width="0.8"/><line x1="720.23" y1="44.5" x2="720.23" y2="244.5" stroke="#e8e8e8" stroke-width="0.8"/><line x1="647.5" y1="89.58" x2="744.0" y2="89.58" stroke="#e8e8e8" stroke-width="0.8"/><line x1="647.5" y1="143.19" x2="744.0" y2="143.19" stroke="#e8e8e8" stroke-width="0.8"/><line x1="647.5" y1="196.80" x2="744.0" y2="196.80" stroke="#e8e8e8" stroke-width="0.8"/>
<circle cx="672.7" cy="53.1" r="1.22" fill="#0000ff"/><circle cx="652.0" cy="96.0" r="1.22" fill="#0000ff"/><circle cx="669.5" cy="123.5" r="1.22" fill="#0000ff"/><circle cx="667.5" cy="130.3" r="1.22" fill="#0000ff"/><circle cx="667.5" cy="137.1" r="1.22" fill="#0000ff"/><circle cx="666.2" cy="140.4" r="1.22" fill="#0000ff"/><circle cx="679.6" cy="137.4" r="1.22" fill="#0000ff"/><circle cx="669.5" cy="145.5" r="1.22" fill="#0000ff"/><circle cx="671.8" cy="145.5" r="1.22" fill="#0000ff"/><circle cx="677.1" cy="149.3" r="1.22" fill="#0000ff"/><circle cx="677.6" cy="153.1" r="1.22" fill="#0000ff"/><circle cx="677.1" cy="157.6" r="1.22" fill="#0000ff"/><circle cx="673.3" cy="165.2" r="1.22" fill="#0000ff"/><circle cx="681.4" cy="167.7" r="1.22" fill="#0000ff"/><circle cx="682.6" cy="166.2" r="1.22" fill="#0000ff"/><circle cx="728.3" cy="53.5" r="1.22" fill="#ff0000"/><circle cx="720.4" cy="71.9" r="1.22" fill="#ff0000"/><circle cx="721.8" cy="86.9" r="1.22" fill="#ff0000"/><circle cx="739.7" cy="91.7" r="1.22" fill="#ff0000"/><circle cx="712.2" cy="119.0" r="1.22" fill="#ff0000"/><circle cx="723.5" cy="119.0" r="1.22" fill="#ff0000"/><circle cx="729.9" cy="117.2" r="1.22" fill="#ff0000"/><circle cx="725.1" cy="129.8" r="1.22" fill="#ff0000"/><circle cx="718.0" cy="139.9" r="1.22" fill="#ff0000"/><circle cx="717.0" cy="145.5" r="1.22" fill="#ff0000"/><circle cx="726.8" cy="153.1" r="1.22" fill="#ff0000"/><circle cx="733.1" cy="164.4" r="1.22" fill="#ff0000"/><circle cx="711.2" cy="168.2" r="1.22" fill="#ff0000"/><circle cx="729.4" cy="168.2" r="1.22" fill="#ff0000"/><circle cx="673.1" cy="165.4" r="1.22" fill="#0000ff"/><circle cx="681.2" cy="167.6" r="1.22" fill="#0000ff"/><circle cx="682.6" cy="166.3" r="1.22" fill="#0000ff"/><circle cx="669.1" cy="178.4" r="1.22" fill="#0000ff"/><circle cx="671.6" cy="177.7" r="1.22" fill="#0000ff"/><circle cx="679.9" cy="176.6" r="1.22" fill="#0000ff"/><circle cx="677.0" cy="182.6" r="1.22" fill="#0000ff"/><circle cx="679.9" cy="181.1" r="1.22" fill="#0000ff"/><circle cx="665.5" cy="189.8" r="1.22" fill="#0000ff"/><circle cx="676.3" cy="189.8" r="1.22" fill="#0000ff"/><circle cx="675.8" cy="193.0" r="1.22" fill="#0000ff"/><circle cx="685.3" cy="189.8" r="1.22" fill="#0000ff"/><circle cx="672.2" cy="195.2" r="1.22" fill="#0000ff"/><circle cx="674.9" cy="196.6" r="1.22" fill="#0000ff"/><circle cx="679.9" cy="200.6" r="1.22" fill="#0000ff"/><circle cx="683.9" cy="200.6" r="1.22" fill="#0000ff"/><circle cx="674.9" cy="202.4" r="1.22" fill="#0000ff"/><circle cx="670.4" cy="203.3" r="1.22" fill="#0000ff"/><circle cx="675.8" cy="204.2" r="1.22" fill="#0000ff"/><circle cx="677.6" cy="203.3" r="1.22" fill="#0000ff"/><circle cx="667.7" cy="204.8" r="1.22" fill="#0000ff"/><circle cx="680.3" cy="205.1" r="1.22" fill="#0000ff"/><circle cx="684.8" cy="206.0" r="1.22" fill="#0000ff"/><circle cx="673.1" cy="206.9" r="1.22" fill="#0000ff"/><circle cx="676.7" cy="207.3" r="1.22" fill="#0000ff"/><circle cx="679.4" cy="207.8" r="1.22" fill="#0000ff"/><circle cx="671.3" cy="208.7" r="1.22" fill="#0000ff"/><circle cx="684.8" cy="208.4" r="1.22" fill="#0000ff"/><circle cx="675.8" cy="209.1" r="1.22" fill="#0000ff"/><circle cx="711.0" cy="168.1" r="1.22" fill="#ff0000"/><circle cx="712.8" cy="173.0" r="1.22" fill="#ff0000"/><circle cx="718.2" cy="173.5" r="1.22" fill="#ff0000"/><circle cx="720.9" cy="172.3" r="1.22" fill="#ff0000"/><circle cx="729.0" cy="168.1" r="1.22" fill="#ff0000"/><circle cx="733.5" cy="164.5" r="1.22" fill="#ff0000"/><circle cx="714.2" cy="177.1" r="1.22" fill="#ff0000"/><circle cx="714.6" cy="179.9" r="1.22" fill="#ff0000"/><circle cx="715.5" cy="183.1" r="1.22" fill="#ff0000"/><circle cx="711.0" cy="185.3" r="1.22" fill="#ff0000"/><circle cx="715.5" cy="188.0" r="1.22" fill="#ff0000"/><circle cx="710.1" cy="188.9" r="1.22" fill="#ff0000"/><circle cx="720.9" cy="181.3" r="1.22" fill="#ff0000"/><circle cx="721.8" cy="185.3" r="1.22" fill="#ff0000"/><circle cx="724.5" cy="183.1" r="1.22" fill="#ff0000"/><circle cx="720.0" cy="191.6" r="1.22" fill="#ff0000"/><circle cx="720.4" cy="192.9" r="1.22" fill="#ff0000"/><circle cx="713.7" cy="198.8" r="1.22" fill="#ff0000"/><circle cx="714.6" cy="200.1" r="1.22" fill="#ff0000"/><circle cx="707.4" cy="202.4" r="1.22" fill="#ff0000"/><circle cx="719.1" cy="198.8" r="1.22" fill="#ff0000"/><circle cx="722.7" cy="200.1" r="1.22" fill="#ff0000"/><circle cx="709.2" cy="207.8" r="1.22" fill="#ff0000"/><circle cx="712.8" cy="208.4" r="1.22" fill="#ff0000"/><circle cx="715.5" cy="207.8" r="1.22" fill="#ff0000"/><circle cx="722.7" cy="207.3" r="1.22" fill="#ff0000"/><circle cx="723.6" cy="208.7" r="1.22" fill="#ff0000"/><circle cx="717.3" cy="209.1" r="1.22" fill="#ff0000"/><circle cx="672.2" cy="195.8" r="1.22" fill="#0000ff"/><circle cx="674.9" cy="196.6" r="1.22" fill="#0000ff"/><circle cx="667.3" cy="204.7" r="1.22" fill="#0000ff"/><circle cx="670.5" cy="202.8" r="1.22" fill="#0000ff"/><circle cx="674.6" cy="203.1" r="1.22" fill="#0000ff"/><circle cx="675.9" cy="201.8" r="1.22" fill="#0000ff"/><circle cx="680.3" cy="200.7" r="1.22" fill="#0000ff"/><circle cx="684.3" cy="200.7" r="1.22" fill="#0000ff"/><circle cx="668.1" cy="210.4" r="1.22" fill="#0000ff"/><circle cx="671.7" cy="210.9" r="1.22" fill="#0000ff"/><circle cx="675.4" cy="208.0" r="1.22" fill="#0000ff"/><circle cx="677.8" cy="207.2" r="1.22" fill="#0000ff"/><circle cx="680.8" cy="205.6" r="1.22" fill="#0000ff"/><circle cx="684.3" cy="206.0" r="1.22" fill="#0000ff"/><circle cx="685.1" cy="208.0" r="1.22" fill="#0000ff"/><circle cx="668.9" cy="212.1" r="1.22" fill="#0000ff"/><circle cx="670.5" cy="215.3" r="1.22" fill="#0000ff"/><circle cx="674.6" cy="212.9" r="1.22" fill="#0000ff"/><circle cx="677.0" cy="210.4" r="1.22" fill="#0000ff"/><circle cx="679.5" cy="211.2" r="1.22" fill="#0000ff"/><circle cx="681.1" cy="212.1" r="1.22" fill="#0000ff"/><circle cx="681.9" cy="208.8" r="1.22" fill="#0000ff"/><circle cx="671.4" cy="216.9" r="1.22" fill="#0000ff"/><circle cx="675.4" cy="216.1" r="1.22" fill="#0000ff"/><circle cx="677.0" cy="217.7" r="1.22" fill="#0000ff"/><circle cx="678.6" cy="218.6" r="1.22" fill="#0000ff"/><circle cx="680.3" cy="216.9" r="1.22" fill="#0000ff"/><circle cx="682.7" cy="216.1" r="1.22" fill="#0000ff"/><circle cx="684.3" cy="216.1" r="1.22" fill="#0000ff"/><circle cx="676.2" cy="220.2" r="1.22" fill="#0000ff"/><circle cx="677.8" cy="221.0" r="1.22" fill="#0000ff"/><circle cx="681.1" cy="219.4" r="1.22" fill="#0000ff"/><circle cx="673.8" cy="223.4" r="1.22" fill="#0000ff"/><circle cx="675.4" cy="225.1" r="1.22" fill="#0000ff"/><circle cx="677.8" cy="224.2" r="1.22" fill="#0000ff"/><circle cx="680.3" cy="223.4" r="1.22" fill="#0000ff"/><circle cx="682.7" cy="225.9" r="1.22" fill="#0000ff"/><circle cx="684.3" cy="225.1" r="1.22" fill="#0000ff"/><circle cx="676.2" cy="227.5" r="1.22" fill="#0000ff"/><circle cx="678.6" cy="228.3" r="1.22" fill="#0000ff"/><circle cx="680.3" cy="229.1" r="1.22" fill="#0000ff"/><circle cx="683.5" cy="227.5" r="1.22" fill="#0000ff"/><circle cx="685.1" cy="228.3" r="1.22" fill="#0000ff"/><circle cx="677.0" cy="230.7" r="1.22" fill="#0000ff"/><circle cx="679.5" cy="231.5" r="1.22" fill="#0000ff"/><circle cx="681.1" cy="232.4" r="1.22" fill="#0000ff"/><circle cx="683.5" cy="231.5" r="1.22" fill="#0000ff"/><circle cx="685.1" cy="233.2" r="1.22" fill="#0000ff"/><circle cx="678.6" cy="234.0" r="1.22" fill="#0000ff"/><circle cx="680.3" cy="234.8" r="1.22" fill="#0000ff"/><circle cx="682.7" cy="234.0" r="1.22" fill="#0000ff"/><circle cx="674.9" cy="222.6" r="1.22" fill="#0000ff"/><circle cx="679.1" cy="225.9" r="1.22" fill="#0000ff"/><circle cx="681.9" cy="226.7" r="1.22" fill="#0000ff"/><circle cx="677.5" cy="229.1" r="1.22" fill="#0000ff"/><circle cx="682.4" cy="229.9" r="1.22" fill="#0000ff"/><circle cx="680.8" cy="233.2" r="1.22" fill="#0000ff"/><circle cx="684.0" cy="234.8" r="1.22" fill="#0000ff"/><circle cx="678.2" cy="232.4" r="1.22" fill="#0000ff"/><circle cx="673.0" cy="221.0" r="1.22" fill="#0000ff"/><circle cx="679.5" cy="221.8" r="1.22" fill="#0000ff"/><circle cx="707.3" cy="202.3" r="1.22" fill="#ff0000"/><circle cx="712.2" cy="200.7" r="1.22" fill="#ff0000"/><circle cx="713.8" cy="199.1" r="1.22" fill="#ff0000"/><circle cx="716.2" cy="199.9" r="1.22" fill="#ff0000"/><circle cx="719.5" cy="198.6" r="1.22" fill="#ff0000"/><circle cx="722.7" cy="200.7" r="1.22" fill="#ff0000"/><circle cx="708.9" cy="207.2" r="1.22" fill="#ff0000"/><circle cx="712.2" cy="208.8" r="1.22" fill="#ff0000"/><circle cx="714.6" cy="207.7" r="1.22" fill="#ff0000"/><circle cx="716.2" cy="210.4" r="1.22" fill="#ff0000"/><circle cx="718.6" cy="212.1" r="1.22" fill="#ff0000"/><circle cx="722.7" cy="206.4" r="1.22" fill="#ff0000"/><circle cx="723.5" cy="208.0" r="1.22" fill="#ff0000"/><circle cx="708.1" cy="213.7" r="1.22" fill="#ff0000"/><circle cx="709.7" cy="211.2" r="1.22" fill="#ff0000"/><circle cx="711.4" cy="212.9" r="1.22" fill="#ff0000"/><circle cx="713.8" cy="215.3" r="1.22" fill="#ff0000"/><circle cx="717.0" cy="216.1" r="1.22" fill="#ff0000"/><circle cx="719.5" cy="216.9" r="1.22" fill="#ff0000"/><circle cx="708.9" cy="217.7" r="1.22" fill="#ff0000"/><circle cx="711.4" cy="220.2" r="1.22" fill="#ff0000"/><circle cx="714.6" cy="221.0" r="1.22" fill="#ff0000"/><circle cx="707.3" cy="222.6" r="1.22" fill="#ff0000"/><circle cx="708.1" cy="225.9" r="1.22" fill="#ff0000"/><circle cx="709.7" cy="224.2" r="1.22" fill="#ff0000"/><circle cx="712.2" cy="223.4" r="1.22" fill="#ff0000"/><circle cx="715.4" cy="222.6" r="1.22" fill="#ff0000"/><circle cx="716.2" cy="224.2" r="1.22" fill="#ff0000"/><circle cx="717.8" cy="223.4" r="1.22" fill="#ff0000"/><circle cx="706.5" cy="228.3" r="1.22" fill="#ff0000"/><circle cx="708.1" cy="229.9" r="1.22" fill="#ff0000"/><circle cx="709.7" cy="231.5" r="1.22" fill="#ff0000"/><circle cx="707.3" cy="233.2" r="1.22" fill="#ff0000"/><circle cx="708.9" cy="234.0" r="1.22" fill="#ff0000"/><circle cx="711.4" cy="232.4" r="1.22" fill="#ff0000"/><circle cx="713.0" cy="229.9" r="1.22" fill="#ff0000"/><circle cx="714.6" cy="227.5" r="1.22" fill="#ff0000"/><circle cx="716.2" cy="225.9" r="1.22" fill="#ff0000"/><circle cx="707.3" cy="235.6" r="1.22" fill="#ff0000"/><circle cx="706.8" cy="225.1" r="1.22" fill="#ff0000"/><circle cx="707.8" cy="221.0" r="1.22" fill="#ff0000"/><circle cx="706.5" cy="231.5" r="1.22" fill="#ff0000"/><circle cx="708.4" cy="227.5" r="1.22" fill="#ff0000"/><circle cx="710.1" cy="229.1" r="1.22" fill="#ff0000"/><circle cx="710.5" cy="234.0" r="1.22" fill="#ff0000"/><circle cx="712.2" cy="231.1" r="1.22" fill="#ff0000"/><circle cx="713.8" cy="228.3" r="1.22" fill="#ff0000"/><circle cx="715.4" cy="226.2" r="1.22" fill="#ff0000"/><circle cx="709.4" cy="221.8" r="1.22" fill="#ff0000"/><circle cx="706.2" cy="234.8" r="1.22" fill="#ff0000"/><circle cx="707.8" cy="232.0" r="1.22" fill="#ff0000"/><circle cx="682.3" cy="231.3" r="1.22" fill="#0000ff"/><circle cx="683.2" cy="236.0" r="1.22" fill="#0000ff"/><circle cx="677.7" cy="223.3" r="1.22" fill="#0000ff"/><circle cx="684.0" cy="230.3" r="1.22" fill="#0000ff"/><circle cx="676.9" cy="228.7" r="1.22" fill="#0000ff"/><circle cx="674.9" cy="229.5" r="1.22" fill="#0000ff"/><circle cx="683.0" cy="226.4" r="1.22" fill="#0000ff"/><circle cx="681.5" cy="223.5" r="1.22" fill="#0000ff"/><circle cx="676.1" cy="229.6" r="1.22" fill="#0000ff"/><circle cx="677.7" cy="233.6" r="1.22" fill="#0000ff"/><circle cx="684.7" cy="235.3" r="1.22" fill="#0000ff"/><circle cx="681.3" cy="235.8" r="1.22" fill="#0000ff"/><circle cx="683.0" cy="225.2" r="1.22" fill="#0000ff"/><circle cx="684.8" cy="235.1" r="1.22" fill="#0000ff"/><circle cx="675.7" cy="226.3" r="1.22" fill="#0000ff"/><circle cx="676.2" cy="223.1" r="1.22" fill="#0000ff"/><circle cx="679.8" cy="221.7" r="1.22" fill="#0000ff"/><circle cx="682.1" cy="226.3" r="1.22" fill="#0000ff"/><circle cx="678.8" cy="226.8" r="1.22" fill="#0000ff"/><circle cx="682.9" cy="221.8" r="1.22" fill="#0000ff"/><circle cx="683.7" cy="231.5" r="1.22" fill="#0000ff"/><circle cx="679.0" cy="233.2" r="1.22" fill="#0000ff"/><circle cx="673.5" cy="221.5" r="1.22" fill="#0000ff"/><circle cx="677.8" cy="235.9" r="1.22" fill="#0000ff"/><circle cx="685.2" cy="234.7" r="1.22" fill="#0000ff"/><circle cx="679.3" cy="227.5" r="1.22" fill="#0000ff"/><circle cx="680.8" cy="224.1" r="1.22" fill="#0000ff"/><circle cx="675.9" cy="234.9" r="1.22" fill="#0000ff"/><circle cx="676.7" cy="223.5" r="1.22" fill="#0000ff"/><circle cx="679.2" cy="235.7" r="1.22" fill="#0000ff"/><circle cx="707.8" cy="234.6" r="1.22" fill="#ff0000"/><circle cx="706.4" cy="234.9" r="1.22" fill="#ff0000"/><circle cx="706.8" cy="234.8" r="1.22" fill="#ff0000"/><circle cx="708.0" cy="231.3" r="1.22" fill="#ff0000"/><circle cx="707.2" cy="230.2" r="1.22" fill="#ff0000"/><circle cx="707.4" cy="235.9" r="1.22" fill="#ff0000"/><circle cx="712.1" cy="227.9" r="1.22" fill="#ff0000"/><circle cx="707.1" cy="234.7" r="1.22" fill="#ff0000"/><circle cx="709.1" cy="232.5" r="1.22" fill="#ff0000"/><circle cx="710.4" cy="226.0" r="1.22" fill="#ff0000"/><circle cx="707.9" cy="235.0" r="1.22" fill="#ff0000"/><circle cx="711.5" cy="232.7" r="1.22" fill="#ff0000"/><circle cx="707.0" cy="234.1" r="1.22" fill="#ff0000"/><circle cx="710.5" cy="227.4" r="1.22" fill="#ff0000"/><circle cx="711.5" cy="227.8" r="1.22" fill="#ff0000"/><circle cx="708.7" cy="233.5" r="1.22" fill="#ff0000"/><circle cx="709.5" cy="225.8" r="1.22" fill="#ff0000"/><circle cx="707.6" cy="231.0" r="1.22" fill="#ff0000"/><circle cx="708.7" cy="233.1" r="1.22" fill="#ff0000"/><circle cx="709.9" cy="230.2" r="1.22" fill="#ff0000"/><circle cx="710.2" cy="227.3" r="1.22" fill="#ff0000"/><circle cx="713.9" cy="224.4" r="1.22" fill="#ff0000"/><circle cx="708.0" cy="229.9" r="1.22" fill="#ff0000"/><circle cx="711.7" cy="226.6" r="1.22" fill="#ff0000"/><circle cx="710.1" cy="230.1" r="1.22" fill="#ff0000"/>
<rect x="647.5" y="44.5" width="96.5" height="200.0" fill="none" stroke="#4a4a4a" stroke-width="1"/>
<path d="M669.57 244.5L669.57 246.5M694.90 244.5L694.90 246.5M720.23 244.5L720.23 246.5M645.5 89.58L647.5 89.58M645.5 143.19L647.5 143.19M645.5 196.80L647.5 196.80" stroke="#444" stroke-width="0.8"/>
<circle cx="757.2" cy="144" r="1.2" fill="#0000ff"/>
<circle cx="757.2" cy="158" r="1.2" fill="#ff0000"/>
<text x="200.9" y="57.1" font-size="11.3" text-anchor="start" font-weight="normal" >2</text><text x="200.9" y="84.9" font-size="11.3" text-anchor="start" font-weight="normal" >0</text><text x="198.2" y="111.4" font-size="11.3" text-anchor="start" font-weight="normal" >-2</text><text x="60.0" y="250.2" font-size="11.3" text-anchor="start" font-weight="normal" >OSTCC</text><text x="142.0" y="250.2" font-size="11.3" text-anchor="start" font-weight="normal" >ANT</text><text x="-0.6" y="16.9" font-size="16.5" text-anchor="start" font-weight="bold" >a</text><text x="238.5" y="16.0" font-size="16.0" text-anchor="start" font-weight="bold" >b</text><text x="432.3" y="13.5" font-size="16.0" text-anchor="start" font-weight="bold" >c</text><text x="624.6" y="12.1" font-size="16.0" text-anchor="start" font-weight="bold" >d</text><text x="280.2" y="256.4" font-size="11.5" text-anchor="middle" font-weight="normal" >−5</text><text x="305.3" y="256.4" font-size="11.5" text-anchor="middle" font-weight="normal" >0</text><text x="330.4" y="256.4" font-size="11.5" text-anchor="middle" font-weight="normal" >5</text><text x="255.9" y="88.0" font-size="11.5" text-anchor="end" font-weight="normal" >2.4</text><text x="255.9" y="142.8" font-size="11.5" text-anchor="end" font-weight="normal" >2.0</text><text x="255.9" y="197.6" font-size="11.5" text-anchor="end" font-weight="normal" >1.6</text><text x="309.5" y="273.6" font-size="12.0" text-anchor="middle" font-weight="normal" >logFC</text><text transform="translate(233.2 146.0) rotate(-90)" font-size="12" text-anchor="middle">-Log<tspan font-size="7" dy="2">10</tspan><tspan dy="-2">(</tspan><tspan font-style="italic">P</tspan> value)</text><text x="247.1" y="36.3" font-size="11.7" text-anchor="start" font-weight="normal" xml:space="preserve">Volcano plot of  mRNA</text><text x="355.8" y="135.2" font-size="11.0" text-anchor="start" font-weight="normal" >Significant</text><text x="367.8" y="148.4" font-size="11.0" text-anchor="start" font-weight="normal" >Down</text><text x="367.8" y="162.2" font-size="11.0" text-anchor="start" font-weight="normal" >Up</text><text x="354.3" y="204.8" font-size="11.0" text-anchor="start" font-weight="normal" >0</text><text x="480.7" y="256.4" font-size="11.5" text-anchor="middle" font-weight="normal" >−5</text><text x="511.7" y="256.4" font-size="11.5" text-anchor="middle" font-weight="normal" >0</text><text x="542.7" y="256.4" font-size="11.5" text-anchor="middle" font-weight="normal" >5</text><text x="446.9" y="75.7" font-size="11.5" text-anchor="end" font-weight="normal" >4</text><text x="446.9" y="136.3" font-size="11.5" text-anchor="end" font-weight="normal" >3</text><text x="446.9" y="196.9" font-size="11.5" text-anchor="end" font-weight="normal" >2</text><text x="514.4" y="273.6" font-size="12.0" text-anchor="middle" font-weight="normal" >logFC</text><text transform="translate(432.8 146.3) rotate(-90)" font-size="12" text-anchor="middle">-Log<tspan font-size="7" dy="2">10</tspan><tspan dy="-2">(</tspan><tspan font-style="italic">P</tspan> value)</text><text x="437.9" y="36.3" font-size="11.7" text-anchor="start" font-weight="normal" xml:space="preserve">Volcano plot of  LncRNA</text><text x="554.7" y="135.2" font-size="11.0" text-anchor="start" font-weight="normal" >Significant</text><text x="566.7" y="148.4" font-size="11.0" text-anchor="start" font-weight="normal" >Down</text><text x="566.7" y="162.2" font-size="11.0" text-anchor="start" font-weight="normal" >Up</text><text x="669.6" y="256.4" font-size="11.5" text-anchor="middle" font-weight="normal" >−2.5</text><text x="694.9" y="256.4" font-size="11.5" text-anchor="middle" font-weight="normal" >0</text><text x="720.2" y="256.4" font-size="11.5" text-anchor="middle" font-weight="normal" >2.5</text><text x="641.9" y="93.7" font-size="11.5" text-anchor="end" font-weight="normal" >9</text><text x="641.9" y="147.3" font-size="11.5" text-anchor="end" font-weight="normal" >6</text><text x="641.9" y="200.9" font-size="11.5" text-anchor="end" font-weight="normal" >3</text><text x="698.9" y="273.6" font-size="12.0" text-anchor="middle" font-weight="normal" >logFC</text><text transform="translate(627.2 149.5) rotate(-90)" font-size="12" text-anchor="middle">-Log<tspan font-size="7" dy="2">10</tspan><tspan dy="-2">(</tspan><tspan font-style="italic">P</tspan> value)</text><text x="635.4" y="36.3" font-size="11.7" text-anchor="start" font-weight="normal" xml:space="preserve">Volcano plot of  miRNA</text><text x="748.4" y="135.2" font-size="11.0" text-anchor="start" font-weight="normal" >Significant</text><text x="762.2" y="148.4" font-size="11.0" text-anchor="start" font-weight="normal" >Down</text><text x="762.2" y="162.2" font-size="11.0" text-anchor="start" font-weight="normal" >Up</text>
</svg></body></html>
